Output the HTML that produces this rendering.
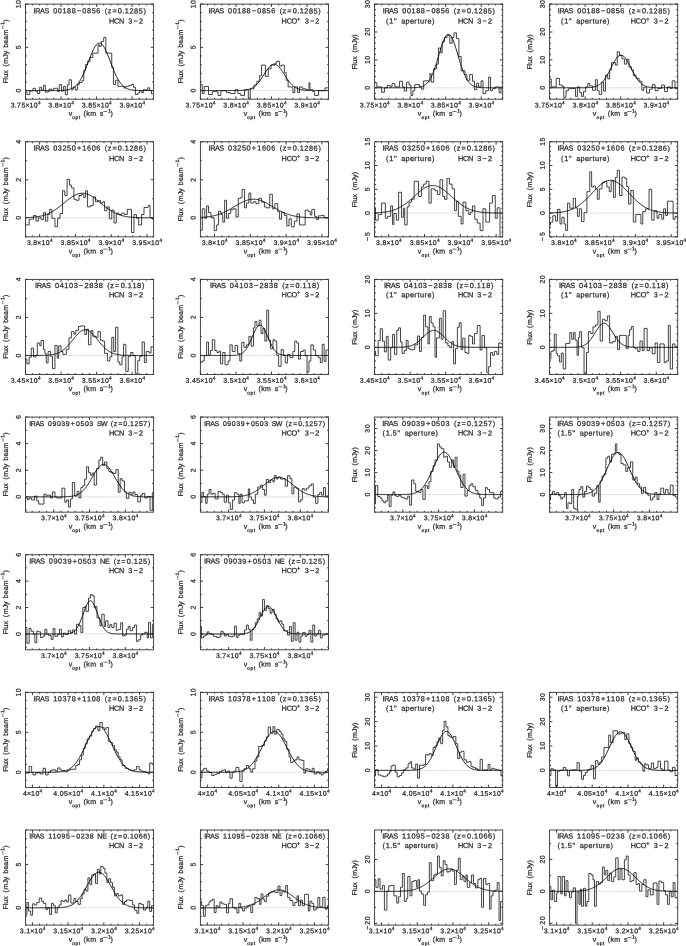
<!DOCTYPE html>
<html><head><meta charset="utf-8"><style>
html,body{margin:0;padding:0;background:#fff;width:686px;height:946px;overflow:hidden}
svg{display:block;will-change:transform}
text{font-family:"Liberation Sans",sans-serif;text-rendering:geometricPrecision;fill:#2a2a2a;stroke:#2a2a2a;stroke-width:0.25px;white-space:pre}
</style></head><body>
<svg width="686" height="946" viewBox="0 0 686 946">
<clipPath id="c00"><rect x="25.5" y="4.1" width="128.1" height="95.1"/></clipPath>
<line x1="25.5" y1="90.55" x2="153.6" y2="90.55" stroke="#999" stroke-width="0.6" stroke-dasharray="0.6 0.7"/>
<path d="M25.47,90.24 H26.90 V94.50 H29.74 V91.00 H33.05 V88.34 H35.42 V91.18 H37.32 V93.55 H39.69 V87.20 H41.58 V90.24 H43.48 V85.31 H45.37 V92.13 H47.74 V91.66 H49.16 V89.10 H51.53 V90.24 H53.43 V88.34 H57.69 V91.47 H59.30 V84.55 H61.48 V91.18 H63.37 V86.45 H65.27 V94.79 H67.35 V84.83 H69.06 V79.81 H71.43 V89.29 H73.32 V86.92 H75.22 V89.76 H77.59 V84.36 H79.48 V82.46 H81.85 V80.76 H83.75 V70.14 H85.64 V64.45 H87.54 V61.33 H90.00 V57.44 H92.79 V53.18 H98.00 V44.83 H99.42 V46.35 H101.32 V41.61 H103.69 V37.35 H105.87 V53.18 H111.74 V67.39 H113.45 V84.45 H115.53 V80.19 H117.90 V86.35 H124.06 V88.06 H125.48 V86.35 H128.80 V85.40 H131.64 V84.45 H133.53 V87.30 H135.43 V94.41 H137.80 V92.99 H139.69 V90.62 H141.59 V92.51 H143.48 V89.67 H145.85 V90.14 H147.75 V87.77 H149.64 V90.33 H151.54 V93.93 H154.38" fill="none" stroke="#222" stroke-width="0.85" clip-path="url(#c00)"/>
<path d="M25.50,90.55 L26.14,90.55 L26.78,90.55 L27.42,90.55 L28.06,90.55 L28.70,90.55 L29.34,90.55 L29.98,90.55 L30.62,90.55 L31.26,90.55 L31.91,90.55 L32.55,90.55 L33.19,90.55 L33.83,90.55 L34.47,90.55 L35.11,90.55 L35.75,90.55 L36.39,90.55 L37.03,90.55 L37.67,90.55 L38.31,90.55 L38.95,90.55 L39.59,90.55 L40.23,90.55 L40.87,90.55 L41.51,90.55 L42.15,90.55 L42.79,90.55 L43.43,90.55 L44.07,90.55 L44.72,90.55 L45.36,90.55 L46.00,90.55 L46.64,90.55 L47.28,90.55 L47.92,90.55 L48.56,90.55 L49.20,90.55 L49.84,90.55 L50.48,90.55 L51.12,90.55 L51.76,90.55 L52.40,90.55 L53.04,90.55 L53.68,90.55 L54.32,90.54 L54.96,90.54 L55.60,90.54 L56.24,90.53 L56.88,90.53 L57.52,90.52 L58.17,90.51 L58.81,90.50 L59.45,90.49 L60.09,90.48 L60.73,90.46 L61.37,90.44 L62.01,90.41 L62.65,90.38 L63.29,90.35 L63.93,90.30 L64.57,90.25 L65.21,90.19 L65.85,90.12 L66.49,90.03 L67.13,89.93 L67.77,89.82 L68.41,89.68 L69.05,89.53 L69.69,89.35 L70.34,89.14 L70.98,88.91 L71.62,88.64 L72.26,88.34 L72.90,88.00 L73.54,87.62 L74.18,87.19 L74.82,86.71 L75.46,86.18 L76.10,85.59 L76.74,84.95 L77.38,84.24 L78.02,83.46 L78.66,82.62 L79.30,81.70 L79.94,80.72 L80.58,79.66 L81.22,78.53 L81.86,77.33 L82.50,76.06 L83.15,74.72 L83.79,73.32 L84.43,71.86 L85.07,70.34 L85.71,68.77 L86.35,67.16 L86.99,65.51 L87.63,63.85 L88.27,62.16 L88.91,60.48 L89.55,58.80 L90.19,57.15 L90.83,55.53 L91.47,53.95 L92.11,52.44 L92.75,50.99 L93.39,49.64 L94.03,48.38 L94.67,47.23 L95.31,46.20 L95.95,45.30 L96.60,44.54 L97.24,43.92 L97.88,43.46 L98.52,43.16 L99.16,43.02 L99.80,43.04 L100.44,43.22 L101.08,43.56 L101.72,44.06 L102.36,44.71 L103.00,45.50 L103.64,46.43 L104.28,47.49 L104.92,48.67 L105.56,49.96 L106.20,51.34 L106.84,52.80 L107.48,54.33 L108.12,55.92 L108.77,57.55 L109.41,59.21 L110.05,60.89 L110.69,62.57 L111.33,64.25 L111.97,65.91 L112.61,67.55 L113.25,69.15 L113.89,70.71 L114.53,72.22 L115.17,73.67 L115.81,75.05 L116.45,76.38 L117.09,77.63 L117.73,78.82 L118.37,79.93 L119.01,80.97 L119.65,81.93 L120.29,82.83 L120.93,83.65 L121.58,84.41 L122.22,85.11 L122.86,85.74 L123.50,86.31 L124.14,86.83 L124.78,87.30 L125.42,87.71 L126.06,88.09 L126.70,88.42 L127.34,88.71 L127.98,88.97 L128.62,89.19 L129.26,89.39 L129.90,89.57 L130.54,89.72 L131.18,89.84 L131.82,89.96 L132.46,90.05 L133.10,90.13 L133.74,90.20 L134.38,90.26 L135.03,90.31 L135.67,90.36 L136.31,90.39 L136.95,90.42 L137.59,90.44 L138.23,90.47 L138.87,90.48 L139.51,90.50 L140.15,90.51 L140.79,90.52 L141.43,90.52 L142.07,90.53 L142.71,90.54 L143.35,90.54 L143.99,90.54 L144.63,90.55 L145.27,90.55 L145.91,90.55 L146.55,90.55 L147.19,90.55 L147.84,90.55 L148.48,90.55 L149.12,90.55 L149.76,90.55 L150.40,90.55 L151.04,90.55 L151.68,90.55 L152.32,90.55 L152.96,90.55 L153.60,90.55" fill="none" stroke="#000" stroke-width="0.9" clip-path="url(#c00)"/>
<rect x="25.5" y="4.1" width="128.1" height="95.1" fill="none" stroke="#333" stroke-width="0.9"/>
<path d="M25.50,99.19999999999999 v-2.8 M25.50,4.1 v2.8 M32.61,99.19999999999999 v-1.4 M32.61,4.1 v1.4 M39.72,99.19999999999999 v-1.4 M39.72,4.1 v1.4 M46.83,99.19999999999999 v-1.4 M46.83,4.1 v1.4 M53.94,99.19999999999999 v-1.4 M53.94,4.1 v1.4 M61.05,99.19999999999999 v-2.8 M61.05,4.1 v2.8 M68.16,99.19999999999999 v-1.4 M68.16,4.1 v1.4 M75.27,99.19999999999999 v-1.4 M75.27,4.1 v1.4 M82.38,99.19999999999999 v-1.4 M82.38,4.1 v1.4 M89.49,99.19999999999999 v-1.4 M89.49,4.1 v1.4 M96.60,99.19999999999999 v-2.8 M96.60,4.1 v2.8 M103.71,99.19999999999999 v-1.4 M103.71,4.1 v1.4 M110.82,99.19999999999999 v-1.4 M110.82,4.1 v1.4 M117.93,99.19999999999999 v-1.4 M117.93,4.1 v1.4 M125.04,99.19999999999999 v-1.4 M125.04,4.1 v1.4 M132.15,99.19999999999999 v-2.8 M132.15,4.1 v2.8 M139.26,99.19999999999999 v-1.4 M139.26,4.1 v1.4 M146.37,99.19999999999999 v-1.4 M146.37,4.1 v1.4 M153.48,99.19999999999999 v-1.4 M153.48,4.1 v1.4 M25.5,99.20 h1.4 M153.6,99.20 h-1.4 M25.5,90.55 h2.8 M153.6,90.55 h-2.8 M25.5,81.91 h1.4 M153.6,81.91 h-1.4 M25.5,73.26 h1.4 M153.6,73.26 h-1.4 M25.5,64.62 h1.4 M153.6,64.62 h-1.4 M25.5,55.97 h1.4 M153.6,55.97 h-1.4 M25.5,47.33 h2.8 M153.6,47.33 h-2.8 M25.5,38.68 h1.4 M153.6,38.68 h-1.4 M25.5,30.04 h1.4 M153.6,30.04 h-1.4 M25.5,21.39 h1.4 M153.6,21.39 h-1.4 M25.5,12.75 h1.4 M153.6,12.75 h-1.4 M25.5,4.10 h2.8 M153.6,4.10 h-2.8" stroke="#333" stroke-width="0.95" fill="none"/>
<text transform="matrix(1,0.0005,0,1,0,-0.0052)" x="10.64 14.82 17.09 21.39 25.38 29.56 33.86" y="107.40" font-size="6.90">3.75×10</text>
<text transform="matrix(1,0.0005,0,1,0,-0.0190)" x="37.96" y="104.20" font-size="4.69">4</text>
<text transform="matrix(1,0.0005,0,1,0,-0.0241)" x="48.34 52.52 54.79 58.78 62.96 67.26" y="107.40" font-size="6.90">3.8×10</text>
<text transform="matrix(1,0.0005,0,1,0,-0.0357)" x="71.36" y="104.20" font-size="4.69">4</text>
<text transform="matrix(1,0.0005,0,1,0,-0.0408)" x="81.74 85.92 88.19 92.49 96.48 100.66 104.96" y="107.40" font-size="6.90">3.85×10</text>
<text transform="matrix(1,0.0005,0,1,0,-0.0545)" x="109.06" y="104.20" font-size="4.69">4</text>
<text transform="matrix(1,0.0005,0,1,0,-0.0596)" x="119.44 123.62 125.89 129.88 134.06 138.36" y="107.40" font-size="6.90">3.9×10</text>
<text transform="matrix(1,0.0005,0,1,0,-0.0712)" x="142.46" y="104.20" font-size="4.69">4</text>
<text transform="translate(20.70,92.70) rotate(-90) matrix(1,0.0005,0,1,0,0)" x="0.23" y="0" font-size="6.90">0</text>
<text transform="translate(20.70,49.48) rotate(-90) matrix(1,0.0005,0,1,0,0)" x="0.23" y="0" font-size="6.90">5</text>
<text transform="translate(20.70,8.40) rotate(-90) matrix(1,0.0005,0,1,0,0)" x="0.23 4.53" y="0" font-size="6.90">10</text>
<text transform="matrix(1,0.0005,0,1,0,-0.0344)" x="68.77" y="115.80" font-size="7.00">v</text>
<text transform="matrix(1,0.0005,0,1,0,-0.0360)" x="72.33 75.53 78.81" y="119.10" font-size="4.90">opt</text>
<text transform="matrix(1,0.0005,0,1,0,-0.0416)" x="83.54 86.29 90.17 97.06 99.83" y="115.80" font-size="7.00">(km s</text>
<line x1="103.30" y1="111.50" x2="107.50" y2="111.50" stroke="#333" stroke-width="0.7"/>
<text transform="matrix(1,0.0005,0,1,0,-0.0540)" x="108.01" y="112.60" font-size="5.00">1</text>
<text transform="matrix(1,0.0005,0,1,0,-0.0551)" x="110.44" y="115.80" font-size="7.00">)</text>
<text transform="translate(8.00,83.30) rotate(-90) matrix(1,0.0005,0,1,0,0)" x="-0.25 3.85 5.52 9.50 13.74 16.70 19.58 25.58 28.94 33.08 35.78 39.67 43.56 47.74" y="0" font-size="7.00">Flux (mJy beam</text>
<line x1="2.90" y1="29.00" x2="2.90" y2="25.20" stroke="#333" stroke-width="0.7"/>
<text transform="translate(4.20,24.90) rotate(-90) matrix(1,0.0005,0,1,0,0)" x="0.11" y="0" font-size="5.00">1</text>
<text transform="translate(8.00,22.10) rotate(-90) matrix(1,0.0005,0,1,0,0)" x="0.31" y="0" font-size="7.00">)</text>
<text transform="matrix(1,0.0005,0,1,0,-0.0168)" x="33.56 35.30 40.02 44.43 50.01 53.17 57.81 62.44 67.08 71.71 76.94 82.37 87.00 91.64 96.27 101.46 104.73 107.72 112.39 117.82 122.31 124.78 129.41 134.05 138.68 143.43" y="13.33" font-size="7.26">IRAS 00188−0856 (z=0.1285)</text>
<text transform="matrix(1,0.0005,0,1,0,-0.0545)" x="109.00 114.01 119.02 125.07 128.25 133.50 138.97" y="23.58" font-size="7.30">HCN 3−2</text>
<clipPath id="c01"><rect x="200.4" y="4.1" width="128.1" height="95.1"/></clipPath>
<line x1="200.4" y1="90.55" x2="328.5" y2="90.55" stroke="#999" stroke-width="0.6" stroke-dasharray="0.6 0.7"/>
<path d="M200.57,84.63 H202.27 V93.55 H204.17 V86.53 H208.53 V94.50 H212.32 V91.65 H218.00 V95.45 H220.85 V90.70 H226.53 V92.60 H230.32 V93.55 H235.06 V89.76 H237.90 V93.55 H240.74 V95.45 H244.53 V89.76 H248.32 V98.29 H250.22 V88.81 H254.01 V85.01 H256.85 V81.22 H259.69 V75.53 H261.59 V65.09 H265.38 V76.48 H268.22 V68.89 H271.06 V65.09 H274.85 V63.20 H276.75 V61.30 H279.59 V66.04 H281.49 V65.09 H284.33 V72.68 H286.22 V80.27 H288.12 V86.91 H292.86 V92.60 H294.75 V86.91 H297.59 V92.60 H299.49 V86.91 H302.33 V88.81 H306.12 V89.76 H308.97 V82.74 H309.91 V89.76 H312.76 V91.65 H314.65 V95.45 H318.44 V90.70 H325.07 V87.86 H328.10" fill="none" stroke="#222" stroke-width="0.85" clip-path="url(#c01)"/>
<path d="M200.40,90.55 L201.04,90.55 L201.68,90.55 L202.32,90.55 L202.96,90.55 L203.60,90.55 L204.24,90.55 L204.88,90.55 L205.52,90.55 L206.16,90.55 L206.81,90.55 L207.45,90.55 L208.09,90.55 L208.73,90.55 L209.37,90.55 L210.01,90.55 L210.65,90.55 L211.29,90.55 L211.93,90.55 L212.57,90.55 L213.21,90.55 L213.85,90.55 L214.49,90.55 L215.13,90.55 L215.77,90.55 L216.41,90.55 L217.05,90.55 L217.69,90.55 L218.33,90.55 L218.97,90.55 L219.62,90.55 L220.26,90.55 L220.90,90.55 L221.54,90.55 L222.18,90.55 L222.82,90.55 L223.46,90.55 L224.10,90.55 L224.74,90.55 L225.38,90.55 L226.02,90.55 L226.66,90.55 L227.30,90.55 L227.94,90.55 L228.58,90.55 L229.22,90.55 L229.86,90.55 L230.50,90.55 L231.14,90.55 L231.78,90.55 L232.43,90.55 L233.07,90.55 L233.71,90.54 L234.35,90.54 L234.99,90.54 L235.63,90.53 L236.27,90.53 L236.91,90.52 L237.55,90.51 L238.19,90.50 L238.83,90.49 L239.47,90.47 L240.11,90.46 L240.75,90.43 L241.39,90.41 L242.03,90.37 L242.67,90.33 L243.31,90.29 L243.95,90.23 L244.59,90.16 L245.24,90.09 L245.88,90.00 L246.52,89.89 L247.16,89.77 L247.80,89.63 L248.44,89.47 L249.08,89.28 L249.72,89.07 L250.36,88.84 L251.00,88.57 L251.64,88.27 L252.28,87.93 L252.92,87.56 L253.56,87.15 L254.20,86.70 L254.84,86.20 L255.48,85.66 L256.12,85.07 L256.76,84.44 L257.40,83.76 L258.05,83.03 L258.69,82.26 L259.33,81.45 L259.97,80.59 L260.61,79.70 L261.25,78.78 L261.89,77.83 L262.53,76.85 L263.17,75.86 L263.81,74.86 L264.45,73.86 L265.09,72.86 L265.73,71.87 L266.37,70.91 L267.01,69.98 L267.65,69.10 L268.29,68.26 L268.93,67.48 L269.57,66.76 L270.21,66.12 L270.86,65.57 L271.50,65.10 L272.14,64.72 L272.78,64.44 L273.42,64.26 L274.06,64.19 L274.70,64.22 L275.34,64.35 L275.98,64.58 L276.62,64.92 L277.26,65.35 L277.90,65.87 L278.54,66.47 L279.18,67.15 L279.82,67.90 L280.46,68.72 L281.10,69.58 L281.74,70.50 L282.38,71.44 L283.02,72.42 L283.67,73.41 L284.31,74.41 L284.95,75.42 L285.59,76.41 L286.23,77.40 L286.87,78.36 L287.51,79.30 L288.15,80.20 L288.79,81.07 L289.43,81.90 L290.07,82.69 L290.71,83.44 L291.35,84.14 L291.99,84.79 L292.63,85.40 L293.27,85.96 L293.91,86.48 L294.55,86.95 L295.19,87.38 L295.83,87.77 L296.48,88.13 L297.12,88.44 L297.76,88.72 L298.40,88.97 L299.04,89.19 L299.68,89.39 L300.32,89.56 L300.96,89.71 L301.60,89.84 L302.24,89.95 L302.88,90.05 L303.52,90.13 L304.16,90.20 L304.80,90.26 L305.44,90.31 L306.08,90.36 L306.72,90.39 L307.36,90.42 L308.00,90.45 L308.64,90.47 L309.29,90.48 L309.93,90.50 L310.57,90.51 L311.21,90.52 L311.85,90.53 L312.49,90.53 L313.13,90.54 L313.77,90.54 L314.41,90.54 L315.05,90.55 L315.69,90.55 L316.33,90.55 L316.97,90.55 L317.61,90.55 L318.25,90.55 L318.89,90.55 L319.53,90.55 L320.17,90.55 L320.81,90.55 L321.45,90.55 L322.10,90.55 L322.74,90.55 L323.38,90.55 L324.02,90.55 L324.66,90.55 L325.30,90.55 L325.94,90.55 L326.58,90.55 L327.22,90.55 L327.86,90.55 L328.50,90.55" fill="none" stroke="#000" stroke-width="0.9" clip-path="url(#c01)"/>
<rect x="200.4" y="4.1" width="128.1" height="95.1" fill="none" stroke="#333" stroke-width="0.9"/>
<path d="M200.40,99.19999999999999 v-2.8 M200.40,4.1 v2.8 M207.51,99.19999999999999 v-1.4 M207.51,4.1 v1.4 M214.62,99.19999999999999 v-1.4 M214.62,4.1 v1.4 M221.73,99.19999999999999 v-1.4 M221.73,4.1 v1.4 M228.84,99.19999999999999 v-1.4 M228.84,4.1 v1.4 M235.95,99.19999999999999 v-2.8 M235.95,4.1 v2.8 M243.06,99.19999999999999 v-1.4 M243.06,4.1 v1.4 M250.17,99.19999999999999 v-1.4 M250.17,4.1 v1.4 M257.28,99.19999999999999 v-1.4 M257.28,4.1 v1.4 M264.39,99.19999999999999 v-1.4 M264.39,4.1 v1.4 M271.50,99.19999999999999 v-2.8 M271.50,4.1 v2.8 M278.61,99.19999999999999 v-1.4 M278.61,4.1 v1.4 M285.72,99.19999999999999 v-1.4 M285.72,4.1 v1.4 M292.83,99.19999999999999 v-1.4 M292.83,4.1 v1.4 M299.94,99.19999999999999 v-1.4 M299.94,4.1 v1.4 M307.05,99.19999999999999 v-2.8 M307.05,4.1 v2.8 M314.16,99.19999999999999 v-1.4 M314.16,4.1 v1.4 M321.27,99.19999999999999 v-1.4 M321.27,4.1 v1.4 M328.38,99.19999999999999 v-1.4 M328.38,4.1 v1.4 M200.4,99.20 h1.4 M328.5,99.20 h-1.4 M200.4,90.55 h2.8 M328.5,90.55 h-2.8 M200.4,81.91 h1.4 M328.5,81.91 h-1.4 M200.4,73.26 h1.4 M328.5,73.26 h-1.4 M200.4,64.62 h1.4 M328.5,64.62 h-1.4 M200.4,55.97 h1.4 M328.5,55.97 h-1.4 M200.4,47.33 h2.8 M328.5,47.33 h-2.8 M200.4,38.68 h1.4 M328.5,38.68 h-1.4 M200.4,30.04 h1.4 M328.5,30.04 h-1.4 M200.4,21.39 h1.4 M328.5,21.39 h-1.4 M200.4,12.75 h1.4 M328.5,12.75 h-1.4 M200.4,4.10 h2.8 M328.5,4.10 h-2.8" stroke="#333" stroke-width="0.95" fill="none"/>
<text transform="matrix(1,0.0005,0,1,0,-0.0927)" x="185.54 189.72 191.99 196.29 200.28 204.46 208.76" y="107.40" font-size="6.90">3.75×10</text>
<text transform="matrix(1,0.0005,0,1,0,-0.1064)" x="212.86" y="104.20" font-size="4.69">4</text>
<text transform="matrix(1,0.0005,0,1,0,-0.1115)" x="223.24 227.42 229.69 233.68 237.86 242.16" y="107.40" font-size="6.90">3.8×10</text>
<text transform="matrix(1,0.0005,0,1,0,-0.1231)" x="246.26" y="104.20" font-size="4.69">4</text>
<text transform="matrix(1,0.0005,0,1,0,-0.1282)" x="256.64 260.82 263.09 267.39 271.38 275.56 279.86" y="107.40" font-size="6.90">3.85×10</text>
<text transform="matrix(1,0.0005,0,1,0,-0.1420)" x="283.96" y="104.20" font-size="4.69">4</text>
<text transform="matrix(1,0.0005,0,1,0,-0.1471)" x="294.34 298.52 300.79 304.78 308.96 313.26" y="107.40" font-size="6.90">3.9×10</text>
<text transform="matrix(1,0.0005,0,1,0,-0.1587)" x="317.36" y="104.20" font-size="4.69">4</text>
<text transform="translate(195.60,92.70) rotate(-90) matrix(1,0.0005,0,1,0,0)" x="0.23" y="0" font-size="6.90">0</text>
<text transform="translate(195.60,49.48) rotate(-90) matrix(1,0.0005,0,1,0,0)" x="0.23" y="0" font-size="6.90">5</text>
<text transform="translate(195.60,8.40) rotate(-90) matrix(1,0.0005,0,1,0,0)" x="0.23 4.53" y="0" font-size="6.90">10</text>
<text transform="matrix(1,0.0005,0,1,0,-0.1218)" x="243.67" y="115.80" font-size="7.00">v</text>
<text transform="matrix(1,0.0005,0,1,0,-0.1235)" x="247.23 250.43 253.71" y="119.10" font-size="4.90">opt</text>
<text transform="matrix(1,0.0005,0,1,0,-0.1291)" x="258.44 261.19 265.07 271.96 274.73" y="115.80" font-size="7.00">(km s</text>
<line x1="278.20" y1="111.50" x2="282.40" y2="111.50" stroke="#333" stroke-width="0.7"/>
<text transform="matrix(1,0.0005,0,1,0,-0.1414)" x="282.91" y="112.60" font-size="5.00">1</text>
<text transform="matrix(1,0.0005,0,1,0,-0.1425)" x="285.34" y="115.80" font-size="7.00">)</text>
<text transform="translate(182.90,83.30) rotate(-90) matrix(1,0.0005,0,1,0,0)" x="-0.25 3.85 5.52 9.50 13.74 16.70 19.58 25.58 28.94 33.08 35.78 39.67 43.56 47.74" y="0" font-size="7.00">Flux (mJy beam</text>
<line x1="177.80" y1="29.00" x2="177.80" y2="25.20" stroke="#333" stroke-width="0.7"/>
<text transform="translate(179.10,24.90) rotate(-90) matrix(1,0.0005,0,1,0,0)" x="0.11" y="0" font-size="5.00">1</text>
<text transform="translate(182.90,22.10) rotate(-90) matrix(1,0.0005,0,1,0,0)" x="0.31" y="0" font-size="7.00">)</text>
<text transform="matrix(1,0.0005,0,1,0,-0.1043)" x="208.46 210.20 214.92 219.33 224.91 228.07 232.71 237.34 241.98 246.61 251.84 257.27 261.90 266.54 271.17 276.36 279.63 282.62 287.29 292.72 297.21 299.68 304.31 308.95 313.58 318.33" y="13.33" font-size="7.26">IRAS 00188−0856 (z=0.1285)</text>
<text transform="matrix(1,0.0005,0,1,0,-0.1408)" x="281.62 286.63 291.44" y="23.58" font-size="7.30">HCO</text>
<text transform="matrix(1,0.0005,0,1,0,-0.1484)" x="297.08" y="20.88" font-size="5.60">+</text>
<text transform="matrix(1,0.0005,0,1,0,-0.1503)" x="301.45 304.63 309.88 315.34" y="23.58" font-size="7.30"> 3−2</text>
<clipPath id="c02"><rect x="374.6" y="4.1" width="128.1" height="95.1"/></clipPath>
<line x1="374.6" y1="87.77" x2="502.70000000000005" y2="87.77" stroke="#999" stroke-width="0.6" stroke-dasharray="0.6 0.7"/>
<path d="M374.00,82.74 H376.84 V86.91 H381.58 V92.22 H384.42 V87.86 H387.27 V85.39 H390.11 V86.91 H392.00 V83.69 H394.85 V86.91 H399.58 V81.22 H402.43 V86.91 H404.32 V91.08 H406.59 V82.17 H409.06 V85.01 H410.95 V95.45 H412.85 V90.70 H414.74 V84.63 H419.48 V86.91 H421.38 V89.19 H423.65 V80.84 H428.01 V81.22 H429.90 V73.63 H431.23 V82.17 H433.69 V68.89 H436.54 V64.15 H438.43 V48.02 H440.71 V52.76 H442.22 V41.76 H444.50 V37.59 H446.96 V35.31 H449.80 V43.28 H452.08 V37.59 H453.97 V32.85 H456.43 V38.54 H458.90 V56.56 H461.17 V70.79 H464.96 V74.58 H466.86 V80.27 H469.70 V74.58 H472.54 V81.22 H474.44 V89.76 H476.71 V83.12 H478.61 V86.91 H481.07 V80.84 H482.97 V93.55 H485.81 V90.70 H488.65 V77.05 H490.55 V90.70 H492.44 V88.81 H495.28 V86.91 H499.07 V92.60 H500.97 V86.91 H504.76" fill="none" stroke="#222" stroke-width="0.85" clip-path="url(#c02)"/>
<path d="M374.60,87.77 L375.24,87.77 L375.88,87.77 L376.52,87.77 L377.16,87.77 L377.80,87.77 L378.44,87.77 L379.08,87.77 L379.72,87.77 L380.36,87.77 L381.00,87.77 L381.65,87.77 L382.29,87.77 L382.93,87.77 L383.57,87.77 L384.21,87.77 L384.85,87.77 L385.49,87.77 L386.13,87.77 L386.77,87.77 L387.41,87.77 L388.05,87.77 L388.69,87.77 L389.33,87.77 L389.97,87.77 L390.61,87.77 L391.25,87.77 L391.89,87.77 L392.53,87.77 L393.17,87.77 L393.81,87.77 L394.46,87.77 L395.10,87.77 L395.74,87.77 L396.38,87.77 L397.02,87.77 L397.66,87.77 L398.30,87.77 L398.94,87.77 L399.58,87.77 L400.22,87.77 L400.86,87.77 L401.50,87.77 L402.14,87.77 L402.78,87.77 L403.42,87.76 L404.06,87.76 L404.70,87.76 L405.34,87.76 L405.98,87.76 L406.62,87.76 L407.27,87.76 L407.91,87.76 L408.55,87.76 L409.19,87.75 L409.83,87.75 L410.47,87.74 L411.11,87.74 L411.75,87.73 L412.39,87.72 L413.03,87.71 L413.67,87.69 L414.31,87.67 L414.95,87.64 L415.59,87.61 L416.23,87.57 L416.87,87.52 L417.51,87.46 L418.15,87.39 L418.79,87.30 L419.44,87.20 L420.08,87.08 L420.72,86.93 L421.36,86.75 L422.00,86.55 L422.64,86.30 L423.28,86.02 L423.92,85.69 L424.56,85.31 L425.20,84.88 L425.84,84.38 L426.48,83.82 L427.12,83.18 L427.76,82.46 L428.40,81.65 L429.04,80.75 L429.68,79.76 L430.32,78.67 L430.96,77.48 L431.60,76.18 L432.25,74.77 L432.89,73.26 L433.53,71.64 L434.17,69.93 L434.81,68.12 L435.45,66.22 L436.09,64.24 L436.73,62.19 L437.37,60.10 L438.01,57.96 L438.65,55.80 L439.29,53.63 L439.93,51.48 L440.57,49.37 L441.21,47.31 L441.85,45.33 L442.49,43.45 L443.13,41.70 L443.77,40.09 L444.41,38.64 L445.06,37.37 L445.70,36.30 L446.34,35.44 L446.98,34.81 L447.62,34.40 L448.26,34.23 L448.90,34.29 L449.54,34.59 L450.18,35.13 L450.82,35.89 L451.46,36.87 L452.10,38.05 L452.74,39.42 L453.38,40.96 L454.02,42.66 L454.66,44.48 L455.30,46.42 L455.94,48.44 L456.58,50.53 L457.22,52.67 L457.87,54.83 L458.51,57.00 L459.15,59.15 L459.79,61.27 L460.43,63.34 L461.07,65.35 L461.71,67.28 L462.35,69.13 L462.99,70.89 L463.63,72.55 L464.27,74.11 L464.91,75.56 L465.55,76.91 L466.19,78.15 L466.83,79.29 L467.47,80.32 L468.11,81.26 L468.75,82.11 L469.39,82.87 L470.03,83.54 L470.68,84.14 L471.32,84.67 L471.96,85.13 L472.60,85.53 L473.24,85.88 L473.88,86.18 L474.52,86.44 L475.16,86.67 L475.80,86.85 L476.44,87.01 L477.08,87.15 L477.72,87.26 L478.36,87.35 L479.00,87.43 L479.64,87.50 L480.28,87.55 L480.92,87.59 L481.56,87.63 L482.20,87.66 L482.84,87.68 L483.49,87.70 L484.13,87.71 L484.77,87.72 L485.41,87.73 L486.05,87.74 L486.69,87.75 L487.33,87.75 L487.97,87.75 L488.61,87.76 L489.25,87.76 L489.89,87.76 L490.53,87.76 L491.17,87.76 L491.81,87.76 L492.45,87.76 L493.09,87.76 L493.73,87.76 L494.37,87.77 L495.01,87.77 L495.65,87.77 L496.30,87.77 L496.94,87.77 L497.58,87.77 L498.22,87.77 L498.86,87.77 L499.50,87.77 L500.14,87.77 L500.78,87.77 L501.42,87.77 L502.06,87.77 L502.70,87.77" fill="none" stroke="#000" stroke-width="0.9" clip-path="url(#c02)"/>
<rect x="374.6" y="4.1" width="128.1" height="95.1" fill="none" stroke="#333" stroke-width="0.9"/>
<path d="M374.60,99.19999999999999 v-2.8 M374.60,4.1 v2.8 M381.71,99.19999999999999 v-1.4 M381.71,4.1 v1.4 M388.82,99.19999999999999 v-1.4 M388.82,4.1 v1.4 M395.93,99.19999999999999 v-1.4 M395.93,4.1 v1.4 M403.04,99.19999999999999 v-1.4 M403.04,4.1 v1.4 M410.15,99.19999999999999 v-2.8 M410.15,4.1 v2.8 M417.26,99.19999999999999 v-1.4 M417.26,4.1 v1.4 M424.37,99.19999999999999 v-1.4 M424.37,4.1 v1.4 M431.48,99.19999999999999 v-1.4 M431.48,4.1 v1.4 M438.59,99.19999999999999 v-1.4 M438.59,4.1 v1.4 M445.70,99.19999999999999 v-2.8 M445.70,4.1 v2.8 M452.81,99.19999999999999 v-1.4 M452.81,4.1 v1.4 M459.92,99.19999999999999 v-1.4 M459.92,4.1 v1.4 M467.03,99.19999999999999 v-1.4 M467.03,4.1 v1.4 M474.14,99.19999999999999 v-1.4 M474.14,4.1 v1.4 M481.25,99.19999999999999 v-2.8 M481.25,4.1 v2.8 M488.36,99.19999999999999 v-1.4 M488.36,4.1 v1.4 M495.47,99.19999999999999 v-1.4 M495.47,4.1 v1.4 M502.58,99.19999999999999 v-1.4 M502.58,4.1 v1.4 M374.6,98.92 h1.4 M502.70000000000005,98.92 h-1.4 M374.6,93.34 h1.4 M502.70000000000005,93.34 h-1.4 M374.6,87.77 h2.8 M502.70000000000005,87.77 h-2.8 M374.6,82.19 h1.4 M502.70000000000005,82.19 h-1.4 M374.6,76.61 h1.4 M502.70000000000005,76.61 h-1.4 M374.6,71.03 h1.4 M502.70000000000005,71.03 h-1.4 M374.6,65.45 h1.4 M502.70000000000005,65.45 h-1.4 M374.6,59.88 h2.8 M502.70000000000005,59.88 h-2.8 M374.6,54.30 h1.4 M502.70000000000005,54.30 h-1.4 M374.6,48.72 h1.4 M502.70000000000005,48.72 h-1.4 M374.6,43.14 h1.4 M502.70000000000005,43.14 h-1.4 M374.6,37.57 h1.4 M502.70000000000005,37.57 h-1.4 M374.6,31.99 h2.8 M502.70000000000005,31.99 h-2.8 M374.6,26.41 h1.4 M502.70000000000005,26.41 h-1.4 M374.6,20.83 h1.4 M502.70000000000005,20.83 h-1.4 M374.6,15.26 h1.4 M502.70000000000005,15.26 h-1.4 M374.6,9.68 h1.4 M502.70000000000005,9.68 h-1.4 M374.6,4.10 h2.8 M502.70000000000005,4.10 h-2.8" stroke="#333" stroke-width="0.95" fill="none"/>
<text transform="matrix(1,0.0005,0,1,0,-0.1798)" x="359.74 363.92 366.19 370.49 374.48 378.66 382.96" y="107.40" font-size="6.90">3.75×10</text>
<text transform="matrix(1,0.0005,0,1,0,-0.1935)" x="387.06" y="104.20" font-size="4.69">4</text>
<text transform="matrix(1,0.0005,0,1,0,-0.1986)" x="397.44 401.62 403.89 407.88 412.06 416.36" y="107.40" font-size="6.90">3.8×10</text>
<text transform="matrix(1,0.0005,0,1,0,-0.2102)" x="420.46" y="104.20" font-size="4.69">4</text>
<text transform="matrix(1,0.0005,0,1,0,-0.2153)" x="430.84 435.02 437.29 441.59 445.58 449.76 454.06" y="107.40" font-size="6.90">3.85×10</text>
<text transform="matrix(1,0.0005,0,1,0,-0.2291)" x="458.16" y="104.20" font-size="4.69">4</text>
<text transform="matrix(1,0.0005,0,1,0,-0.2342)" x="468.54 472.72 474.99 478.98 483.16 487.46" y="107.40" font-size="6.90">3.9×10</text>
<text transform="matrix(1,0.0005,0,1,0,-0.2458)" x="491.56" y="104.20" font-size="4.69">4</text>
<text transform="translate(369.80,89.92) rotate(-90) matrix(1,0.0005,0,1,0,0)" x="0.23" y="0" font-size="6.90">0</text>
<text transform="translate(369.80,64.18) rotate(-90) matrix(1,0.0005,0,1,0,0)" x="0.23 4.53" y="0" font-size="6.90">10</text>
<text transform="translate(369.80,36.29) rotate(-90) matrix(1,0.0005,0,1,0,0)" x="0.23 4.53" y="0" font-size="6.90">20</text>
<text transform="translate(369.80,8.40) rotate(-90) matrix(1,0.0005,0,1,0,0)" x="0.23 4.53" y="0" font-size="6.90">30</text>
<text transform="matrix(1,0.0005,0,1,0,-0.2090)" x="417.87" y="115.80" font-size="7.00">v</text>
<text transform="matrix(1,0.0005,0,1,0,-0.2106)" x="421.43 424.63 427.91" y="119.10" font-size="4.90">opt</text>
<text transform="matrix(1,0.0005,0,1,0,-0.2162)" x="432.64 435.39 439.27 446.16 448.93" y="115.80" font-size="7.00">(km s</text>
<line x1="452.40" y1="111.50" x2="456.60" y2="111.50" stroke="#333" stroke-width="0.7"/>
<text transform="matrix(1,0.0005,0,1,0,-0.2285)" x="457.11" y="112.60" font-size="5.00">1</text>
<text transform="matrix(1,0.0005,0,1,0,-0.2296)" x="459.54" y="115.80" font-size="7.00">)</text>
<text transform="translate(357.10,69.31) rotate(-90) matrix(1,0.0005,0,1,0,0)" x="-0.25 3.85 5.52 9.50 13.74 16.70 19.58 25.58 28.94 32.68" y="0" font-size="7.00">Flux (mJy)</text>
<text transform="matrix(1,0.0005,0,1,0,-0.1914)" x="382.66 384.40 389.12 393.53 399.11 402.27 406.91 411.54 416.18 420.81 426.04 431.47 436.10 440.74 445.37 450.56 453.83 456.82 461.49 466.92 471.41 473.88 478.51 483.15 487.78 492.53" y="13.33" font-size="7.26">IRAS 00188−0856 (z=0.1285)</text>
<text transform="matrix(1,0.0005,0,1,0,-0.1928)" x="386.03 389.18 394.11 398.12 401.18 405.61 409.92 414.34 417.46 420.05 424.60 427.39 431.93" y="23.58" font-size="7.30">(1" aperture)</text>
<text transform="matrix(1,0.0005,0,1,0,-0.2291)" x="458.10 463.11 468.12 474.17 477.35 482.60 488.07" y="23.58" font-size="7.30">HCN 3−2</text>
<clipPath id="c03"><rect x="549.6" y="4.1" width="128.1" height="95.1"/></clipPath>
<line x1="549.6" y1="87.77" x2="677.7" y2="87.77" stroke="#999" stroke-width="0.6" stroke-dasharray="0.6 0.7"/>
<path d="M549.00,78.94 H551.27 V86.91 H556.20 V78.37 H559.42 V85.01 H562.27 V86.53 H563.78 V97.34 H566.06 V90.70 H568.33 V88.81 H570.79 V88.43 H575.53 V96.40 H577.43 V86.91 H579.70 V92.60 H581.59 V96.40 H583.49 V91.65 H585.57 V86.91 H587.85 V83.50 H589.74 V85.96 H592.59 V90.33 H595.43 V79.70 H597.32 V90.70 H599.22 V94.50 H601.68 V82.17 H603.58 V91.08 H605.47 V75.15 H607.75 V78.94 H609.64 V69.84 H611.54 V62.63 H615.33 V65.09 H617.22 V51.82 H619.50 V55.61 H621.96 V58.83 H624.42 V64.15 H626.70 V59.40 H628.97 V66.99 H631.43 V69.84 H633.33 V75.53 H636.17 V78.37 H639.01 V81.22 H641.86 V90.33 H643.75 V87.29 H646.59 V92.98 H649.44 V89.19 H652.28 V84.63 H655.12 V90.70 H657.97 V88.43 H661.76 V85.01 H664.60 V91.65 H667.44 V86.91 H670.28 V88.43 H672.18 V80.84 H675.02 V88.43 H679.76" fill="none" stroke="#222" stroke-width="0.85" clip-path="url(#c03)"/>
<path d="M549.60,87.77 L550.24,87.77 L550.88,87.77 L551.52,87.77 L552.16,87.77 L552.80,87.77 L553.44,87.77 L554.08,87.77 L554.72,87.77 L555.36,87.77 L556.00,87.77 L556.65,87.77 L557.29,87.77 L557.93,87.77 L558.57,87.77 L559.21,87.77 L559.85,87.77 L560.49,87.77 L561.13,87.77 L561.77,87.77 L562.41,87.77 L563.05,87.77 L563.69,87.77 L564.33,87.77 L564.97,87.77 L565.61,87.77 L566.25,87.77 L566.89,87.77 L567.53,87.77 L568.17,87.77 L568.82,87.77 L569.46,87.77 L570.10,87.77 L570.74,87.77 L571.38,87.77 L572.02,87.77 L572.66,87.77 L573.30,87.77 L573.94,87.77 L574.58,87.77 L575.22,87.76 L575.86,87.76 L576.50,87.76 L577.14,87.76 L577.78,87.76 L578.42,87.76 L579.06,87.76 L579.70,87.76 L580.34,87.76 L580.98,87.75 L581.62,87.75 L582.27,87.75 L582.91,87.74 L583.55,87.74 L584.19,87.73 L584.83,87.72 L585.47,87.71 L586.11,87.69 L586.75,87.67 L587.39,87.65 L588.03,87.62 L588.67,87.59 L589.31,87.55 L589.95,87.50 L590.59,87.45 L591.23,87.38 L591.87,87.30 L592.51,87.20 L593.15,87.09 L593.79,86.96 L594.44,86.81 L595.08,86.63 L595.72,86.43 L596.36,86.20 L597.00,85.94 L597.64,85.64 L598.28,85.30 L598.92,84.92 L599.56,84.49 L600.20,84.02 L600.84,83.49 L601.48,82.91 L602.12,82.27 L602.76,81.58 L603.40,80.83 L604.04,80.02 L604.68,79.15 L605.32,78.22 L605.96,77.23 L606.60,76.19 L607.25,75.10 L607.89,73.96 L608.53,72.78 L609.17,71.56 L609.81,70.33 L610.45,69.07 L611.09,67.80 L611.73,66.54 L612.37,65.28 L613.01,64.05 L613.65,62.86 L614.29,61.71 L614.93,60.62 L615.57,59.61 L616.21,58.67 L616.85,57.83 L617.49,57.08 L618.13,56.45 L618.77,55.93 L619.41,55.54 L620.06,55.28 L620.70,55.15 L621.34,55.15 L621.98,55.29 L622.62,55.56 L623.26,55.96 L623.90,56.48 L624.54,57.12 L625.18,57.86 L625.82,58.71 L626.46,59.65 L627.10,60.68 L627.74,61.77 L628.38,62.92 L629.02,64.11 L629.66,65.34 L630.30,66.60 L630.94,67.86 L631.58,69.13 L632.22,70.39 L632.87,71.63 L633.51,72.84 L634.15,74.01 L634.79,75.15 L635.43,76.24 L636.07,77.28 L636.71,78.26 L637.35,79.19 L637.99,80.06 L638.63,80.87 L639.27,81.62 L639.91,82.31 L640.55,82.94 L641.19,83.52 L641.83,84.04 L642.47,84.51 L643.11,84.94 L643.75,85.31 L644.39,85.65 L645.03,85.95 L645.68,86.21 L646.32,86.44 L646.96,86.64 L647.60,86.82 L648.24,86.97 L648.88,87.10 L649.52,87.21 L650.16,87.30 L650.80,87.38 L651.44,87.45 L652.08,87.51 L652.72,87.55 L653.36,87.59 L654.00,87.62 L654.64,87.65 L655.28,87.67 L655.92,87.69 L656.56,87.71 L657.20,87.72 L657.84,87.73 L658.49,87.74 L659.13,87.74 L659.77,87.75 L660.41,87.75 L661.05,87.75 L661.69,87.76 L662.33,87.76 L662.97,87.76 L663.61,87.76 L664.25,87.76 L664.89,87.76 L665.53,87.76 L666.17,87.76 L666.81,87.76 L667.45,87.77 L668.09,87.77 L668.73,87.77 L669.37,87.77 L670.01,87.77 L670.65,87.77 L671.30,87.77 L671.94,87.77 L672.58,87.77 L673.22,87.77 L673.86,87.77 L674.50,87.77 L675.14,87.77 L675.78,87.77 L676.42,87.77 L677.06,87.77 L677.70,87.77" fill="none" stroke="#000" stroke-width="0.9" clip-path="url(#c03)"/>
<rect x="549.6" y="4.1" width="128.1" height="95.1" fill="none" stroke="#333" stroke-width="0.9"/>
<path d="M549.60,99.19999999999999 v-2.8 M549.60,4.1 v2.8 M556.71,99.19999999999999 v-1.4 M556.71,4.1 v1.4 M563.82,99.19999999999999 v-1.4 M563.82,4.1 v1.4 M570.93,99.19999999999999 v-1.4 M570.93,4.1 v1.4 M578.04,99.19999999999999 v-1.4 M578.04,4.1 v1.4 M585.15,99.19999999999999 v-2.8 M585.15,4.1 v2.8 M592.26,99.19999999999999 v-1.4 M592.26,4.1 v1.4 M599.37,99.19999999999999 v-1.4 M599.37,4.1 v1.4 M606.48,99.19999999999999 v-1.4 M606.48,4.1 v1.4 M613.59,99.19999999999999 v-1.4 M613.59,4.1 v1.4 M620.70,99.19999999999999 v-2.8 M620.70,4.1 v2.8 M627.81,99.19999999999999 v-1.4 M627.81,4.1 v1.4 M634.92,99.19999999999999 v-1.4 M634.92,4.1 v1.4 M642.03,99.19999999999999 v-1.4 M642.03,4.1 v1.4 M649.14,99.19999999999999 v-1.4 M649.14,4.1 v1.4 M656.25,99.19999999999999 v-2.8 M656.25,4.1 v2.8 M663.36,99.19999999999999 v-1.4 M663.36,4.1 v1.4 M670.47,99.19999999999999 v-1.4 M670.47,4.1 v1.4 M677.58,99.19999999999999 v-1.4 M677.58,4.1 v1.4 M549.6,98.92 h1.4 M677.7,98.92 h-1.4 M549.6,93.34 h1.4 M677.7,93.34 h-1.4 M549.6,87.77 h2.8 M677.7,87.77 h-2.8 M549.6,82.19 h1.4 M677.7,82.19 h-1.4 M549.6,76.61 h1.4 M677.7,76.61 h-1.4 M549.6,71.03 h1.4 M677.7,71.03 h-1.4 M549.6,65.45 h1.4 M677.7,65.45 h-1.4 M549.6,59.88 h2.8 M677.7,59.88 h-2.8 M549.6,54.30 h1.4 M677.7,54.30 h-1.4 M549.6,48.72 h1.4 M677.7,48.72 h-1.4 M549.6,43.14 h1.4 M677.7,43.14 h-1.4 M549.6,37.57 h1.4 M677.7,37.57 h-1.4 M549.6,31.99 h2.8 M677.7,31.99 h-2.8 M549.6,26.41 h1.4 M677.7,26.41 h-1.4 M549.6,20.83 h1.4 M677.7,20.83 h-1.4 M549.6,15.26 h1.4 M677.7,15.26 h-1.4 M549.6,9.68 h1.4 M677.7,9.68 h-1.4 M549.6,4.10 h2.8 M677.7,4.10 h-2.8" stroke="#333" stroke-width="0.95" fill="none"/>
<text transform="matrix(1,0.0005,0,1,0,-0.2673)" x="534.74 538.92 541.19 545.49 549.48 553.66 557.96" y="107.40" font-size="6.90">3.75×10</text>
<text transform="matrix(1,0.0005,0,1,0,-0.2810)" x="562.06" y="104.20" font-size="4.69">4</text>
<text transform="matrix(1,0.0005,0,1,0,-0.2861)" x="572.44 576.62 578.89 582.88 587.06 591.36" y="107.40" font-size="6.90">3.8×10</text>
<text transform="matrix(1,0.0005,0,1,0,-0.2977)" x="595.46" y="104.20" font-size="4.69">4</text>
<text transform="matrix(1,0.0005,0,1,0,-0.3028)" x="605.84 610.02 612.29 616.59 620.58 624.76 629.06" y="107.40" font-size="6.90">3.85×10</text>
<text transform="matrix(1,0.0005,0,1,0,-0.3166)" x="633.16" y="104.20" font-size="4.69">4</text>
<text transform="matrix(1,0.0005,0,1,0,-0.3217)" x="643.54 647.72 649.99 653.98 658.16 662.46" y="107.40" font-size="6.90">3.9×10</text>
<text transform="matrix(1,0.0005,0,1,0,-0.3333)" x="666.56" y="104.20" font-size="4.69">4</text>
<text transform="translate(544.80,89.92) rotate(-90) matrix(1,0.0005,0,1,0,0)" x="0.23" y="0" font-size="6.90">0</text>
<text transform="translate(544.80,64.18) rotate(-90) matrix(1,0.0005,0,1,0,0)" x="0.23 4.53" y="0" font-size="6.90">10</text>
<text transform="translate(544.80,36.29) rotate(-90) matrix(1,0.0005,0,1,0,0)" x="0.23 4.53" y="0" font-size="6.90">20</text>
<text transform="translate(544.80,8.40) rotate(-90) matrix(1,0.0005,0,1,0,0)" x="0.23 4.53" y="0" font-size="6.90">30</text>
<text transform="matrix(1,0.0005,0,1,0,-0.2964)" x="592.87" y="115.80" font-size="7.00">v</text>
<text transform="matrix(1,0.0005,0,1,0,-0.2981)" x="596.43 599.63 602.91" y="119.10" font-size="4.90">opt</text>
<text transform="matrix(1,0.0005,0,1,0,-0.3037)" x="607.64 610.39 614.27 621.16 623.93" y="115.80" font-size="7.00">(km s</text>
<line x1="627.40" y1="111.50" x2="631.60" y2="111.50" stroke="#333" stroke-width="0.7"/>
<text transform="matrix(1,0.0005,0,1,0,-0.3160)" x="632.11" y="112.60" font-size="5.00">1</text>
<text transform="matrix(1,0.0005,0,1,0,-0.3171)" x="634.54" y="115.80" font-size="7.00">)</text>
<text transform="translate(532.10,69.31) rotate(-90) matrix(1,0.0005,0,1,0,0)" x="-0.25 3.85 5.52 9.50 13.74 16.70 19.58 25.58 28.94 32.68" y="0" font-size="7.00">Flux (mJy)</text>
<text transform="matrix(1,0.0005,0,1,0,-0.2789)" x="557.66 559.40 564.12 568.53 574.11 577.27 581.91 586.54 591.18 595.81 601.04 606.47 611.10 615.74 620.37 625.56 628.83 631.82 636.49 641.92 646.41 648.88 653.51 658.15 662.78 667.53" y="13.33" font-size="7.26">IRAS 00188−0856 (z=0.1285)</text>
<text transform="matrix(1,0.0005,0,1,0,-0.2803)" x="561.03 564.18 569.11 573.12 576.18 580.61 584.92 589.34 592.46 595.05 599.60 602.39 606.93" y="23.58" font-size="7.30">(1" aperture)</text>
<text transform="matrix(1,0.0005,0,1,0,-0.3154)" x="630.82 635.83 640.64" y="23.58" font-size="7.30">HCO</text>
<text transform="matrix(1,0.0005,0,1,0,-0.3230)" x="646.28" y="20.88" font-size="5.60">+</text>
<text transform="matrix(1,0.0005,0,1,0,-0.3249)" x="650.65 653.83 659.08 664.54" y="23.58" font-size="7.30"> 3−2</text>
<clipPath id="c10"><rect x="25.5" y="141.75" width="128.1" height="95.1"/></clipPath>
<line x1="25.5" y1="217.83" x2="153.6" y2="217.83" stroke="#999" stroke-width="0.6" stroke-dasharray="0.6 0.7"/>
<path d="M25.00,224.91 H29.17 V219.22 H33.53 V215.43 H35.99 V221.12 H38.27 V217.70 H41.11 V219.60 H43.57 V212.58 H45.47 V221.12 H47.74 V214.48 H49.64 V209.36 H51.91 V218.27 H54.94 V226.81 H57.59 V218.27 H60.06 V213.53 H62.52 V190.76 H64.80 V195.51 H67.07 V179.38 H69.53 V185.07 H71.43 V187.92 H73.89 V199.30 H76.17 V200.25 H79.01 V195.51 H81.47 V194.56 H83.75 V197.40 H85.64 V190.76 H87.54 V206.89 H90.38 V205.56 H93.22 V196.83 H95.50 V201.77 H97.96 V200.63 H100.42 V203.09 H102.70 V201.77 H104.59 V210.68 H106.87 V206.89 H109.33 V218.84 H111.79 V210.11 H114.07 V223.01 H116.34 V213.15 H118.80 V214.48 H121.65 V213.15 H124.49 V214.48 H127.33 V209.36 H131.50 V232.50 H133.97 V214.48 H136.43 V218.27 H138.70 V224.91 H141.55 V214.48 H144.01 V207.46 H148.18 V205.56 H150.07 V217.70 H152.35 V219.22 H155.76" fill="none" stroke="#222" stroke-width="0.85" clip-path="url(#c10)"/>
<path d="M25.50,217.65 L26.14,217.63 L26.78,217.61 L27.42,217.58 L28.06,217.55 L28.70,217.52 L29.34,217.49 L29.98,217.45 L30.62,217.41 L31.26,217.37 L31.91,217.32 L32.55,217.27 L33.19,217.21 L33.83,217.15 L34.47,217.08 L35.11,217.01 L35.75,216.93 L36.39,216.84 L37.03,216.75 L37.67,216.65 L38.31,216.55 L38.95,216.43 L39.59,216.31 L40.23,216.18 L40.87,216.04 L41.51,215.89 L42.15,215.73 L42.79,215.56 L43.43,215.37 L44.07,215.18 L44.72,214.98 L45.36,214.76 L46.00,214.53 L46.64,214.29 L47.28,214.04 L47.92,213.78 L48.56,213.50 L49.20,213.20 L49.84,212.90 L50.48,212.58 L51.12,212.24 L51.76,211.90 L52.40,211.54 L53.04,211.16 L53.68,210.77 L54.32,210.37 L54.96,209.96 L55.60,209.53 L56.24,209.09 L56.88,208.64 L57.52,208.18 L58.17,207.70 L58.81,207.22 L59.45,206.73 L60.09,206.23 L60.73,205.72 L61.37,205.21 L62.01,204.69 L62.65,204.17 L63.29,203.64 L63.93,203.11 L64.57,202.58 L65.21,202.06 L65.85,201.53 L66.49,201.01 L67.13,200.49 L67.77,199.98 L68.41,199.48 L69.05,198.99 L69.69,198.50 L70.34,198.03 L70.98,197.58 L71.62,197.14 L72.26,196.71 L72.90,196.31 L73.54,195.92 L74.18,195.56 L74.82,195.22 L75.46,194.90 L76.10,194.60 L76.74,194.33 L77.38,194.09 L78.02,193.88 L78.66,193.69 L79.30,193.53 L79.94,193.41 L80.58,193.31 L81.22,193.24 L81.86,193.21 L82.50,193.20 L83.15,193.23 L83.79,193.28 L84.43,193.37 L85.07,193.49 L85.71,193.63 L86.35,193.81 L86.99,194.01 L87.63,194.24 L88.27,194.50 L88.91,194.79 L89.55,195.10 L90.19,195.43 L90.83,195.79 L91.47,196.17 L92.11,196.56 L92.75,196.98 L93.39,197.42 L94.03,197.87 L94.67,198.33 L95.31,198.81 L95.95,199.30 L96.60,199.80 L97.24,200.31 L97.88,200.82 L98.52,201.34 L99.16,201.87 L99.80,202.39 L100.44,202.92 L101.08,203.45 L101.72,203.98 L102.36,204.50 L103.00,205.02 L103.64,205.54 L104.28,206.05 L104.92,206.55 L105.56,207.05 L106.20,207.53 L106.84,208.01 L107.48,208.47 L108.12,208.93 L108.77,209.37 L109.41,209.80 L110.05,210.22 L110.69,210.63 L111.33,211.02 L111.97,211.40 L112.61,211.77 L113.25,212.12 L113.89,212.46 L114.53,212.78 L115.17,213.09 L115.81,213.39 L116.45,213.68 L117.09,213.95 L117.73,214.20 L118.37,214.45 L119.01,214.68 L119.65,214.90 L120.29,215.11 L120.93,215.31 L121.58,215.49 L122.22,215.67 L122.86,215.83 L123.50,215.98 L124.14,216.13 L124.78,216.26 L125.42,216.39 L126.06,216.50 L126.70,216.61 L127.34,216.72 L127.98,216.81 L128.62,216.90 L129.26,216.98 L129.90,217.05 L130.54,217.12 L131.18,217.19 L131.82,217.25 L132.46,217.30 L133.10,217.35 L133.74,217.40 L134.38,217.44 L135.03,217.48 L135.67,217.51 L136.31,217.54 L136.95,217.57 L137.59,217.60 L138.23,217.62 L138.87,217.64 L139.51,217.66 L140.15,217.68 L140.79,217.70 L141.43,217.71 L142.07,217.72 L142.71,217.74 L143.35,217.75 L143.99,217.76 L144.63,217.76 L145.27,217.77 L145.91,217.78 L146.55,217.78 L147.19,217.79 L147.84,217.79 L148.48,217.80 L149.12,217.80 L149.76,217.81 L150.40,217.81 L151.04,217.81 L151.68,217.81 L152.32,217.82 L152.96,217.82 L153.60,217.82" fill="none" stroke="#000" stroke-width="0.9" clip-path="url(#c10)"/>
<rect x="25.5" y="141.75" width="128.1" height="95.1" fill="none" stroke="#333" stroke-width="0.9"/>
<path d="M32.45,236.85 v-1.4 M32.45,141.75 v1.4 M39.61,236.85 v-2.8 M39.61,141.75 v2.8 M46.77,236.85 v-1.4 M46.77,141.75 v1.4 M53.93,236.85 v-1.4 M53.93,141.75 v1.4 M61.09,236.85 v-1.4 M61.09,141.75 v1.4 M68.25,236.85 v-1.4 M68.25,141.75 v1.4 M75.41,236.85 v-2.8 M75.41,141.75 v2.8 M82.57,236.85 v-1.4 M82.57,141.75 v1.4 M89.73,236.85 v-1.4 M89.73,141.75 v1.4 M96.89,236.85 v-1.4 M96.89,141.75 v1.4 M104.05,236.85 v-1.4 M104.05,141.75 v1.4 M111.21,236.85 v-2.8 M111.21,141.75 v2.8 M118.37,236.85 v-1.4 M118.37,141.75 v1.4 M125.53,236.85 v-1.4 M125.53,141.75 v1.4 M132.69,236.85 v-1.4 M132.69,141.75 v1.4 M139.85,236.85 v-1.4 M139.85,141.75 v1.4 M147.01,236.85 v-2.8 M147.01,141.75 v2.8 M25.5,236.85 h1.4 M153.6,236.85 h-1.4 M25.5,217.83 h2.8 M153.6,217.83 h-2.8 M25.5,198.81 h1.4 M153.6,198.81 h-1.4 M25.5,179.79 h2.8 M153.6,179.79 h-2.8 M25.5,160.77 h1.4 M153.6,160.77 h-1.4 M25.5,141.75 h2.8 M153.6,141.75 h-2.8" stroke="#333" stroke-width="0.95" fill="none"/>
<text transform="matrix(1,0.0005,0,1,0,-0.0133)" x="26.89 31.08 33.34 37.33 41.51 45.81" y="245.05" font-size="6.90">3.8×10</text>
<text transform="matrix(1,0.0005,0,1,0,-0.0249)" x="49.91" y="241.85" font-size="4.69">4</text>
<text transform="matrix(1,0.0005,0,1,0,-0.0302)" x="60.54 64.73 66.99 71.29 75.28 79.46 83.76" y="245.05" font-size="6.90">3.85×10</text>
<text transform="matrix(1,0.0005,0,1,0,-0.0439)" x="87.86" y="241.85" font-size="4.69">4</text>
<text transform="matrix(1,0.0005,0,1,0,-0.0491)" x="98.49 102.68 104.94 108.93 113.11 117.41" y="245.05" font-size="6.90">3.9×10</text>
<text transform="matrix(1,0.0005,0,1,0,-0.0607)" x="121.51" y="241.85" font-size="4.69">4</text>
<text transform="matrix(1,0.0005,0,1,0,-0.0660)" x="132.14 136.33 138.59 142.89 146.88 151.06 155.36" y="245.05" font-size="6.90">3.95×10</text>
<text transform="matrix(1,0.0005,0,1,0,-0.0797)" x="159.46" y="241.85" font-size="4.69">4</text>
<text transform="translate(20.70,219.98) rotate(-90) matrix(1,0.0005,0,1,0,0)" x="0.23" y="0" font-size="6.90">0</text>
<text transform="translate(20.70,181.94) rotate(-90) matrix(1,0.0005,0,1,0,0)" x="0.23" y="0" font-size="6.90">2</text>
<text transform="translate(20.70,143.90) rotate(-90) matrix(1,0.0005,0,1,0,0)" x="0.23" y="0" font-size="6.90">4</text>
<text transform="matrix(1,0.0005,0,1,0,-0.0344)" x="68.77" y="253.45" font-size="7.00">v</text>
<text transform="matrix(1,0.0005,0,1,0,-0.0360)" x="72.33 75.53 78.81" y="256.75" font-size="4.90">opt</text>
<text transform="matrix(1,0.0005,0,1,0,-0.0416)" x="83.54 86.29 90.17 97.06 99.83" y="253.45" font-size="7.00">(km s</text>
<line x1="103.30" y1="249.15" x2="107.50" y2="249.15" stroke="#333" stroke-width="0.7"/>
<text transform="matrix(1,0.0005,0,1,0,-0.0540)" x="108.01" y="250.25" font-size="5.00">1</text>
<text transform="matrix(1,0.0005,0,1,0,-0.0551)" x="110.44" y="253.45" font-size="7.00">)</text>
<text transform="translate(8.00,220.95) rotate(-90) matrix(1,0.0005,0,1,0,0)" x="-0.25 3.85 5.52 9.50 13.74 16.70 19.58 25.58 28.94 33.08 35.78 39.67 43.56 47.74" y="0" font-size="7.00">Flux (mJy beam</text>
<line x1="2.90" y1="166.65" x2="2.90" y2="162.85" stroke="#333" stroke-width="0.7"/>
<text transform="translate(4.20,162.55) rotate(-90) matrix(1,0.0005,0,1,0,0)" x="0.11" y="0" font-size="5.00">1</text>
<text transform="translate(8.00,159.75) rotate(-90) matrix(1,0.0005,0,1,0,0)" x="0.31" y="0" font-size="7.00">)</text>
<text transform="matrix(1,0.0005,0,1,0,-0.0168)" x="33.51 35.26 39.98 44.39 49.97 53.14 57.78 62.42 67.05 71.69 76.93 82.36 87.00 91.64 96.28 101.47 104.74 107.73 112.41 117.85 122.34 124.81 129.45 134.09 138.72 143.48" y="150.58" font-size="7.27">IRAS 03250+1606 (z=0.1286)</text>
<text transform="matrix(1,0.0005,0,1,0,-0.0545)" x="109.00 114.01 119.02 125.07 128.25 133.50 138.97" y="160.98" font-size="7.30">HCN 3−2</text>
<clipPath id="c11"><rect x="200.4" y="141.75" width="128.1" height="95.1"/></clipPath>
<line x1="200.4" y1="217.83" x2="328.5" y2="217.83" stroke="#999" stroke-width="0.6" stroke-dasharray="0.6 0.7"/>
<path d="M200.00,230.22 H202.27 V208.79 H204.74 V218.27 H206.63 V205.94 H208.53 V212.58 H210.99 V217.70 H214.21 V230.60 H216.68 V224.91 H218.57 V211.25 H220.85 V214.48 H222.74 V222.07 H224.64 V200.25 H226.53 V218.27 H228.43 V213.53 H230.70 V209.73 H233.16 V208.79 H236.01 V216.94 H238.28 V198.35 H240.74 V197.40 H242.07 V189.44 H244.53 V207.84 H246.43 V203.09 H248.89 V193.04 H250.79 V203.09 H253.44 V201.77 H255.90 V203.66 H258.75 V198.35 H261.59 V202.15 H264.43 V206.89 H266.33 V207.84 H269.74 V194.18 H272.39 V208.79 H274.85 V203.66 H277.70 V211.63 H279.59 V219.22 H281.49 V212.58 H284.33 V215.43 H286.79 V225.86 H289.07 V218.84 H291.34 V226.81 H294.37 V221.12 H297.03 V213.91 H299.49 V224.91 H302.33 V224.91 H305.17 V210.11 H308.02 V211.25 H310.29 V215.05 H311.81 V209.36 H314.65 V216.37 H316.55 V219.60 H318.44 V215.80 H321.28 V215.43 H324.13 V217.70 H330.76" fill="none" stroke="#222" stroke-width="0.85" clip-path="url(#c11)"/>
<path d="M200.40,217.47 L201.04,217.43 L201.68,217.40 L202.32,217.35 L202.96,217.31 L203.60,217.26 L204.24,217.21 L204.88,217.15 L205.52,217.09 L206.16,217.02 L206.81,216.95 L207.45,216.87 L208.09,216.79 L208.73,216.70 L209.37,216.61 L210.01,216.51 L210.65,216.40 L211.29,216.29 L211.93,216.17 L212.57,216.04 L213.21,215.91 L213.85,215.77 L214.49,215.61 L215.13,215.46 L215.77,215.29 L216.41,215.11 L217.05,214.93 L217.69,214.73 L218.33,214.53 L218.97,214.32 L219.62,214.09 L220.26,213.86 L220.90,213.62 L221.54,213.37 L222.18,213.11 L222.82,212.84 L223.46,212.56 L224.10,212.27 L224.74,211.97 L225.38,211.67 L226.02,211.35 L226.66,211.03 L227.30,210.70 L227.94,210.36 L228.58,210.01 L229.22,209.66 L229.86,209.30 L230.50,208.94 L231.14,208.57 L231.78,208.20 L232.43,207.82 L233.07,207.44 L233.71,207.06 L234.35,206.68 L234.99,206.29 L235.63,205.91 L236.27,205.53 L236.91,205.15 L237.55,204.78 L238.19,204.40 L238.83,204.04 L239.47,203.68 L240.11,203.33 L240.75,202.98 L241.39,202.65 L242.03,202.32 L242.67,202.01 L243.31,201.71 L243.95,201.42 L244.59,201.15 L245.24,200.89 L245.88,200.65 L246.52,200.42 L247.16,200.21 L247.80,200.02 L248.44,199.85 L249.08,199.69 L249.72,199.56 L250.36,199.45 L251.00,199.35 L251.64,199.28 L252.28,199.23 L252.92,199.20 L253.56,199.19 L254.20,199.20 L254.84,199.24 L255.48,199.29 L256.12,199.37 L256.76,199.47 L257.40,199.58 L258.05,199.72 L258.69,199.88 L259.33,200.06 L259.97,200.25 L260.61,200.46 L261.25,200.69 L261.89,200.94 L262.53,201.20 L263.17,201.48 L263.81,201.77 L264.45,202.07 L265.09,202.39 L265.73,202.71 L266.37,203.05 L267.01,203.39 L267.65,203.75 L268.29,204.11 L268.93,204.48 L269.57,204.85 L270.21,205.22 L270.86,205.60 L271.50,205.98 L272.14,206.37 L272.78,206.75 L273.42,207.13 L274.06,207.51 L274.70,207.89 L275.34,208.27 L275.98,208.64 L276.62,209.01 L277.26,209.37 L277.90,209.73 L278.54,210.08 L279.18,210.43 L279.82,210.76 L280.46,211.09 L281.10,211.41 L281.74,211.73 L282.38,212.03 L283.02,212.33 L283.67,212.61 L284.31,212.89 L284.95,213.16 L285.59,213.42 L286.23,213.67 L286.87,213.91 L287.51,214.14 L288.15,214.36 L288.79,214.57 L289.43,214.77 L290.07,214.96 L290.71,215.15 L291.35,215.32 L291.99,215.49 L292.63,215.64 L293.27,215.79 L293.91,215.93 L294.55,216.07 L295.19,216.19 L295.83,216.31 L296.48,216.42 L297.12,216.53 L297.76,216.63 L298.40,216.72 L299.04,216.81 L299.68,216.89 L300.32,216.96 L300.96,217.03 L301.60,217.10 L302.24,217.16 L302.88,217.22 L303.52,217.27 L304.16,217.32 L304.80,217.36 L305.44,217.40 L306.08,217.44 L306.72,217.48 L307.36,217.51 L308.00,217.54 L308.64,217.57 L309.29,217.59 L309.93,217.61 L310.57,217.63 L311.21,217.65 L311.85,217.67 L312.49,217.69 L313.13,217.70 L313.77,217.71 L314.41,217.73 L315.05,217.74 L315.69,217.75 L316.33,217.76 L316.97,217.76 L317.61,217.77 L318.25,217.78 L318.89,217.78 L319.53,217.79 L320.17,217.79 L320.81,217.80 L321.45,217.80 L322.10,217.80 L322.74,217.81 L323.38,217.81 L324.02,217.81 L324.66,217.81 L325.30,217.82 L325.94,217.82 L326.58,217.82 L327.22,217.82 L327.86,217.82 L328.50,217.82" fill="none" stroke="#000" stroke-width="0.9" clip-path="url(#c11)"/>
<rect x="200.4" y="141.75" width="128.1" height="95.1" fill="none" stroke="#333" stroke-width="0.9"/>
<path d="M207.35,236.85 v-1.4 M207.35,141.75 v1.4 M214.51,236.85 v-2.8 M214.51,141.75 v2.8 M221.67,236.85 v-1.4 M221.67,141.75 v1.4 M228.83,236.85 v-1.4 M228.83,141.75 v1.4 M235.99,236.85 v-1.4 M235.99,141.75 v1.4 M243.15,236.85 v-1.4 M243.15,141.75 v1.4 M250.31,236.85 v-2.8 M250.31,141.75 v2.8 M257.47,236.85 v-1.4 M257.47,141.75 v1.4 M264.63,236.85 v-1.4 M264.63,141.75 v1.4 M271.79,236.85 v-1.4 M271.79,141.75 v1.4 M278.95,236.85 v-1.4 M278.95,141.75 v1.4 M286.11,236.85 v-2.8 M286.11,141.75 v2.8 M293.27,236.85 v-1.4 M293.27,141.75 v1.4 M300.43,236.85 v-1.4 M300.43,141.75 v1.4 M307.59,236.85 v-1.4 M307.59,141.75 v1.4 M314.75,236.85 v-1.4 M314.75,141.75 v1.4 M321.91,236.85 v-2.8 M321.91,141.75 v2.8 M200.4,236.85 h1.4 M328.5,236.85 h-1.4 M200.4,217.83 h2.8 M328.5,217.83 h-2.8 M200.4,198.81 h1.4 M328.5,198.81 h-1.4 M200.4,179.79 h2.8 M328.5,179.79 h-2.8 M200.4,160.77 h1.4 M328.5,160.77 h-1.4 M200.4,141.75 h2.8 M328.5,141.75 h-2.8" stroke="#333" stroke-width="0.95" fill="none"/>
<text transform="matrix(1,0.0005,0,1,0,-0.1008)" x="201.79 205.98 208.24 212.23 216.41 220.71" y="245.05" font-size="6.90">3.8×10</text>
<text transform="matrix(1,0.0005,0,1,0,-0.1124)" x="224.81" y="241.85" font-size="4.69">4</text>
<text transform="matrix(1,0.0005,0,1,0,-0.1176)" x="235.44 239.63 241.89 246.19 250.18 254.36 258.66" y="245.05" font-size="6.90">3.85×10</text>
<text transform="matrix(1,0.0005,0,1,0,-0.1314)" x="262.76" y="241.85" font-size="4.69">4</text>
<text transform="matrix(1,0.0005,0,1,0,-0.1366)" x="273.39 277.58 279.84 283.83 288.01 292.31" y="245.05" font-size="6.90">3.9×10</text>
<text transform="matrix(1,0.0005,0,1,0,-0.1482)" x="296.41" y="241.85" font-size="4.69">4</text>
<text transform="matrix(1,0.0005,0,1,0,-0.1534)" x="307.04 311.23 313.49 317.79 321.78 325.96 330.26" y="245.05" font-size="6.90">3.95×10</text>
<text transform="matrix(1,0.0005,0,1,0,-0.1672)" x="334.36" y="241.85" font-size="4.69">4</text>
<text transform="translate(195.60,219.98) rotate(-90) matrix(1,0.0005,0,1,0,0)" x="0.23" y="0" font-size="6.90">0</text>
<text transform="translate(195.60,181.94) rotate(-90) matrix(1,0.0005,0,1,0,0)" x="0.23" y="0" font-size="6.90">2</text>
<text transform="translate(195.60,143.90) rotate(-90) matrix(1,0.0005,0,1,0,0)" x="0.23" y="0" font-size="6.90">4</text>
<text transform="matrix(1,0.0005,0,1,0,-0.1218)" x="243.67" y="253.45" font-size="7.00">v</text>
<text transform="matrix(1,0.0005,0,1,0,-0.1235)" x="247.23 250.43 253.71" y="256.75" font-size="4.90">opt</text>
<text transform="matrix(1,0.0005,0,1,0,-0.1291)" x="258.44 261.19 265.07 271.96 274.73" y="253.45" font-size="7.00">(km s</text>
<line x1="278.20" y1="249.15" x2="282.40" y2="249.15" stroke="#333" stroke-width="0.7"/>
<text transform="matrix(1,0.0005,0,1,0,-0.1414)" x="282.91" y="250.25" font-size="5.00">1</text>
<text transform="matrix(1,0.0005,0,1,0,-0.1425)" x="285.34" y="253.45" font-size="7.00">)</text>
<text transform="translate(182.90,220.95) rotate(-90) matrix(1,0.0005,0,1,0,0)" x="-0.25 3.85 5.52 9.50 13.74 16.70 19.58 25.58 28.94 33.08 35.78 39.67 43.56 47.74" y="0" font-size="7.00">Flux (mJy beam</text>
<line x1="177.80" y1="166.65" x2="177.80" y2="162.85" stroke="#333" stroke-width="0.7"/>
<text transform="translate(179.10,162.55) rotate(-90) matrix(1,0.0005,0,1,0,0)" x="0.11" y="0" font-size="5.00">1</text>
<text transform="translate(182.90,159.75) rotate(-90) matrix(1,0.0005,0,1,0,0)" x="0.31" y="0" font-size="7.00">)</text>
<text transform="matrix(1,0.0005,0,1,0,-0.1042)" x="208.41 210.16 214.88 219.29 224.87 228.04 232.68 237.32 241.95 246.59 251.83 257.26 261.90 266.54 271.18 276.37 279.64 282.63 287.31 292.75 297.24 299.71 304.35 308.99 313.62 318.38" y="150.58" font-size="7.27">IRAS 03250+1606 (z=0.1286)</text>
<text transform="matrix(1,0.0005,0,1,0,-0.1408)" x="281.62 286.63 291.44" y="160.98" font-size="7.30">HCO</text>
<text transform="matrix(1,0.0005,0,1,0,-0.1484)" x="297.08" y="158.28" font-size="5.60">+</text>
<text transform="matrix(1,0.0005,0,1,0,-0.1503)" x="301.45 304.63 309.88 315.34" y="160.98" font-size="7.30"> 3−2</text>
<clipPath id="c12"><rect x="374.6" y="141.75" width="128.1" height="95.1"/></clipPath>
<line x1="374.6" y1="213.07" x2="502.70000000000005" y2="213.07" stroke="#999" stroke-width="0.6" stroke-dasharray="0.6 0.7"/>
<path d="M374.00,207.84 H375.52 V220.17 H378.17 V214.48 H381.58 V203.09 H385.37 V218.27 H387.64 V216.37 H390.68 V205.94 H392.57 V224.53 H393.90 V213.53 H396.36 V220.17 H398.64 V192.28 H401.48 V217.32 H403.37 V208.22 H404.70 V224.91 H407.16 V206.89 H409.06 V202.15 H411.52 V199.30 H414.17 V181.28 H418.53 V196.46 H421.38 V186.97 H423.65 V184.12 H426.11 V181.28 H428.96 V203.09 H431.23 V188.87 H435.02 V190.76 H437.48 V194.56 H439.95 V179.76 H442.60 V196.46 H444.50 V199.30 H446.96 V178.43 H449.42 V184.12 H452.08 V188.87 H454.54 V210.68 H456.43 V201.20 H458.33 V216.37 H461.17 V223.96 H463.07 V202.15 H465.91 V210.68 H468.75 V214.48 H470.65 V212.01 H472.54 V205.94 H474.82 V219.22 H477.28 V223.01 H480.12 V230.60 H482.97 V208.79 H485.81 V222.07 H489.60 V203.09 H492.44 V195.51 H495.28 V218.27 H497.18 V207.84 H500.02 V247.67 H504.76" fill="none" stroke="#222" stroke-width="0.85" clip-path="url(#c12)"/>
<path d="M374.60,212.88 L375.24,212.86 L375.88,212.83 L376.52,212.81 L377.16,212.78 L377.80,212.74 L378.44,212.71 L379.08,212.67 L379.72,212.62 L380.36,212.58 L381.00,212.53 L381.65,212.47 L382.29,212.41 L382.93,212.35 L383.57,212.28 L384.21,212.20 L384.85,212.12 L385.49,212.03 L386.13,211.93 L386.77,211.83 L387.41,211.72 L388.05,211.60 L388.69,211.47 L389.33,211.33 L389.97,211.18 L390.61,211.03 L391.25,210.86 L391.89,210.68 L392.53,210.49 L393.17,210.29 L393.81,210.08 L394.46,209.86 L395.10,209.62 L395.74,209.37 L396.38,209.10 L397.02,208.83 L397.66,208.54 L398.30,208.23 L398.94,207.91 L399.58,207.57 L400.22,207.23 L400.86,206.86 L401.50,206.48 L402.14,206.09 L402.78,205.68 L403.42,205.26 L404.06,204.82 L404.70,204.37 L405.34,203.91 L405.98,203.43 L406.62,202.94 L407.27,202.44 L407.91,201.92 L408.55,201.40 L409.19,200.86 L409.83,200.32 L410.47,199.77 L411.11,199.21 L411.75,198.64 L412.39,198.07 L413.03,197.49 L413.67,196.92 L414.31,196.34 L414.95,195.76 L415.59,195.18 L416.23,194.61 L416.87,194.04 L417.51,193.47 L418.15,192.92 L418.79,192.37 L419.44,191.83 L420.08,191.31 L420.72,190.79 L421.36,190.30 L422.00,189.82 L422.64,189.36 L423.28,188.92 L423.92,188.50 L424.56,188.10 L425.20,187.73 L425.84,187.38 L426.48,187.06 L427.12,186.77 L427.76,186.50 L428.40,186.26 L429.04,186.06 L429.68,185.88 L430.32,185.74 L430.96,185.63 L431.60,185.55 L432.25,185.51 L432.89,185.50 L433.53,185.52 L434.17,185.57 L434.81,185.66 L435.45,185.78 L436.09,185.93 L436.73,186.11 L437.37,186.32 L438.01,186.57 L438.65,186.84 L439.29,187.14 L439.93,187.47 L440.57,187.83 L441.21,188.20 L441.85,188.61 L442.49,189.03 L443.13,189.48 L443.77,189.95 L444.41,190.43 L445.06,190.93 L445.70,191.44 L446.34,191.97 L446.98,192.51 L447.62,193.06 L448.26,193.62 L448.90,194.19 L449.54,194.76 L450.18,195.34 L450.82,195.91 L451.46,196.49 L452.10,197.07 L452.74,197.65 L453.38,198.22 L454.02,198.79 L454.66,199.36 L455.30,199.91 L455.94,200.46 L456.58,201.01 L457.22,201.54 L457.87,202.06 L458.51,202.57 L459.15,203.07 L459.79,203.56 L460.43,204.03 L461.07,204.49 L461.71,204.94 L462.35,205.37 L462.99,205.79 L463.63,206.20 L464.27,206.59 L464.91,206.96 L465.55,207.32 L466.19,207.67 L466.83,208.00 L467.47,208.31 L468.11,208.61 L468.75,208.90 L469.39,209.18 L470.03,209.44 L470.68,209.68 L471.32,209.92 L471.96,210.14 L472.60,210.35 L473.24,210.54 L473.88,210.73 L474.52,210.91 L475.16,211.07 L475.80,211.22 L476.44,211.37 L477.08,211.50 L477.72,211.63 L478.36,211.75 L479.00,211.86 L479.64,211.96 L480.28,212.05 L480.92,212.14 L481.56,212.22 L482.20,212.30 L482.84,212.36 L483.49,212.43 L484.13,212.49 L484.77,212.54 L485.41,212.59 L486.05,212.64 L486.69,212.68 L487.33,212.72 L487.97,212.75 L488.61,212.78 L489.25,212.81 L489.89,212.84 L490.53,212.86 L491.17,212.88 L491.81,212.90 L492.45,212.92 L493.09,212.94 L493.73,212.95 L494.37,212.97 L495.01,212.98 L495.65,212.99 L496.30,213.00 L496.94,213.01 L497.58,213.01 L498.22,213.02 L498.86,213.03 L499.50,213.03 L500.14,213.04 L500.78,213.04 L501.42,213.05 L502.06,213.05 L502.70,213.05" fill="none" stroke="#000" stroke-width="0.9" clip-path="url(#c12)"/>
<rect x="374.6" y="141.75" width="128.1" height="95.1" fill="none" stroke="#333" stroke-width="0.9"/>
<path d="M381.55,236.85 v-1.4 M381.55,141.75 v1.4 M388.71,236.85 v-2.8 M388.71,141.75 v2.8 M395.87,236.85 v-1.4 M395.87,141.75 v1.4 M403.03,236.85 v-1.4 M403.03,141.75 v1.4 M410.19,236.85 v-1.4 M410.19,141.75 v1.4 M417.35,236.85 v-1.4 M417.35,141.75 v1.4 M424.51,236.85 v-2.8 M424.51,141.75 v2.8 M431.67,236.85 v-1.4 M431.67,141.75 v1.4 M438.83,236.85 v-1.4 M438.83,141.75 v1.4 M445.99,236.85 v-1.4 M445.99,141.75 v1.4 M453.15,236.85 v-1.4 M453.15,141.75 v1.4 M460.31,236.85 v-2.8 M460.31,141.75 v2.8 M467.47,236.85 v-1.4 M467.47,141.75 v1.4 M474.63,236.85 v-1.4 M474.63,141.75 v1.4 M481.79,236.85 v-1.4 M481.79,141.75 v1.4 M488.95,236.85 v-1.4 M488.95,141.75 v1.4 M496.11,236.85 v-2.8 M496.11,141.75 v2.8 M374.6,236.85 h2.8 M502.70000000000005,236.85 h-2.8 M374.6,232.09 h1.4 M502.70000000000005,232.09 h-1.4 M374.6,227.34 h1.4 M502.70000000000005,227.34 h-1.4 M374.6,222.59 h1.4 M502.70000000000005,222.59 h-1.4 M374.6,217.83 h1.4 M502.70000000000005,217.83 h-1.4 M374.6,213.07 h2.8 M502.70000000000005,213.07 h-2.8 M374.6,208.32 h1.4 M502.70000000000005,208.32 h-1.4 M374.6,203.56 h1.4 M502.70000000000005,203.56 h-1.4 M374.6,198.81 h1.4 M502.70000000000005,198.81 h-1.4 M374.6,194.06 h1.4 M502.70000000000005,194.06 h-1.4 M374.6,189.30 h2.8 M502.70000000000005,189.30 h-2.8 M374.6,184.54 h1.4 M502.70000000000005,184.54 h-1.4 M374.6,179.79 h1.4 M502.70000000000005,179.79 h-1.4 M374.6,175.03 h1.4 M502.70000000000005,175.03 h-1.4 M374.6,170.28 h1.4 M502.70000000000005,170.28 h-1.4 M374.6,165.53 h2.8 M502.70000000000005,165.53 h-2.8 M374.6,160.77 h1.4 M502.70000000000005,160.77 h-1.4 M374.6,156.01 h1.4 M502.70000000000005,156.01 h-1.4 M374.6,151.26 h1.4 M502.70000000000005,151.26 h-1.4 M374.6,146.50 h1.4 M502.70000000000005,146.50 h-1.4 M374.6,141.75 h2.8 M502.70000000000005,141.75 h-2.8" stroke="#333" stroke-width="0.95" fill="none"/>
<text transform="matrix(1,0.0005,0,1,0,-0.1879)" x="375.99 380.18 382.44 386.43 390.61 394.91" y="245.05" font-size="6.90">3.8×10</text>
<text transform="matrix(1,0.0005,0,1,0,-0.1995)" x="399.01" y="241.85" font-size="4.69">4</text>
<text transform="matrix(1,0.0005,0,1,0,-0.2047)" x="409.64 413.83 416.09 420.39 424.38 428.56 432.86" y="245.05" font-size="6.90">3.85×10</text>
<text transform="matrix(1,0.0005,0,1,0,-0.2185)" x="436.96" y="241.85" font-size="4.69">4</text>
<text transform="matrix(1,0.0005,0,1,0,-0.2237)" x="447.59 451.78 454.04 458.03 462.21 466.51" y="245.05" font-size="6.90">3.9×10</text>
<text transform="matrix(1,0.0005,0,1,0,-0.2353)" x="470.61" y="241.85" font-size="4.69">4</text>
<text transform="matrix(1,0.0005,0,1,0,-0.2405)" x="481.24 485.43 487.69 491.99 495.98 500.16 504.46" y="245.05" font-size="6.90">3.95×10</text>
<text transform="matrix(1,0.0005,0,1,0,-0.2543)" x="508.56" y="241.85" font-size="4.69">4</text>
<text transform="translate(369.80,241.79) rotate(-90) matrix(1,0.0005,0,1,0,0)" x="0.78 5.82" y="0" font-size="6.90">−5</text>
<text transform="translate(369.80,215.22) rotate(-90) matrix(1,0.0005,0,1,0,0)" x="0.23" y="0" font-size="6.90">0</text>
<text transform="translate(369.80,191.45) rotate(-90) matrix(1,0.0005,0,1,0,0)" x="0.23" y="0" font-size="6.90">5</text>
<text transform="translate(369.80,169.83) rotate(-90) matrix(1,0.0005,0,1,0,0)" x="0.23 4.53" y="0" font-size="6.90">10</text>
<text transform="translate(369.80,146.05) rotate(-90) matrix(1,0.0005,0,1,0,0)" x="0.23 4.53" y="0" font-size="6.90">15</text>
<text transform="matrix(1,0.0005,0,1,0,-0.2090)" x="417.87" y="253.45" font-size="7.00">v</text>
<text transform="matrix(1,0.0005,0,1,0,-0.2106)" x="421.43 424.63 427.91" y="256.75" font-size="4.90">opt</text>
<text transform="matrix(1,0.0005,0,1,0,-0.2162)" x="432.64 435.39 439.27 446.16 448.93" y="253.45" font-size="7.00">(km s</text>
<line x1="452.40" y1="249.15" x2="456.60" y2="249.15" stroke="#333" stroke-width="0.7"/>
<text transform="matrix(1,0.0005,0,1,0,-0.2285)" x="457.11" y="250.25" font-size="5.00">1</text>
<text transform="matrix(1,0.0005,0,1,0,-0.2296)" x="459.54" y="253.45" font-size="7.00">)</text>
<text transform="translate(357.10,206.96) rotate(-90) matrix(1,0.0005,0,1,0,0)" x="-0.25 3.85 5.52 9.50 13.74 16.70 19.58 25.58 28.94 32.68" y="0" font-size="7.00">Flux (mJy)</text>
<text transform="matrix(1,0.0005,0,1,0,-0.1913)" x="382.61 384.36 389.08 393.49 399.07 402.24 406.88 411.52 416.15 420.79 426.03 431.46 436.10 440.74 445.38 450.57 453.84 456.83 461.51 466.95 471.44 473.91 478.55 483.19 487.82 492.58" y="150.58" font-size="7.27">IRAS 03250+1606 (z=0.1286)</text>
<text transform="matrix(1,0.0005,0,1,0,-0.1928)" x="386.03 389.18 394.11 398.12 401.18 405.61 409.92 414.34 417.46 420.05 424.60 427.39 431.93" y="160.98" font-size="7.30">(1" aperture)</text>
<text transform="matrix(1,0.0005,0,1,0,-0.2291)" x="458.10 463.11 468.12 474.17 477.35 482.60 488.07" y="160.98" font-size="7.30">HCN 3−2</text>
<clipPath id="c13"><rect x="549.6" y="141.75" width="128.1" height="95.1"/></clipPath>
<line x1="549.6" y1="213.07" x2="677.7" y2="213.07" stroke="#999" stroke-width="0.6" stroke-dasharray="0.6 0.7"/>
<path d="M549.00,224.91 H550.52 V222.07 H552.79 V215.80 H555.63 V221.12 H557.53 V209.36 H559.99 V223.96 H561.89 V217.32 H564.16 V223.96 H565.68 V230.60 H567.57 V203.09 H569.85 V208.22 H573.26 V198.35 H575.53 V207.84 H577.43 V216.37 H579.32 V208.79 H581.59 V221.50 H584.06 V212.58 H586.90 V191.71 H589.74 V171.79 H591.64 V186.97 H593.53 V186.02 H595.43 V188.87 H597.32 V199.30 H599.22 V188.87 H602.06 V182.80 H603.96 V181.66 H606.80 V186.97 H609.26 V191.71 H611.16 V180.90 H613.43 V197.40 H615.33 V177.49 H617.22 V170.28 H619.50 V195.51 H621.96 V177.11 H624.80 V178.43 H626.70 V186.59 H628.59 V204.04 H630.87 V190.38 H633.33 V222.07 H635.79 V214.48 H640.91 V223.96 H642.80 V211.63 H645.65 V208.79 H649.06 V189.25 H651.71 V220.17 H654.17 V210.68 H657.02 V218.27 H658.91 V214.48 H661.76 V219.22 H663.65 V208.79 H665.55 V215.43 H667.44 V201.20 H673.13 V219.22 H675.02 V216.37 H679.76" fill="none" stroke="#222" stroke-width="0.85" clip-path="url(#c13)"/>
<path d="M549.60,212.93 L550.24,212.91 L550.88,212.90 L551.52,212.87 L552.16,212.85 L552.80,212.83 L553.44,212.80 L554.08,212.77 L554.72,212.73 L555.36,212.69 L556.00,212.65 L556.65,212.61 L557.29,212.56 L557.93,212.51 L558.57,212.45 L559.21,212.38 L559.85,212.31 L560.49,212.24 L561.13,212.16 L561.77,212.07 L562.41,211.97 L563.05,211.87 L563.69,211.76 L564.33,211.64 L564.97,211.51 L565.61,211.37 L566.25,211.22 L566.89,211.06 L567.53,210.89 L568.17,210.71 L568.82,210.52 L569.46,210.31 L570.10,210.09 L570.74,209.86 L571.38,209.61 L572.02,209.35 L572.66,209.07 L573.30,208.78 L573.94,208.47 L574.58,208.15 L575.22,207.81 L575.86,207.45 L576.50,207.07 L577.14,206.68 L577.78,206.27 L578.42,205.85 L579.06,205.40 L579.70,204.94 L580.34,204.46 L580.98,203.96 L581.62,203.45 L582.27,202.92 L582.91,202.37 L583.55,201.81 L584.19,201.23 L584.83,200.64 L585.47,200.04 L586.11,199.42 L586.75,198.78 L587.39,198.14 L588.03,197.49 L588.67,196.82 L589.31,196.15 L589.95,195.48 L590.59,194.79 L591.23,194.11 L591.87,193.42 L592.51,192.73 L593.15,192.04 L593.79,191.36 L594.44,190.68 L595.08,190.00 L595.72,189.34 L596.36,188.68 L597.00,188.04 L597.64,187.41 L598.28,186.79 L598.92,186.20 L599.56,185.62 L600.20,185.06 L600.84,184.53 L601.48,184.02 L602.12,183.54 L602.76,183.08 L603.40,182.66 L604.04,182.26 L604.68,181.90 L605.32,181.57 L605.96,181.28 L606.60,181.02 L607.25,180.80 L607.89,180.62 L608.53,180.47 L609.17,180.36 L609.81,180.30 L610.45,180.27 L611.09,180.28 L611.73,180.33 L612.37,180.42 L613.01,180.54 L613.65,180.71 L614.29,180.91 L614.93,181.15 L615.57,181.43 L616.21,181.74 L616.85,182.09 L617.49,182.47 L618.13,182.88 L618.77,183.32 L619.41,183.79 L620.06,184.28 L620.70,184.80 L621.34,185.35 L621.98,185.92 L622.62,186.51 L623.26,187.11 L623.90,187.74 L624.54,188.37 L625.18,189.02 L625.82,189.68 L626.46,190.36 L627.10,191.03 L627.74,191.72 L628.38,192.40 L629.02,193.09 L629.66,193.78 L630.30,194.47 L630.94,195.15 L631.58,195.83 L632.22,196.51 L632.87,197.17 L633.51,197.83 L634.15,198.48 L634.79,199.12 L635.43,199.74 L636.07,200.36 L636.71,200.95 L637.35,201.54 L637.99,202.11 L638.63,202.66 L639.27,203.20 L639.91,203.72 L640.55,204.23 L641.19,204.71 L641.83,205.18 L642.47,205.64 L643.11,206.07 L643.75,206.49 L644.39,206.89 L645.03,207.27 L645.68,207.64 L646.32,207.99 L646.96,208.32 L647.60,208.63 L648.24,208.93 L648.88,209.22 L649.52,209.49 L650.16,209.74 L650.80,209.98 L651.44,210.21 L652.08,210.42 L652.72,210.62 L653.36,210.81 L654.00,210.98 L654.64,211.15 L655.28,211.30 L655.92,211.44 L656.56,211.58 L657.20,211.70 L657.84,211.82 L658.49,211.92 L659.13,212.02 L659.77,212.11 L660.41,212.20 L661.05,212.28 L661.69,212.35 L662.33,212.42 L662.97,212.48 L663.61,212.53 L664.25,212.59 L664.89,212.63 L665.53,212.68 L666.17,212.71 L666.81,212.75 L667.45,212.78 L668.09,212.81 L668.73,212.84 L669.37,212.86 L670.01,212.89 L670.65,212.91 L671.30,212.92 L671.94,212.94 L672.58,212.96 L673.22,212.97 L673.86,212.98 L674.50,212.99 L675.14,213.00 L675.78,213.01 L676.42,213.02 L677.06,213.02 L677.70,213.03" fill="none" stroke="#000" stroke-width="0.9" clip-path="url(#c13)"/>
<rect x="549.6" y="141.75" width="128.1" height="95.1" fill="none" stroke="#333" stroke-width="0.9"/>
<path d="M556.55,236.85 v-1.4 M556.55,141.75 v1.4 M563.71,236.85 v-2.8 M563.71,141.75 v2.8 M570.87,236.85 v-1.4 M570.87,141.75 v1.4 M578.03,236.85 v-1.4 M578.03,141.75 v1.4 M585.19,236.85 v-1.4 M585.19,141.75 v1.4 M592.35,236.85 v-1.4 M592.35,141.75 v1.4 M599.51,236.85 v-2.8 M599.51,141.75 v2.8 M606.67,236.85 v-1.4 M606.67,141.75 v1.4 M613.83,236.85 v-1.4 M613.83,141.75 v1.4 M620.99,236.85 v-1.4 M620.99,141.75 v1.4 M628.15,236.85 v-1.4 M628.15,141.75 v1.4 M635.31,236.85 v-2.8 M635.31,141.75 v2.8 M642.47,236.85 v-1.4 M642.47,141.75 v1.4 M649.63,236.85 v-1.4 M649.63,141.75 v1.4 M656.79,236.85 v-1.4 M656.79,141.75 v1.4 M663.95,236.85 v-1.4 M663.95,141.75 v1.4 M671.11,236.85 v-2.8 M671.11,141.75 v2.8 M549.6,236.85 h2.8 M677.7,236.85 h-2.8 M549.6,232.09 h1.4 M677.7,232.09 h-1.4 M549.6,227.34 h1.4 M677.7,227.34 h-1.4 M549.6,222.59 h1.4 M677.7,222.59 h-1.4 M549.6,217.83 h1.4 M677.7,217.83 h-1.4 M549.6,213.07 h2.8 M677.7,213.07 h-2.8 M549.6,208.32 h1.4 M677.7,208.32 h-1.4 M549.6,203.56 h1.4 M677.7,203.56 h-1.4 M549.6,198.81 h1.4 M677.7,198.81 h-1.4 M549.6,194.06 h1.4 M677.7,194.06 h-1.4 M549.6,189.30 h2.8 M677.7,189.30 h-2.8 M549.6,184.54 h1.4 M677.7,184.54 h-1.4 M549.6,179.79 h1.4 M677.7,179.79 h-1.4 M549.6,175.03 h1.4 M677.7,175.03 h-1.4 M549.6,170.28 h1.4 M677.7,170.28 h-1.4 M549.6,165.53 h2.8 M677.7,165.53 h-2.8 M549.6,160.77 h1.4 M677.7,160.77 h-1.4 M549.6,156.01 h1.4 M677.7,156.01 h-1.4 M549.6,151.26 h1.4 M677.7,151.26 h-1.4 M549.6,146.50 h1.4 M677.7,146.50 h-1.4 M549.6,141.75 h2.8 M677.7,141.75 h-2.8" stroke="#333" stroke-width="0.95" fill="none"/>
<text transform="matrix(1,0.0005,0,1,0,-0.2754)" x="550.99 555.18 557.44 561.43 565.61 569.91" y="245.05" font-size="6.90">3.8×10</text>
<text transform="matrix(1,0.0005,0,1,0,-0.2870)" x="574.01" y="241.85" font-size="4.69">4</text>
<text transform="matrix(1,0.0005,0,1,0,-0.2922)" x="584.64 588.83 591.09 595.39 599.38 603.56 607.86" y="245.05" font-size="6.90">3.85×10</text>
<text transform="matrix(1,0.0005,0,1,0,-0.3060)" x="611.96" y="241.85" font-size="4.69">4</text>
<text transform="matrix(1,0.0005,0,1,0,-0.3112)" x="622.59 626.78 629.04 633.03 637.21 641.51" y="245.05" font-size="6.90">3.9×10</text>
<text transform="matrix(1,0.0005,0,1,0,-0.3228)" x="645.61" y="241.85" font-size="4.69">4</text>
<text transform="matrix(1,0.0005,0,1,0,-0.3280)" x="656.24 660.43 662.69 666.99 670.98 675.16 679.46" y="245.05" font-size="6.90">3.95×10</text>
<text transform="matrix(1,0.0005,0,1,0,-0.3418)" x="683.56" y="241.85" font-size="4.69">4</text>
<text transform="translate(544.80,241.79) rotate(-90) matrix(1,0.0005,0,1,0,0)" x="0.78 5.82" y="0" font-size="6.90">−5</text>
<text transform="translate(544.80,215.22) rotate(-90) matrix(1,0.0005,0,1,0,0)" x="0.23" y="0" font-size="6.90">0</text>
<text transform="translate(544.80,191.45) rotate(-90) matrix(1,0.0005,0,1,0,0)" x="0.23" y="0" font-size="6.90">5</text>
<text transform="translate(544.80,169.83) rotate(-90) matrix(1,0.0005,0,1,0,0)" x="0.23 4.53" y="0" font-size="6.90">10</text>
<text transform="translate(544.80,146.05) rotate(-90) matrix(1,0.0005,0,1,0,0)" x="0.23 4.53" y="0" font-size="6.90">15</text>
<text transform="matrix(1,0.0005,0,1,0,-0.2964)" x="592.87" y="253.45" font-size="7.00">v</text>
<text transform="matrix(1,0.0005,0,1,0,-0.2981)" x="596.43 599.63 602.91" y="256.75" font-size="4.90">opt</text>
<text transform="matrix(1,0.0005,0,1,0,-0.3037)" x="607.64 610.39 614.27 621.16 623.93" y="253.45" font-size="7.00">(km s</text>
<line x1="627.40" y1="249.15" x2="631.60" y2="249.15" stroke="#333" stroke-width="0.7"/>
<text transform="matrix(1,0.0005,0,1,0,-0.3160)" x="632.11" y="250.25" font-size="5.00">1</text>
<text transform="matrix(1,0.0005,0,1,0,-0.3171)" x="634.54" y="253.45" font-size="7.00">)</text>
<text transform="translate(532.10,206.96) rotate(-90) matrix(1,0.0005,0,1,0,0)" x="-0.25 3.85 5.52 9.50 13.74 16.70 19.58 25.58 28.94 32.68" y="0" font-size="7.00">Flux (mJy)</text>
<text transform="matrix(1,0.0005,0,1,0,-0.2788)" x="557.61 559.36 564.08 568.49 574.07 577.24 581.88 586.52 591.15 595.79 601.03 606.46 611.10 615.74 620.38 625.57 628.84 631.83 636.51 641.95 646.44 648.91 653.55 658.19 662.82 667.58" y="150.58" font-size="7.27">IRAS 03250+1606 (z=0.1286)</text>
<text transform="matrix(1,0.0005,0,1,0,-0.2803)" x="561.03 564.18 569.11 573.12 576.18 580.61 584.92 589.34 592.46 595.05 599.60 602.39 606.93" y="160.98" font-size="7.30">(1" aperture)</text>
<text transform="matrix(1,0.0005,0,1,0,-0.3154)" x="630.82 635.83 640.64" y="160.98" font-size="7.30">HCO</text>
<text transform="matrix(1,0.0005,0,1,0,-0.3230)" x="646.28" y="158.28" font-size="5.60">+</text>
<text transform="matrix(1,0.0005,0,1,0,-0.3249)" x="650.65 653.83 659.08 664.54" y="160.98" font-size="7.30"> 3−2</text>
<clipPath id="c20"><rect x="25.5" y="279.40000000000003" width="128.1" height="95.1"/></clipPath>
<line x1="25.5" y1="355.48" x2="153.6" y2="355.48" stroke="#999" stroke-width="0.6" stroke-dasharray="0.6 0.7"/>
<path d="M25.00,359.12 H26.90 V363.86 H29.17 V357.22 H31.25 V348.11 H33.53 V356.84 H35.99 V354.94 H37.32 V342.99 H39.78 V345.84 H41.11 V340.53 H43.57 V349.63 H44.90 V353.43 H46.22 V362.91 H48.12 V351.53 H50.58 V356.27 H52.48 V368.60 H54.94 V345.46 H57.22 V358.17 H58.73 V345.84 H61.01 V351.53 H62.90 V354.37 H66.31 V349.25 H68.97 V337.87 H71.43 V331.61 H73.89 V334.08 H75.79 V330.28 H78.44 V326.49 H80.90 V325.92 H84.69 V334.46 H86.59 V329.14 H88.48 V344.89 H90.95 V330.66 H92.84 V336.35 H96.06 V337.30 H97.96 V331.61 H100.42 V340.15 H102.32 V341.09 H104.59 V353.43 H107.43 V361.01 H109.90 V356.84 H111.79 V337.30 H113.69 V351.53 H115.58 V327.25 H117.86 V361.96 H119.75 V364.81 H122.03 V356.84 H123.54 V344.32 H125.82 V371.45 H128.28 V356.27 H130.74 V352.48 H133.02 V355.70 H135.29 V373.34 H137.76 V360.63 H139.65 V356.27 H142.11 V342.04 H144.39 V362.53 H146.28 V351.53 H149.13 V353.05 H151.02 V346.79 H155.76" fill="none" stroke="#222" stroke-width="0.85" clip-path="url(#c20)"/>
<path d="M25.50,355.48 L26.14,355.48 L26.78,355.48 L27.42,355.48 L28.06,355.48 L28.70,355.48 L29.34,355.48 L29.98,355.48 L30.62,355.48 L31.26,355.48 L31.91,355.48 L32.55,355.48 L33.19,355.48 L33.83,355.47 L34.47,355.47 L35.11,355.47 L35.75,355.47 L36.39,355.47 L37.03,355.46 L37.67,355.46 L38.31,355.46 L38.95,355.45 L39.59,355.45 L40.23,355.44 L40.87,355.43 L41.51,355.42 L42.15,355.41 L42.79,355.40 L43.43,355.38 L44.07,355.37 L44.72,355.34 L45.36,355.32 L46.00,355.29 L46.64,355.26 L47.28,355.22 L47.92,355.18 L48.56,355.13 L49.20,355.07 L49.84,355.01 L50.48,354.94 L51.12,354.86 L51.76,354.76 L52.40,354.66 L53.04,354.54 L53.68,354.41 L54.32,354.27 L54.96,354.10 L55.60,353.92 L56.24,353.72 L56.88,353.51 L57.52,353.27 L58.17,353.00 L58.81,352.72 L59.45,352.41 L60.09,352.07 L60.73,351.70 L61.37,351.31 L62.01,350.89 L62.65,350.44 L63.29,349.95 L63.93,349.44 L64.57,348.90 L65.21,348.33 L65.85,347.73 L66.49,347.10 L67.13,346.45 L67.77,345.76 L68.41,345.06 L69.05,344.33 L69.69,343.58 L70.34,342.82 L70.98,342.04 L71.62,341.25 L72.26,340.46 L72.90,339.66 L73.54,338.86 L74.18,338.07 L74.82,337.29 L75.46,336.53 L76.10,335.78 L76.74,335.06 L77.38,334.37 L78.02,333.71 L78.66,333.09 L79.30,332.51 L79.94,331.98 L80.58,331.50 L81.22,331.07 L81.86,330.70 L82.50,330.39 L83.15,330.15 L83.79,329.97 L84.43,329.85 L85.07,329.80 L85.71,329.82 L86.35,329.91 L86.99,330.06 L87.63,330.28 L88.27,330.57 L88.91,330.91 L89.55,331.31 L90.19,331.77 L90.83,332.28 L91.47,332.84 L92.11,333.44 L92.75,334.09 L93.39,334.77 L94.03,335.48 L94.67,336.21 L95.31,336.97 L95.95,337.75 L96.60,338.53 L97.24,339.33 L97.88,340.13 L98.52,340.92 L99.16,341.71 L99.80,342.50 L100.44,343.27 L101.08,344.02 L101.72,344.76 L102.36,345.47 L103.00,346.16 L103.64,346.83 L104.28,347.47 L104.92,348.08 L105.56,348.67 L106.20,349.22 L106.84,349.75 L107.48,350.24 L108.12,350.70 L108.77,351.14 L109.41,351.54 L110.05,351.92 L110.69,352.27 L111.33,352.59 L111.97,352.89 L112.61,353.16 L113.25,353.41 L113.89,353.64 L114.53,353.84 L115.17,354.03 L115.81,354.20 L116.45,354.35 L117.09,354.49 L117.73,354.61 L118.37,354.72 L119.01,354.82 L119.65,354.90 L120.29,354.98 L120.93,355.05 L121.58,355.11 L122.22,355.16 L122.86,355.21 L123.50,355.24 L124.14,355.28 L124.78,355.31 L125.42,355.33 L126.06,355.36 L126.70,355.38 L127.34,355.39 L127.98,355.41 L128.62,355.42 L129.26,355.43 L129.90,355.44 L130.54,355.44 L131.18,355.45 L131.82,355.46 L132.46,355.46 L133.10,355.46 L133.74,355.47 L134.38,355.47 L135.03,355.47 L135.67,355.47 L136.31,355.47 L136.95,355.48 L137.59,355.48 L138.23,355.48 L138.87,355.48 L139.51,355.48 L140.15,355.48 L140.79,355.48 L141.43,355.48 L142.07,355.48 L142.71,355.48 L143.35,355.48 L143.99,355.48 L144.63,355.48 L145.27,355.48 L145.91,355.48 L146.55,355.48 L147.19,355.48 L147.84,355.48 L148.48,355.48 L149.12,355.48 L149.76,355.48 L150.40,355.48 L151.04,355.48 L151.68,355.48 L152.32,355.48 L152.96,355.48 L153.60,355.48" fill="none" stroke="#000" stroke-width="0.9" clip-path="url(#c20)"/>
<rect x="25.5" y="279.40000000000003" width="128.1" height="95.1" fill="none" stroke="#333" stroke-width="0.9"/>
<path d="M25.50,374.5 v-2.8 M25.50,279.40000000000003 v2.8 M32.61,374.5 v-1.4 M32.61,279.40000000000003 v1.4 M39.72,374.5 v-1.4 M39.72,279.40000000000003 v1.4 M46.83,374.5 v-1.4 M46.83,279.40000000000003 v1.4 M53.94,374.5 v-1.4 M53.94,279.40000000000003 v1.4 M61.05,374.5 v-2.8 M61.05,279.40000000000003 v2.8 M68.16,374.5 v-1.4 M68.16,279.40000000000003 v1.4 M75.27,374.5 v-1.4 M75.27,279.40000000000003 v1.4 M82.38,374.5 v-1.4 M82.38,279.40000000000003 v1.4 M89.49,374.5 v-1.4 M89.49,279.40000000000003 v1.4 M96.60,374.5 v-2.8 M96.60,279.40000000000003 v2.8 M103.71,374.5 v-1.4 M103.71,279.40000000000003 v1.4 M110.82,374.5 v-1.4 M110.82,279.40000000000003 v1.4 M117.93,374.5 v-1.4 M117.93,279.40000000000003 v1.4 M125.04,374.5 v-1.4 M125.04,279.40000000000003 v1.4 M132.15,374.5 v-2.8 M132.15,279.40000000000003 v2.8 M139.26,374.5 v-1.4 M139.26,279.40000000000003 v1.4 M146.37,374.5 v-1.4 M146.37,279.40000000000003 v1.4 M153.48,374.5 v-1.4 M153.48,279.40000000000003 v1.4 M25.5,374.50 h1.4 M153.6,374.50 h-1.4 M25.5,355.48 h2.8 M153.6,355.48 h-2.8 M25.5,336.46 h1.4 M153.6,336.46 h-1.4 M25.5,317.44 h2.8 M153.6,317.44 h-2.8 M25.5,298.42 h1.4 M153.6,298.42 h-1.4 M25.5,279.40 h2.8 M153.6,279.40 h-2.8" stroke="#333" stroke-width="0.95" fill="none"/>
<text transform="matrix(1,0.0005,0,1,0,-0.0052)" x="10.64 14.82 17.09 21.39 25.38 29.56 33.86" y="382.70" font-size="6.90">3.45×10</text>
<text transform="matrix(1,0.0005,0,1,0,-0.0190)" x="37.96" y="379.50" font-size="4.69">4</text>
<text transform="matrix(1,0.0005,0,1,0,-0.0241)" x="48.34 52.52 54.79 58.78 62.96 67.26" y="382.70" font-size="6.90">3.5×10</text>
<text transform="matrix(1,0.0005,0,1,0,-0.0357)" x="71.36" y="379.50" font-size="4.69">4</text>
<text transform="matrix(1,0.0005,0,1,0,-0.0408)" x="81.74 85.92 88.19 92.49 96.48 100.66 104.96" y="382.70" font-size="6.90">3.55×10</text>
<text transform="matrix(1,0.0005,0,1,0,-0.0545)" x="109.06" y="379.50" font-size="4.69">4</text>
<text transform="matrix(1,0.0005,0,1,0,-0.0596)" x="119.44 123.62 125.89 129.88 134.06 138.36" y="382.70" font-size="6.90">3.6×10</text>
<text transform="matrix(1,0.0005,0,1,0,-0.0712)" x="142.46" y="379.50" font-size="4.69">4</text>
<text transform="translate(20.70,357.63) rotate(-90) matrix(1,0.0005,0,1,0,0)" x="0.23" y="0" font-size="6.90">0</text>
<text transform="translate(20.70,319.59) rotate(-90) matrix(1,0.0005,0,1,0,0)" x="0.23" y="0" font-size="6.90">2</text>
<text transform="translate(20.70,281.55) rotate(-90) matrix(1,0.0005,0,1,0,0)" x="0.23" y="0" font-size="6.90">4</text>
<text transform="matrix(1,0.0005,0,1,0,-0.0344)" x="68.77" y="391.10" font-size="7.00">v</text>
<text transform="matrix(1,0.0005,0,1,0,-0.0360)" x="72.33 75.53 78.81" y="394.40" font-size="4.90">opt</text>
<text transform="matrix(1,0.0005,0,1,0,-0.0416)" x="83.54 86.29 90.17 97.06 99.83" y="391.10" font-size="7.00">(km s</text>
<line x1="103.30" y1="386.80" x2="107.50" y2="386.80" stroke="#333" stroke-width="0.7"/>
<text transform="matrix(1,0.0005,0,1,0,-0.0540)" x="108.01" y="387.90" font-size="5.00">1</text>
<text transform="matrix(1,0.0005,0,1,0,-0.0551)" x="110.44" y="391.10" font-size="7.00">)</text>
<text transform="translate(8.00,358.60) rotate(-90) matrix(1,0.0005,0,1,0,0)" x="-0.25 3.85 5.52 9.50 13.74 16.70 19.58 25.58 28.94 33.08 35.78 39.67 43.56 47.74" y="0" font-size="7.00">Flux (mJy beam</text>
<line x1="2.90" y1="304.30" x2="2.90" y2="300.50" stroke="#333" stroke-width="0.7"/>
<text transform="translate(4.20,300.20) rotate(-90) matrix(1,0.0005,0,1,0,0)" x="0.11" y="0" font-size="5.00">1</text>
<text transform="translate(8.00,297.40) rotate(-90) matrix(1,0.0005,0,1,0,0)" x="0.31" y="0" font-size="7.00">)</text>
<text transform="matrix(1,0.0005,0,1,0,-0.0175)" x="34.99 36.77 41.56 46.04 51.71 54.93 59.64 64.35 69.06 73.77 79.08 84.60 89.31 94.02 98.73 104.00 107.33 110.36 115.11 120.63 125.19 127.70 132.41 137.12 141.95" y="287.89" font-size="7.38">IRAS 04103−2838 (z=0.118)</text>
<text transform="matrix(1,0.0005,0,1,0,-0.0545)" x="109.00 114.01 119.02 125.07 128.25 133.50 138.97" y="297.15" font-size="7.30">HCN 3−2</text>
<clipPath id="c21"><rect x="200.4" y="279.40000000000003" width="128.1" height="95.1"/></clipPath>
<line x1="200.4" y1="355.48" x2="328.5" y2="355.48" stroke="#999" stroke-width="0.6" stroke-dasharray="0.6 0.7"/>
<path d="M200.00,362.53 H201.90 V361.01 H204.17 V355.70 H206.63 V342.04 H208.53 V354.37 H210.42 V350.58 H212.32 V339.77 H214.78 V350.58 H217.06 V352.48 H218.95 V351.15 H220.47 V363.86 H222.74 V352.48 H225.01 V364.81 H228.05 V361.01 H229.94 V344.89 H232.22 V351.53 H235.06 V345.46 H237.52 V353.43 H239.80 V361.01 H241.69 V342.42 H243.97 V347.36 H246.43 V344.89 H248.89 V336.35 H251.17 V346.22 H253.44 V327.82 H254.96 V321.56 H256.85 V325.92 H259.13 V320.23 H261.02 V333.51 H262.92 V328.38 H264.81 V341.09 H266.71 V310.17 H268.60 V340.15 H270.50 V348.68 H272.96 V339.77 H274.85 V341.09 H276.75 V355.32 H278.64 V366.33 H281.11 V349.63 H283.38 V355.32 H285.28 V362.91 H287.55 V354.37 H290.01 V357.60 H292.86 V351.53 H294.75 V341.09 H296.65 V342.99 H298.54 V359.12 H300.44 V351.53 H303.28 V350.01 H305.17 V355.70 H307.07 V372.02 H308.97 V361.01 H310.86 V344.89 H313.32 V350.01 H315.60 V355.70 H318.44 V357.60 H320.34 V362.53 H322.23 V344.32 H324.13 V361.39 H326.02 V350.01 H330.76" fill="none" stroke="#222" stroke-width="0.85" clip-path="url(#c21)"/>
<path d="M200.40,355.48 L201.04,355.48 L201.68,355.48 L202.32,355.48 L202.96,355.48 L203.60,355.48 L204.24,355.48 L204.88,355.48 L205.52,355.48 L206.16,355.48 L206.81,355.48 L207.45,355.48 L208.09,355.48 L208.73,355.48 L209.37,355.48 L210.01,355.48 L210.65,355.48 L211.29,355.48 L211.93,355.48 L212.57,355.48 L213.21,355.48 L213.85,355.48 L214.49,355.48 L215.13,355.48 L215.77,355.48 L216.41,355.48 L217.05,355.48 L217.69,355.48 L218.33,355.48 L218.97,355.48 L219.62,355.48 L220.26,355.48 L220.90,355.48 L221.54,355.48 L222.18,355.48 L222.82,355.48 L223.46,355.48 L224.10,355.48 L224.74,355.48 L225.38,355.48 L226.02,355.48 L226.66,355.48 L227.30,355.48 L227.94,355.47 L228.58,355.47 L229.22,355.47 L229.86,355.46 L230.50,355.46 L231.14,355.45 L231.78,355.44 L232.43,355.42 L233.07,355.40 L233.71,355.38 L234.35,355.34 L234.99,355.30 L235.63,355.25 L236.27,355.18 L236.91,355.10 L237.55,355.00 L238.19,354.87 L238.83,354.71 L239.47,354.53 L240.11,354.30 L240.75,354.03 L241.39,353.71 L242.03,353.34 L242.67,352.90 L243.31,352.39 L243.95,351.81 L244.59,351.15 L245.24,350.41 L245.88,349.57 L246.52,348.65 L247.16,347.64 L247.80,346.53 L248.44,345.34 L249.08,344.06 L249.72,342.71 L250.36,341.30 L251.00,339.84 L251.64,338.35 L252.28,336.83 L252.92,335.32 L253.56,333.83 L254.20,332.39 L254.84,331.02 L255.48,329.75 L256.12,328.58 L256.76,327.56 L257.40,326.69 L258.05,325.99 L258.69,325.48 L259.33,325.16 L259.97,325.05 L260.61,325.14 L261.25,325.43 L261.89,325.93 L262.53,326.61 L263.17,327.46 L263.81,328.47 L264.45,329.62 L265.09,330.89 L265.73,332.25 L266.37,333.68 L267.01,335.16 L267.65,336.67 L268.29,338.19 L268.93,339.69 L269.57,341.15 L270.21,342.57 L270.86,343.92 L271.50,345.21 L272.14,346.41 L272.78,347.52 L273.42,348.55 L274.06,349.48 L274.70,350.32 L275.34,351.08 L275.98,351.75 L276.62,352.34 L277.26,352.85 L277.90,353.29 L278.54,353.68 L279.18,354.00 L279.82,354.28 L280.46,354.51 L281.10,354.70 L281.74,354.85 L282.38,354.98 L283.02,355.09 L283.67,355.17 L284.31,355.24 L284.95,355.30 L285.59,355.34 L286.23,355.37 L286.87,355.40 L287.51,355.42 L288.15,355.43 L288.79,355.45 L289.43,355.46 L290.07,355.46 L290.71,355.47 L291.35,355.47 L291.99,355.47 L292.63,355.48 L293.27,355.48 L293.91,355.48 L294.55,355.48 L295.19,355.48 L295.83,355.48 L296.48,355.48 L297.12,355.48 L297.76,355.48 L298.40,355.48 L299.04,355.48 L299.68,355.48 L300.32,355.48 L300.96,355.48 L301.60,355.48 L302.24,355.48 L302.88,355.48 L303.52,355.48 L304.16,355.48 L304.80,355.48 L305.44,355.48 L306.08,355.48 L306.72,355.48 L307.36,355.48 L308.00,355.48 L308.64,355.48 L309.29,355.48 L309.93,355.48 L310.57,355.48 L311.21,355.48 L311.85,355.48 L312.49,355.48 L313.13,355.48 L313.77,355.48 L314.41,355.48 L315.05,355.48 L315.69,355.48 L316.33,355.48 L316.97,355.48 L317.61,355.48 L318.25,355.48 L318.89,355.48 L319.53,355.48 L320.17,355.48 L320.81,355.48 L321.45,355.48 L322.10,355.48 L322.74,355.48 L323.38,355.48 L324.02,355.48 L324.66,355.48 L325.30,355.48 L325.94,355.48 L326.58,355.48 L327.22,355.48 L327.86,355.48 L328.50,355.48" fill="none" stroke="#000" stroke-width="0.9" clip-path="url(#c21)"/>
<rect x="200.4" y="279.40000000000003" width="128.1" height="95.1" fill="none" stroke="#333" stroke-width="0.9"/>
<path d="M200.40,374.5 v-2.8 M200.40,279.40000000000003 v2.8 M207.51,374.5 v-1.4 M207.51,279.40000000000003 v1.4 M214.62,374.5 v-1.4 M214.62,279.40000000000003 v1.4 M221.73,374.5 v-1.4 M221.73,279.40000000000003 v1.4 M228.84,374.5 v-1.4 M228.84,279.40000000000003 v1.4 M235.95,374.5 v-2.8 M235.95,279.40000000000003 v2.8 M243.06,374.5 v-1.4 M243.06,279.40000000000003 v1.4 M250.17,374.5 v-1.4 M250.17,279.40000000000003 v1.4 M257.28,374.5 v-1.4 M257.28,279.40000000000003 v1.4 M264.39,374.5 v-1.4 M264.39,279.40000000000003 v1.4 M271.50,374.5 v-2.8 M271.50,279.40000000000003 v2.8 M278.61,374.5 v-1.4 M278.61,279.40000000000003 v1.4 M285.72,374.5 v-1.4 M285.72,279.40000000000003 v1.4 M292.83,374.5 v-1.4 M292.83,279.40000000000003 v1.4 M299.94,374.5 v-1.4 M299.94,279.40000000000003 v1.4 M307.05,374.5 v-2.8 M307.05,279.40000000000003 v2.8 M314.16,374.5 v-1.4 M314.16,279.40000000000003 v1.4 M321.27,374.5 v-1.4 M321.27,279.40000000000003 v1.4 M328.38,374.5 v-1.4 M328.38,279.40000000000003 v1.4 M200.4,374.50 h1.4 M328.5,374.50 h-1.4 M200.4,355.48 h2.8 M328.5,355.48 h-2.8 M200.4,336.46 h1.4 M328.5,336.46 h-1.4 M200.4,317.44 h2.8 M328.5,317.44 h-2.8 M200.4,298.42 h1.4 M328.5,298.42 h-1.4 M200.4,279.40 h2.8 M328.5,279.40 h-2.8" stroke="#333" stroke-width="0.95" fill="none"/>
<text transform="matrix(1,0.0005,0,1,0,-0.0927)" x="185.54 189.72 191.99 196.29 200.28 204.46 208.76" y="382.70" font-size="6.90">3.45×10</text>
<text transform="matrix(1,0.0005,0,1,0,-0.1064)" x="212.86" y="379.50" font-size="4.69">4</text>
<text transform="matrix(1,0.0005,0,1,0,-0.1115)" x="223.24 227.42 229.69 233.68 237.86 242.16" y="382.70" font-size="6.90">3.5×10</text>
<text transform="matrix(1,0.0005,0,1,0,-0.1231)" x="246.26" y="379.50" font-size="4.69">4</text>
<text transform="matrix(1,0.0005,0,1,0,-0.1282)" x="256.64 260.82 263.09 267.39 271.38 275.56 279.86" y="382.70" font-size="6.90">3.55×10</text>
<text transform="matrix(1,0.0005,0,1,0,-0.1420)" x="283.96" y="379.50" font-size="4.69">4</text>
<text transform="matrix(1,0.0005,0,1,0,-0.1471)" x="294.34 298.52 300.79 304.78 308.96 313.26" y="382.70" font-size="6.90">3.6×10</text>
<text transform="matrix(1,0.0005,0,1,0,-0.1587)" x="317.36" y="379.50" font-size="4.69">4</text>
<text transform="translate(195.60,357.63) rotate(-90) matrix(1,0.0005,0,1,0,0)" x="0.23" y="0" font-size="6.90">0</text>
<text transform="translate(195.60,319.59) rotate(-90) matrix(1,0.0005,0,1,0,0)" x="0.23" y="0" font-size="6.90">2</text>
<text transform="translate(195.60,281.55) rotate(-90) matrix(1,0.0005,0,1,0,0)" x="0.23" y="0" font-size="6.90">4</text>
<text transform="matrix(1,0.0005,0,1,0,-0.1218)" x="243.67" y="391.10" font-size="7.00">v</text>
<text transform="matrix(1,0.0005,0,1,0,-0.1235)" x="247.23 250.43 253.71" y="394.40" font-size="4.90">opt</text>
<text transform="matrix(1,0.0005,0,1,0,-0.1291)" x="258.44 261.19 265.07 271.96 274.73" y="391.10" font-size="7.00">(km s</text>
<line x1="278.20" y1="386.80" x2="282.40" y2="386.80" stroke="#333" stroke-width="0.7"/>
<text transform="matrix(1,0.0005,0,1,0,-0.1414)" x="282.91" y="387.90" font-size="5.00">1</text>
<text transform="matrix(1,0.0005,0,1,0,-0.1425)" x="285.34" y="391.10" font-size="7.00">)</text>
<text transform="translate(182.90,358.60) rotate(-90) matrix(1,0.0005,0,1,0,0)" x="-0.25 3.85 5.52 9.50 13.74 16.70 19.58 25.58 28.94 33.08 35.78 39.67 43.56 47.74" y="0" font-size="7.00">Flux (mJy beam</text>
<line x1="177.80" y1="304.30" x2="177.80" y2="300.50" stroke="#333" stroke-width="0.7"/>
<text transform="translate(179.10,300.20) rotate(-90) matrix(1,0.0005,0,1,0,0)" x="0.11" y="0" font-size="5.00">1</text>
<text transform="translate(182.90,297.40) rotate(-90) matrix(1,0.0005,0,1,0,0)" x="0.31" y="0" font-size="7.00">)</text>
<text transform="matrix(1,0.0005,0,1,0,-0.1050)" x="209.89 211.67 216.46 220.94 226.61 229.83 234.54 239.25 243.96 248.67 253.98 259.50 264.21 268.92 273.63 278.90 282.23 285.26 290.01 295.53 300.09 302.60 307.31 312.02 316.85" y="287.89" font-size="7.38">IRAS 04103−2838 (z=0.118)</text>
<text transform="matrix(1,0.0005,0,1,0,-0.1408)" x="281.62 286.63 291.44" y="297.15" font-size="7.30">HCO</text>
<text transform="matrix(1,0.0005,0,1,0,-0.1484)" x="297.08" y="294.45" font-size="5.60">+</text>
<text transform="matrix(1,0.0005,0,1,0,-0.1503)" x="301.45 304.63 309.88 315.34" y="297.15" font-size="7.30"> 3−2</text>
<clipPath id="c22"><rect x="374.6" y="279.40000000000003" width="128.1" height="95.1"/></clipPath>
<line x1="374.6" y1="347.33" x2="502.70000000000005" y2="347.33" stroke="#999" stroke-width="0.6" stroke-dasharray="0.6 0.7"/>
<path d="M374.00,351.15 H375.52 V355.70 H378.17 V340.53 H380.25 V328.76 H382.53 V341.09 H384.42 V351.91 H386.32 V336.35 H388.21 V360.07 H390.68 V347.73 H392.57 V334.46 H394.47 V354.37 H396.74 V330.28 H398.64 V327.82 H400.53 V342.04 H402.05 V353.43 H404.32 V350.58 H406.22 V340.53 H408.11 V348.68 H410.01 V349.63 H414.74 V344.89 H417.59 V335.97 H419.48 V351.53 H421.38 V337.30 H423.65 V315.11 H425.55 V326.87 H428.01 V343.94 H429.34 V316.43 H431.23 V323.07 H433.13 V326.87 H435.02 V357.22 H436.54 V337.87 H439.38 V318.33 H441.27 V339.20 H443.17 V310.74 H445.63 V342.99 H447.91 V345.84 H449.80 V347.73 H451.70 V341.66 H453.59 V363.86 H455.49 V348.68 H457.38 V327.25 H459.28 V322.69 H461.17 V349.63 H462.69 V338.25 H464.96 V352.48 H466.86 V353.43 H468.75 V335.40 H470.65 V336.35 H472.54 V343.94 H474.44 V333.51 H477.28 V325.54 H480.12 V350.01 H482.02 V335.40 H484.48 V347.73 H486.76 V372.40 H488.65 V366.70 H490.55 V352.48 H492.44 V355.32 H494.34 V351.53 H496.80 V354.37 H498.69 V342.99 H500.97 V343.94 H504.76" fill="none" stroke="#222" stroke-width="0.85" clip-path="url(#c22)"/>
<path d="M374.60,347.33 L375.24,347.33 L375.88,347.33 L376.52,347.33 L377.16,347.33 L377.80,347.33 L378.44,347.33 L379.08,347.33 L379.72,347.33 L380.36,347.33 L381.00,347.33 L381.65,347.33 L382.29,347.33 L382.93,347.33 L383.57,347.33 L384.21,347.33 L384.85,347.33 L385.49,347.33 L386.13,347.33 L386.77,347.33 L387.41,347.33 L388.05,347.33 L388.69,347.33 L389.33,347.33 L389.97,347.33 L390.61,347.32 L391.25,347.32 L391.89,347.32 L392.53,347.32 L393.17,347.32 L393.81,347.32 L394.46,347.31 L395.10,347.31 L395.74,347.30 L396.38,347.30 L397.02,347.29 L397.66,347.28 L398.30,347.27 L398.94,347.26 L399.58,347.24 L400.22,347.22 L400.86,347.20 L401.50,347.17 L402.14,347.14 L402.78,347.11 L403.42,347.06 L404.06,347.01 L404.70,346.95 L405.34,346.89 L405.98,346.81 L406.62,346.72 L407.27,346.61 L407.91,346.50 L408.55,346.37 L409.19,346.22 L409.83,346.05 L410.47,345.86 L411.11,345.65 L411.75,345.42 L412.39,345.16 L413.03,344.88 L413.67,344.58 L414.31,344.24 L414.95,343.88 L415.59,343.49 L416.23,343.07 L416.87,342.63 L417.51,342.15 L418.15,341.65 L418.79,341.13 L419.44,340.58 L420.08,340.01 L420.72,339.42 L421.36,338.82 L422.00,338.20 L422.64,337.58 L423.28,336.95 L423.92,336.32 L424.56,335.70 L425.20,335.09 L425.84,334.50 L426.48,333.92 L427.12,333.37 L427.76,332.86 L428.40,332.38 L429.04,331.94 L429.68,331.54 L430.32,331.20 L430.96,330.91 L431.60,330.68 L432.25,330.51 L432.89,330.40 L433.53,330.35 L434.17,330.36 L434.81,330.44 L435.45,330.58 L436.09,330.78 L436.73,331.04 L437.37,331.35 L438.01,331.72 L438.65,332.13 L439.29,332.59 L439.93,333.09 L440.57,333.62 L441.21,334.18 L441.85,334.77 L442.49,335.37 L443.13,335.99 L443.77,336.61 L444.41,337.24 L445.06,337.87 L445.70,338.49 L446.34,339.10 L446.98,339.69 L447.62,340.27 L448.26,340.83 L448.90,341.37 L449.54,341.88 L450.18,342.37 L450.82,342.83 L451.46,343.27 L452.10,343.67 L452.74,344.05 L453.38,344.40 L454.02,344.72 L454.66,345.01 L455.30,345.28 L455.94,345.53 L456.58,345.75 L457.22,345.95 L457.87,346.13 L458.51,346.29 L459.15,346.43 L459.79,346.55 L460.43,346.66 L461.07,346.76 L461.71,346.84 L462.35,346.92 L462.99,346.98 L463.63,347.04 L464.27,347.08 L464.91,347.12 L465.55,347.16 L466.19,347.19 L466.83,347.21 L467.47,347.23 L468.11,347.25 L468.75,347.26 L469.39,347.28 L470.03,347.29 L470.68,347.29 L471.32,347.30 L471.96,347.31 L472.60,347.31 L473.24,347.31 L473.88,347.32 L474.52,347.32 L475.16,347.32 L475.80,347.32 L476.44,347.32 L477.08,347.33 L477.72,347.33 L478.36,347.33 L479.00,347.33 L479.64,347.33 L480.28,347.33 L480.92,347.33 L481.56,347.33 L482.20,347.33 L482.84,347.33 L483.49,347.33 L484.13,347.33 L484.77,347.33 L485.41,347.33 L486.05,347.33 L486.69,347.33 L487.33,347.33 L487.97,347.33 L488.61,347.33 L489.25,347.33 L489.89,347.33 L490.53,347.33 L491.17,347.33 L491.81,347.33 L492.45,347.33 L493.09,347.33 L493.73,347.33 L494.37,347.33 L495.01,347.33 L495.65,347.33 L496.30,347.33 L496.94,347.33 L497.58,347.33 L498.22,347.33 L498.86,347.33 L499.50,347.33 L500.14,347.33 L500.78,347.33 L501.42,347.33 L502.06,347.33 L502.70,347.33" fill="none" stroke="#000" stroke-width="0.9" clip-path="url(#c22)"/>
<rect x="374.6" y="279.40000000000003" width="128.1" height="95.1" fill="none" stroke="#333" stroke-width="0.9"/>
<path d="M374.60,374.5 v-2.8 M374.60,279.40000000000003 v2.8 M381.71,374.5 v-1.4 M381.71,279.40000000000003 v1.4 M388.82,374.5 v-1.4 M388.82,279.40000000000003 v1.4 M395.93,374.5 v-1.4 M395.93,279.40000000000003 v1.4 M403.04,374.5 v-1.4 M403.04,279.40000000000003 v1.4 M410.15,374.5 v-2.8 M410.15,279.40000000000003 v2.8 M417.26,374.5 v-1.4 M417.26,279.40000000000003 v1.4 M424.37,374.5 v-1.4 M424.37,279.40000000000003 v1.4 M431.48,374.5 v-1.4 M431.48,279.40000000000003 v1.4 M438.59,374.5 v-1.4 M438.59,279.40000000000003 v1.4 M445.70,374.5 v-2.8 M445.70,279.40000000000003 v2.8 M452.81,374.5 v-1.4 M452.81,279.40000000000003 v1.4 M459.92,374.5 v-1.4 M459.92,279.40000000000003 v1.4 M467.03,374.5 v-1.4 M467.03,279.40000000000003 v1.4 M474.14,374.5 v-1.4 M474.14,279.40000000000003 v1.4 M481.25,374.5 v-2.8 M481.25,279.40000000000003 v2.8 M488.36,374.5 v-1.4 M488.36,279.40000000000003 v1.4 M495.47,374.5 v-1.4 M495.47,279.40000000000003 v1.4 M502.58,374.5 v-1.4 M502.58,279.40000000000003 v1.4 M374.6,374.50 h1.4 M502.70000000000005,374.50 h-1.4 M374.6,367.71 h1.4 M502.70000000000005,367.71 h-1.4 M374.6,360.91 h1.4 M502.70000000000005,360.91 h-1.4 M374.6,354.12 h1.4 M502.70000000000005,354.12 h-1.4 M374.6,347.33 h2.8 M502.70000000000005,347.33 h-2.8 M374.6,340.54 h1.4 M502.70000000000005,340.54 h-1.4 M374.6,333.74 h1.4 M502.70000000000005,333.74 h-1.4 M374.6,326.95 h1.4 M502.70000000000005,326.95 h-1.4 M374.6,320.16 h1.4 M502.70000000000005,320.16 h-1.4 M374.6,313.36 h2.8 M502.70000000000005,313.36 h-2.8 M374.6,306.57 h1.4 M502.70000000000005,306.57 h-1.4 M374.6,299.78 h1.4 M502.70000000000005,299.78 h-1.4 M374.6,292.99 h1.4 M502.70000000000005,292.99 h-1.4 M374.6,286.19 h1.4 M502.70000000000005,286.19 h-1.4 M374.6,279.40 h2.8 M502.70000000000005,279.40 h-2.8" stroke="#333" stroke-width="0.95" fill="none"/>
<text transform="matrix(1,0.0005,0,1,0,-0.1798)" x="359.74 363.92 366.19 370.49 374.48 378.66 382.96" y="382.70" font-size="6.90">3.45×10</text>
<text transform="matrix(1,0.0005,0,1,0,-0.1935)" x="387.06" y="379.50" font-size="4.69">4</text>
<text transform="matrix(1,0.0005,0,1,0,-0.1986)" x="397.44 401.62 403.89 407.88 412.06 416.36" y="382.70" font-size="6.90">3.5×10</text>
<text transform="matrix(1,0.0005,0,1,0,-0.2102)" x="420.46" y="379.50" font-size="4.69">4</text>
<text transform="matrix(1,0.0005,0,1,0,-0.2153)" x="430.84 435.02 437.29 441.59 445.58 449.76 454.06" y="382.70" font-size="6.90">3.55×10</text>
<text transform="matrix(1,0.0005,0,1,0,-0.2291)" x="458.16" y="379.50" font-size="4.69">4</text>
<text transform="matrix(1,0.0005,0,1,0,-0.2342)" x="468.54 472.72 474.99 478.98 483.16 487.46" y="382.70" font-size="6.90">3.6×10</text>
<text transform="matrix(1,0.0005,0,1,0,-0.2458)" x="491.56" y="379.50" font-size="4.69">4</text>
<text transform="translate(369.80,349.48) rotate(-90) matrix(1,0.0005,0,1,0,0)" x="0.23" y="0" font-size="6.90">0</text>
<text transform="translate(369.80,317.66) rotate(-90) matrix(1,0.0005,0,1,0,0)" x="0.23 4.53" y="0" font-size="6.90">10</text>
<text transform="translate(369.80,283.70) rotate(-90) matrix(1,0.0005,0,1,0,0)" x="0.23 4.53" y="0" font-size="6.90">20</text>
<text transform="matrix(1,0.0005,0,1,0,-0.2090)" x="417.87" y="391.10" font-size="7.00">v</text>
<text transform="matrix(1,0.0005,0,1,0,-0.2106)" x="421.43 424.63 427.91" y="394.40" font-size="4.90">opt</text>
<text transform="matrix(1,0.0005,0,1,0,-0.2162)" x="432.64 435.39 439.27 446.16 448.93" y="391.10" font-size="7.00">(km s</text>
<line x1="452.40" y1="386.80" x2="456.60" y2="386.80" stroke="#333" stroke-width="0.7"/>
<text transform="matrix(1,0.0005,0,1,0,-0.2285)" x="457.11" y="387.90" font-size="5.00">1</text>
<text transform="matrix(1,0.0005,0,1,0,-0.2296)" x="459.54" y="391.10" font-size="7.00">)</text>
<text transform="translate(357.10,344.61) rotate(-90) matrix(1,0.0005,0,1,0,0)" x="-0.25 3.85 5.52 9.50 13.74 16.70 19.58 25.58 28.94 32.68" y="0" font-size="7.00">Flux (mJy)</text>
<text transform="matrix(1,0.0005,0,1,0,-0.1921)" x="384.09 385.87 390.66 395.14 400.81 404.03 408.74 413.45 418.16 422.87 428.18 433.70 438.41 443.12 447.83 453.10 456.43 459.46 464.21 469.73 474.29 476.80 481.51 486.22 491.05" y="287.89" font-size="7.38">IRAS 04103−2838 (z=0.118)</text>
<text transform="matrix(1,0.0005,0,1,0,-0.1928)" x="386.03 389.18 394.11 398.12 401.18 405.61 409.92 414.34 417.46 420.05 424.60 427.39 431.93" y="297.15" font-size="7.30">(1" aperture)</text>
<text transform="matrix(1,0.0005,0,1,0,-0.2291)" x="458.10 463.11 468.12 474.17 477.35 482.60 488.07" y="297.15" font-size="7.30">HCN 3−2</text>
<clipPath id="c23"><rect x="549.6" y="279.40000000000003" width="128.1" height="95.1"/></clipPath>
<line x1="549.6" y1="347.33" x2="677.7" y2="347.33" stroke="#999" stroke-width="0.6" stroke-dasharray="0.6 0.7"/>
<path d="M549.00,359.12 H550.90 V351.53 H552.79 V350.58 H554.31 V334.08 H556.20 V353.43 H557.53 V355.70 H559.42 V361.96 H561.32 V353.05 H563.21 V368.98 H565.68 V343.56 H569.85 V332.56 H571.74 V339.20 H573.64 V332.56 H575.15 V340.15 H577.05 V355.32 H578.37 V337.30 H579.70 V331.61 H581.59 V347.73 H584.06 V374.29 H586.52 V352.48 H588.42 V331.61 H590.69 V333.51 H592.97 V326.87 H595.43 V324.97 H597.89 V311.31 H600.17 V341.09 H602.44 V319.28 H604.90 V320.80 H607.37 V315.86 H609.64 V342.99 H612.48 V341.66 H615.33 V336.35 H617.60 V349.63 H619.50 V335.40 H623.85 V335.40 H626.32 V348.68 H628.21 V335.40 H629.54 V329.71 H631.43 V326.49 H633.33 V347.36 H635.22 V348.68 H637.69 V351.53 H639.96 V341.09 H642.24 V350.58 H644.13 V328.38 H647.16 V350.58 H649.44 V347.73 H652.28 V353.80 H655.12 V342.99 H657.40 V362.53 H659.86 V343.94 H664.22 V362.53 H666.11 V361.01 H668.39 V325.35 H670.28 V368.98 H672.56 V343.94 H675.02 V346.79 H679.76" fill="none" stroke="#222" stroke-width="0.85" clip-path="url(#c23)"/>
<path d="M549.60,347.33 L550.24,347.33 L550.88,347.33 L551.52,347.33 L552.16,347.33 L552.80,347.33 L553.44,347.33 L554.08,347.33 L554.72,347.33 L555.36,347.33 L556.00,347.33 L556.65,347.33 L557.29,347.33 L557.93,347.33 L558.57,347.33 L559.21,347.33 L559.85,347.33 L560.49,347.33 L561.13,347.33 L561.77,347.33 L562.41,347.33 L563.05,347.33 L563.69,347.33 L564.33,347.33 L564.97,347.33 L565.61,347.33 L566.25,347.33 L566.89,347.32 L567.53,347.32 L568.17,347.32 L568.82,347.32 L569.46,347.32 L570.10,347.31 L570.74,347.31 L571.38,347.30 L572.02,347.29 L572.66,347.28 L573.30,347.27 L573.94,347.25 L574.58,347.23 L575.22,347.20 L575.86,347.17 L576.50,347.12 L577.14,347.07 L577.78,347.01 L578.42,346.94 L579.06,346.85 L579.70,346.75 L580.34,346.62 L580.98,346.48 L581.62,346.31 L582.27,346.11 L582.91,345.87 L583.55,345.61 L584.19,345.30 L584.83,344.96 L585.47,344.57 L586.11,344.13 L586.75,343.64 L587.39,343.10 L588.03,342.51 L588.67,341.86 L589.31,341.15 L589.95,340.39 L590.59,339.58 L591.23,338.71 L591.87,337.80 L592.51,336.84 L593.15,335.85 L593.79,334.83 L594.44,333.79 L595.08,332.74 L595.72,331.69 L596.36,330.65 L597.00,329.63 L597.64,328.65 L598.28,327.72 L598.92,326.84 L599.56,326.04 L600.20,325.32 L600.84,324.69 L601.48,324.16 L602.12,323.75 L602.76,323.45 L603.40,323.27 L604.04,323.21 L604.68,323.28 L605.32,323.48 L605.96,323.79 L606.60,324.22 L607.25,324.76 L607.89,325.41 L608.53,326.14 L609.17,326.95 L609.81,327.84 L610.45,328.78 L611.09,329.77 L611.73,330.79 L612.37,331.83 L613.01,332.88 L613.65,333.93 L614.29,334.97 L614.93,335.99 L615.57,336.97 L616.21,337.92 L616.85,338.83 L617.49,339.69 L618.13,340.49 L618.77,341.25 L619.41,341.95 L620.06,342.59 L620.70,343.18 L621.34,343.71 L621.98,344.19 L622.62,344.62 L623.26,345.01 L623.90,345.35 L624.54,345.65 L625.18,345.91 L625.82,346.13 L626.46,346.33 L627.10,346.50 L627.74,346.64 L628.38,346.76 L629.02,346.87 L629.66,346.95 L630.30,347.02 L630.94,347.08 L631.58,347.13 L632.22,347.17 L632.87,347.20 L633.51,347.23 L634.15,347.25 L634.79,347.27 L635.43,347.28 L636.07,347.29 L636.71,347.30 L637.35,347.31 L637.99,347.31 L638.63,347.32 L639.27,347.32 L639.91,347.32 L640.55,347.32 L641.19,347.32 L641.83,347.33 L642.47,347.33 L643.11,347.33 L643.75,347.33 L644.39,347.33 L645.03,347.33 L645.68,347.33 L646.32,347.33 L646.96,347.33 L647.60,347.33 L648.24,347.33 L648.88,347.33 L649.52,347.33 L650.16,347.33 L650.80,347.33 L651.44,347.33 L652.08,347.33 L652.72,347.33 L653.36,347.33 L654.00,347.33 L654.64,347.33 L655.28,347.33 L655.92,347.33 L656.56,347.33 L657.20,347.33 L657.84,347.33 L658.49,347.33 L659.13,347.33 L659.77,347.33 L660.41,347.33 L661.05,347.33 L661.69,347.33 L662.33,347.33 L662.97,347.33 L663.61,347.33 L664.25,347.33 L664.89,347.33 L665.53,347.33 L666.17,347.33 L666.81,347.33 L667.45,347.33 L668.09,347.33 L668.73,347.33 L669.37,347.33 L670.01,347.33 L670.65,347.33 L671.30,347.33 L671.94,347.33 L672.58,347.33 L673.22,347.33 L673.86,347.33 L674.50,347.33 L675.14,347.33 L675.78,347.33 L676.42,347.33 L677.06,347.33 L677.70,347.33" fill="none" stroke="#000" stroke-width="0.9" clip-path="url(#c23)"/>
<rect x="549.6" y="279.40000000000003" width="128.1" height="95.1" fill="none" stroke="#333" stroke-width="0.9"/>
<path d="M549.60,374.5 v-2.8 M549.60,279.40000000000003 v2.8 M556.71,374.5 v-1.4 M556.71,279.40000000000003 v1.4 M563.82,374.5 v-1.4 M563.82,279.40000000000003 v1.4 M570.93,374.5 v-1.4 M570.93,279.40000000000003 v1.4 M578.04,374.5 v-1.4 M578.04,279.40000000000003 v1.4 M585.15,374.5 v-2.8 M585.15,279.40000000000003 v2.8 M592.26,374.5 v-1.4 M592.26,279.40000000000003 v1.4 M599.37,374.5 v-1.4 M599.37,279.40000000000003 v1.4 M606.48,374.5 v-1.4 M606.48,279.40000000000003 v1.4 M613.59,374.5 v-1.4 M613.59,279.40000000000003 v1.4 M620.70,374.5 v-2.8 M620.70,279.40000000000003 v2.8 M627.81,374.5 v-1.4 M627.81,279.40000000000003 v1.4 M634.92,374.5 v-1.4 M634.92,279.40000000000003 v1.4 M642.03,374.5 v-1.4 M642.03,279.40000000000003 v1.4 M649.14,374.5 v-1.4 M649.14,279.40000000000003 v1.4 M656.25,374.5 v-2.8 M656.25,279.40000000000003 v2.8 M663.36,374.5 v-1.4 M663.36,279.40000000000003 v1.4 M670.47,374.5 v-1.4 M670.47,279.40000000000003 v1.4 M677.58,374.5 v-1.4 M677.58,279.40000000000003 v1.4 M549.6,374.50 h1.4 M677.7,374.50 h-1.4 M549.6,367.71 h1.4 M677.7,367.71 h-1.4 M549.6,360.91 h1.4 M677.7,360.91 h-1.4 M549.6,354.12 h1.4 M677.7,354.12 h-1.4 M549.6,347.33 h2.8 M677.7,347.33 h-2.8 M549.6,340.54 h1.4 M677.7,340.54 h-1.4 M549.6,333.74 h1.4 M677.7,333.74 h-1.4 M549.6,326.95 h1.4 M677.7,326.95 h-1.4 M549.6,320.16 h1.4 M677.7,320.16 h-1.4 M549.6,313.36 h2.8 M677.7,313.36 h-2.8 M549.6,306.57 h1.4 M677.7,306.57 h-1.4 M549.6,299.78 h1.4 M677.7,299.78 h-1.4 M549.6,292.99 h1.4 M677.7,292.99 h-1.4 M549.6,286.19 h1.4 M677.7,286.19 h-1.4 M549.6,279.40 h2.8 M677.7,279.40 h-2.8" stroke="#333" stroke-width="0.95" fill="none"/>
<text transform="matrix(1,0.0005,0,1,0,-0.2673)" x="534.74 538.92 541.19 545.49 549.48 553.66 557.96" y="382.70" font-size="6.90">3.45×10</text>
<text transform="matrix(1,0.0005,0,1,0,-0.2810)" x="562.06" y="379.50" font-size="4.69">4</text>
<text transform="matrix(1,0.0005,0,1,0,-0.2861)" x="572.44 576.62 578.89 582.88 587.06 591.36" y="382.70" font-size="6.90">3.5×10</text>
<text transform="matrix(1,0.0005,0,1,0,-0.2977)" x="595.46" y="379.50" font-size="4.69">4</text>
<text transform="matrix(1,0.0005,0,1,0,-0.3028)" x="605.84 610.02 612.29 616.59 620.58 624.76 629.06" y="382.70" font-size="6.90">3.55×10</text>
<text transform="matrix(1,0.0005,0,1,0,-0.3166)" x="633.16" y="379.50" font-size="4.69">4</text>
<text transform="matrix(1,0.0005,0,1,0,-0.3217)" x="643.54 647.72 649.99 653.98 658.16 662.46" y="382.70" font-size="6.90">3.6×10</text>
<text transform="matrix(1,0.0005,0,1,0,-0.3333)" x="666.56" y="379.50" font-size="4.69">4</text>
<text transform="translate(544.80,349.48) rotate(-90) matrix(1,0.0005,0,1,0,0)" x="0.23" y="0" font-size="6.90">0</text>
<text transform="translate(544.80,317.66) rotate(-90) matrix(1,0.0005,0,1,0,0)" x="0.23 4.53" y="0" font-size="6.90">10</text>
<text transform="translate(544.80,283.70) rotate(-90) matrix(1,0.0005,0,1,0,0)" x="0.23 4.53" y="0" font-size="6.90">20</text>
<text transform="matrix(1,0.0005,0,1,0,-0.2964)" x="592.87" y="391.10" font-size="7.00">v</text>
<text transform="matrix(1,0.0005,0,1,0,-0.2981)" x="596.43 599.63 602.91" y="394.40" font-size="4.90">opt</text>
<text transform="matrix(1,0.0005,0,1,0,-0.3037)" x="607.64 610.39 614.27 621.16 623.93" y="391.10" font-size="7.00">(km s</text>
<line x1="627.40" y1="386.80" x2="631.60" y2="386.80" stroke="#333" stroke-width="0.7"/>
<text transform="matrix(1,0.0005,0,1,0,-0.3160)" x="632.11" y="387.90" font-size="5.00">1</text>
<text transform="matrix(1,0.0005,0,1,0,-0.3171)" x="634.54" y="391.10" font-size="7.00">)</text>
<text transform="translate(532.10,344.61) rotate(-90) matrix(1,0.0005,0,1,0,0)" x="-0.25 3.85 5.52 9.50 13.74 16.70 19.58 25.58 28.94 32.68" y="0" font-size="7.00">Flux (mJy)</text>
<text transform="matrix(1,0.0005,0,1,0,-0.2796)" x="559.09 560.87 565.66 570.14 575.81 579.03 583.74 588.45 593.16 597.87 603.18 608.70 613.41 618.12 622.83 628.10 631.43 634.46 639.21 644.73 649.29 651.80 656.51 661.22 666.05" y="287.89" font-size="7.38">IRAS 04103−2838 (z=0.118)</text>
<text transform="matrix(1,0.0005,0,1,0,-0.2803)" x="561.03 564.18 569.11 573.12 576.18 580.61 584.92 589.34 592.46 595.05 599.60 602.39 606.93" y="297.15" font-size="7.30">(1" aperture)</text>
<text transform="matrix(1,0.0005,0,1,0,-0.3154)" x="630.82 635.83 640.64" y="297.15" font-size="7.30">HCO</text>
<text transform="matrix(1,0.0005,0,1,0,-0.3230)" x="646.28" y="294.45" font-size="5.60">+</text>
<text transform="matrix(1,0.0005,0,1,0,-0.3249)" x="650.65 653.83 659.08 664.54" y="297.15" font-size="7.30"> 3−2</text>
<clipPath id="c30"><rect x="25.5" y="417.05000000000007" width="128.1" height="95.1"/></clipPath>
<line x1="25.5" y1="496.85" x2="153.6" y2="496.85" stroke="#999" stroke-width="0.6" stroke-dasharray="0.6 0.7"/>
<path d="M25.00,498.01 H27.27 V499.53 H29.17 V498.01 H31.63 V499.91 H34.48 V496.12 H36.75 V500.86 H38.64 V504.08 H43.95 V494.22 H46.22 V495.74 H47.74 V495.17 H50.58 V498.01 H52.48 V491.94 H54.94 V497.07 H56.84 V498.01 H61.95 V488.15 H64.80 V502.19 H66.69 V499.91 H68.59 V507.12 H70.48 V498.96 H72.38 V482.46 H74.65 V496.12 H77.11 V491.37 H79.01 V498.01 H80.90 V487.58 H82.80 V485.68 H84.69 V479.04 H86.59 V466.71 H88.48 V472.40 H90.38 V475.25 H92.27 V472.97 H94.17 V485.11 H96.63 V468.61 H98.91 V460.07 H100.80 V457.23 H102.70 V465.38 H104.59 V461.97 H106.87 V468.61 H108.76 V471.46 H110.66 V472.40 H113.12 V473.35 H115.96 V469.56 H118.24 V492.32 H120.13 V478.66 H122.03 V480.94 H124.49 V491.94 H126.38 V498.39 H128.85 V492.32 H131.12 V494.22 H133.02 V491.94 H134.91 V494.60 H137.76 V501.81 H140.60 V495.17 H142.49 V493.27 H144.77 V498.01 H147.23 V496.50 H150.07 V510.34 H152.35 V492.70 H155.76" fill="none" stroke="#222" stroke-width="0.85" clip-path="url(#c30)"/>
<path d="M25.50,496.85 L26.14,496.85 L26.78,496.85 L27.42,496.85 L28.06,496.85 L28.70,496.85 L29.34,496.85 L29.98,496.85 L30.62,496.85 L31.26,496.85 L31.91,496.85 L32.55,496.85 L33.19,496.85 L33.83,496.85 L34.47,496.85 L35.11,496.85 L35.75,496.85 L36.39,496.85 L37.03,496.85 L37.67,496.85 L38.31,496.85 L38.95,496.85 L39.59,496.85 L40.23,496.85 L40.87,496.85 L41.51,496.85 L42.15,496.85 L42.79,496.85 L43.43,496.85 L44.07,496.85 L44.72,496.85 L45.36,496.85 L46.00,496.85 L46.64,496.85 L47.28,496.85 L47.92,496.85 L48.56,496.85 L49.20,496.85 L49.84,496.85 L50.48,496.85 L51.12,496.85 L51.76,496.85 L52.40,496.85 L53.04,496.85 L53.68,496.85 L54.32,496.85 L54.96,496.85 L55.60,496.85 L56.24,496.85 L56.88,496.85 L57.52,496.85 L58.17,496.84 L58.81,496.84 L59.45,496.84 L60.09,496.83 L60.73,496.83 L61.37,496.82 L62.01,496.82 L62.65,496.81 L63.29,496.80 L63.93,496.79 L64.57,496.77 L65.21,496.75 L65.85,496.73 L66.49,496.71 L67.13,496.68 L67.77,496.64 L68.41,496.60 L69.05,496.55 L69.69,496.49 L70.34,496.43 L70.98,496.35 L71.62,496.26 L72.26,496.16 L72.90,496.04 L73.54,495.91 L74.18,495.76 L74.82,495.59 L75.46,495.39 L76.10,495.17 L76.74,494.93 L77.38,494.66 L78.02,494.35 L78.66,494.01 L79.30,493.64 L79.94,493.23 L80.58,492.78 L81.22,492.29 L81.86,491.75 L82.50,491.17 L83.15,490.55 L83.79,489.88 L84.43,489.16 L85.07,488.40 L85.71,487.59 L86.35,486.74 L86.99,485.84 L87.63,484.90 L88.27,483.93 L88.91,482.91 L89.55,481.87 L90.19,480.80 L90.83,479.72 L91.47,478.61 L92.11,477.50 L92.75,476.38 L93.39,475.27 L94.03,474.17 L94.67,473.10 L95.31,472.05 L95.95,471.04 L96.60,470.07 L97.24,469.16 L97.88,468.31 L98.52,467.52 L99.16,466.81 L99.80,466.19 L100.44,465.65 L101.08,465.20 L101.72,464.85 L102.36,464.60 L103.00,464.45 L103.64,464.40 L104.28,464.46 L104.92,464.62 L105.56,464.89 L106.20,465.25 L106.84,465.71 L107.48,466.26 L108.12,466.90 L108.77,467.62 L109.41,468.41 L110.05,469.27 L110.69,470.19 L111.33,471.17 L111.97,472.18 L112.61,473.23 L113.25,474.31 L113.89,475.41 L114.53,476.52 L115.17,477.64 L115.81,478.75 L116.45,479.86 L117.09,480.94 L117.73,482.01 L118.37,483.05 L119.01,484.05 L119.65,485.02 L120.29,485.96 L120.93,486.85 L121.58,487.70 L122.22,488.50 L122.86,489.26 L123.50,489.97 L124.14,490.63 L124.78,491.25 L125.42,491.82 L126.06,492.35 L126.70,492.84 L127.34,493.28 L127.98,493.69 L128.62,494.06 L129.26,494.39 L129.90,494.69 L130.54,494.96 L131.18,495.20 L131.82,495.42 L132.46,495.61 L133.10,495.78 L133.74,495.93 L134.38,496.06 L135.03,496.18 L135.67,496.28 L136.31,496.36 L136.95,496.44 L137.59,496.50 L138.23,496.56 L138.87,496.61 L139.51,496.65 L140.15,496.68 L140.79,496.71 L141.43,496.73 L142.07,496.76 L142.71,496.77 L143.35,496.79 L143.99,496.80 L144.63,496.81 L145.27,496.82 L145.91,496.82 L146.55,496.83 L147.19,496.84 L147.84,496.84 L148.48,496.84 L149.12,496.84 L149.76,496.85 L150.40,496.85 L151.04,496.85 L151.68,496.85 L152.32,496.85 L152.96,496.85 L153.60,496.85" fill="none" stroke="#000" stroke-width="0.9" clip-path="url(#c30)"/>
<rect x="25.5" y="417.05000000000007" width="128.1" height="95.1" fill="none" stroke="#333" stroke-width="0.9"/>
<path d="M32.23,512.1500000000001 v-1.4 M32.23,417.05000000000007 v1.4 M39.39,512.1500000000001 v-1.4 M39.39,417.05000000000007 v1.4 M46.55,512.1500000000001 v-1.4 M46.55,417.05000000000007 v1.4 M53.71,512.1500000000001 v-2.8 M53.71,417.05000000000007 v2.8 M60.87,512.1500000000001 v-1.4 M60.87,417.05000000000007 v1.4 M68.03,512.1500000000001 v-1.4 M68.03,417.05000000000007 v1.4 M75.19,512.1500000000001 v-1.4 M75.19,417.05000000000007 v1.4 M82.35,512.1500000000001 v-1.4 M82.35,417.05000000000007 v1.4 M89.51,512.1500000000001 v-2.8 M89.51,417.05000000000007 v2.8 M96.67,512.1500000000001 v-1.4 M96.67,417.05000000000007 v1.4 M103.83,512.1500000000001 v-1.4 M103.83,417.05000000000007 v1.4 M110.99,512.1500000000001 v-1.4 M110.99,417.05000000000007 v1.4 M118.15,512.1500000000001 v-1.4 M118.15,417.05000000000007 v1.4 M125.31,512.1500000000001 v-2.8 M125.31,417.05000000000007 v2.8 M132.47,512.1500000000001 v-1.4 M132.47,417.05000000000007 v1.4 M139.63,512.1500000000001 v-1.4 M139.63,417.05000000000007 v1.4 M146.79,512.1500000000001 v-1.4 M146.79,417.05000000000007 v1.4 M25.5,510.15 h1.4 M153.6,510.15 h-1.4 M25.5,496.85 h2.8 M153.6,496.85 h-2.8 M25.5,483.55 h1.4 M153.6,483.55 h-1.4 M25.5,470.25 h2.8 M153.6,470.25 h-2.8 M25.5,456.95 h1.4 M153.6,456.95 h-1.4 M25.5,443.65 h2.8 M153.6,443.65 h-2.8 M25.5,430.35 h1.4 M153.6,430.35 h-1.4 M25.5,417.05 h2.8 M153.6,417.05 h-2.8" stroke="#333" stroke-width="0.95" fill="none"/>
<text transform="matrix(1,0.0005,0,1,0,-0.0204)" x="41.00 45.18 47.45 51.44 55.62 59.92" y="520.35" font-size="6.90">3.7×10</text>
<text transform="matrix(1,0.0005,0,1,0,-0.0320)" x="64.02" y="517.15" font-size="4.69">4</text>
<text transform="matrix(1,0.0005,0,1,0,-0.0372)" x="74.65 78.83 81.10 85.40 89.39 93.57 97.87" y="520.35" font-size="6.90">3.75×10</text>
<text transform="matrix(1,0.0005,0,1,0,-0.0510)" x="101.97" y="517.15" font-size="4.69">4</text>
<text transform="matrix(1,0.0005,0,1,0,-0.0562)" x="112.60 116.78 119.05 123.04 127.22 131.52" y="520.35" font-size="6.90">3.8×10</text>
<text transform="matrix(1,0.0005,0,1,0,-0.0678)" x="135.62" y="517.15" font-size="4.69">4</text>
<text transform="translate(20.70,499.00) rotate(-90) matrix(1,0.0005,0,1,0,0)" x="0.23" y="0" font-size="6.90">0</text>
<text transform="translate(20.70,472.40) rotate(-90) matrix(1,0.0005,0,1,0,0)" x="0.23" y="0" font-size="6.90">2</text>
<text transform="translate(20.70,445.80) rotate(-90) matrix(1,0.0005,0,1,0,0)" x="0.23" y="0" font-size="6.90">4</text>
<text transform="translate(20.70,419.20) rotate(-90) matrix(1,0.0005,0,1,0,0)" x="0.23" y="0" font-size="6.90">6</text>
<text transform="matrix(1,0.0005,0,1,0,-0.0344)" x="68.77" y="528.75" font-size="7.00">v</text>
<text transform="matrix(1,0.0005,0,1,0,-0.0360)" x="72.33 75.53 78.81" y="532.05" font-size="4.90">opt</text>
<text transform="matrix(1,0.0005,0,1,0,-0.0416)" x="83.54 86.29 90.17 97.06 99.83" y="528.75" font-size="7.00">(km s</text>
<line x1="103.30" y1="524.45" x2="107.50" y2="524.45" stroke="#333" stroke-width="0.7"/>
<text transform="matrix(1,0.0005,0,1,0,-0.0540)" x="108.01" y="525.55" font-size="5.00">1</text>
<text transform="matrix(1,0.0005,0,1,0,-0.0551)" x="110.44" y="528.75" font-size="7.00">)</text>
<text transform="translate(8.00,496.25) rotate(-90) matrix(1,0.0005,0,1,0,0)" x="-0.25 3.85 5.52 9.50 13.74 16.70 19.58 25.58 28.94 33.08 35.78 39.67 43.56 47.74" y="0" font-size="7.00">Flux (mJy beam</text>
<line x1="2.90" y1="441.95" x2="2.90" y2="438.15" stroke="#333" stroke-width="0.7"/>
<text transform="translate(4.20,437.85) rotate(-90) matrix(1,0.0005,0,1,0,0)" x="0.11" y="0" font-size="5.00">1</text>
<text transform="translate(8.00,435.05) rotate(-90) matrix(1,0.0005,0,1,0,0)" x="0.31" y="0" font-size="7.00">)</text>
<text transform="matrix(1,0.0005,0,1,0,-0.0146)" x="29.19 30.87 35.40 39.62 44.97 48.01 52.45 56.90 61.34 65.79 70.80 76.01 80.46 84.90 89.35 94.32 96.96 100.89 107.65 110.79 113.66 118.14 123.35 127.66 130.02 134.47 138.91 143.36 147.91" y="425.93" font-size="6.96">IRAS 09039+0503 SW (z=0.1257)</text>
<text transform="matrix(1,0.0005,0,1,0,-0.0545)" x="109.00 114.01 119.02 125.07 128.25 133.50 138.97" y="435.38" font-size="7.30">HCN 3−2</text>
<clipPath id="c31"><rect x="200.4" y="417.05000000000007" width="128.1" height="95.1"/></clipPath>
<line x1="200.4" y1="496.85" x2="328.5" y2="496.85" stroke="#999" stroke-width="0.6" stroke-dasharray="0.6 0.7"/>
<path d="M200.00,502.76 H201.90 V492.32 H203.41 V496.50 H205.69 V503.33 H207.20 V494.22 H209.10 V489.48 H210.99 V494.22 H212.89 V493.27 H215.16 V498.96 H218.00 V491.37 H220.47 V492.32 H222.36 V494.22 H224.26 V502.19 H226.53 V495.17 H228.43 V502.76 H230.32 V509.40 H232.59 V499.91 H234.49 V492.70 H236.95 V494.22 H238.85 V503.33 H240.17 V494.22 H242.07 V502.76 H244.53 V500.86 H248.32 V488.91 H249.65 V497.07 H251.55 V499.91 H253.44 V503.70 H255.34 V494.22 H257.80 V487.01 H260.64 V485.11 H262.54 V489.48 H264.43 V495.17 H266.33 V479.42 H268.60 V482.84 H270.50 V479.99 H272.96 V481.89 H274.29 V475.63 H276.18 V479.04 H278.08 V477.15 H280.54 V479.04 H283.38 V478.66 H285.28 V486.25 H287.55 V475.63 H290.01 V478.66 H291.91 V493.84 H293.80 V487.01 H296.27 V488.15 H298.54 V501.81 H300.44 V499.91 H302.33 V488.53 H304.23 V490.05 H306.50 V488.15 H308.97 V485.68 H311.43 V483.79 H313.32 V497.07 H315.60 V503.33 H317.87 V494.60 H319.77 V492.32 H321.66 V495.17 H323.56 V487.58 H325.45 V496.12 H330.76" fill="none" stroke="#222" stroke-width="0.85" clip-path="url(#c31)"/>
<path d="M200.40,496.85 L201.04,496.85 L201.68,496.85 L202.32,496.85 L202.96,496.85 L203.60,496.85 L204.24,496.85 L204.88,496.85 L205.52,496.85 L206.16,496.85 L206.81,496.85 L207.45,496.85 L208.09,496.85 L208.73,496.85 L209.37,496.85 L210.01,496.85 L210.65,496.85 L211.29,496.85 L211.93,496.85 L212.57,496.85 L213.21,496.85 L213.85,496.85 L214.49,496.85 L215.13,496.85 L215.77,496.85 L216.41,496.85 L217.05,496.85 L217.69,496.85 L218.33,496.85 L218.97,496.85 L219.62,496.85 L220.26,496.85 L220.90,496.85 L221.54,496.85 L222.18,496.84 L222.82,496.84 L223.46,496.84 L224.10,496.84 L224.74,496.83 L225.38,496.83 L226.02,496.83 L226.66,496.82 L227.30,496.82 L227.94,496.81 L228.58,496.80 L229.22,496.79 L229.86,496.79 L230.50,496.77 L231.14,496.76 L231.78,496.75 L232.43,496.73 L233.07,496.71 L233.71,496.69 L234.35,496.67 L234.99,496.64 L235.63,496.61 L236.27,496.58 L236.91,496.54 L237.55,496.50 L238.19,496.45 L238.83,496.40 L239.47,496.34 L240.11,496.28 L240.75,496.21 L241.39,496.13 L242.03,496.04 L242.67,495.95 L243.31,495.84 L243.95,495.73 L244.59,495.60 L245.24,495.47 L245.88,495.32 L246.52,495.16 L247.16,494.99 L247.80,494.81 L248.44,494.61 L249.08,494.39 L249.72,494.16 L250.36,493.92 L251.00,493.66 L251.64,493.38 L252.28,493.09 L252.92,492.78 L253.56,492.45 L254.20,492.11 L254.84,491.75 L255.48,491.37 L256.12,490.97 L256.76,490.56 L257.40,490.14 L258.05,489.70 L258.69,489.24 L259.33,488.77 L259.97,488.29 L260.61,487.80 L261.25,487.30 L261.89,486.79 L262.53,486.28 L263.17,485.76 L263.81,485.23 L264.45,484.71 L265.09,484.19 L265.73,483.67 L266.37,483.15 L267.01,482.65 L267.65,482.15 L268.29,481.67 L268.93,481.20 L269.57,480.75 L270.21,480.31 L270.86,479.90 L271.50,479.51 L272.14,479.15 L272.78,478.82 L273.42,478.51 L274.06,478.24 L274.70,478.00 L275.34,477.79 L275.98,477.62 L276.62,477.48 L277.26,477.39 L277.90,477.32 L278.54,477.30 L279.18,477.32 L279.82,477.37 L280.46,477.46 L281.10,477.59 L281.74,477.76 L282.38,477.96 L283.02,478.19 L283.67,478.46 L284.31,478.76 L284.95,479.09 L285.59,479.44 L286.23,479.83 L286.87,480.24 L287.51,480.66 L288.15,481.11 L288.79,481.58 L289.43,482.06 L290.07,482.55 L290.71,483.06 L291.35,483.57 L291.99,484.09 L292.63,484.61 L293.27,485.14 L293.91,485.66 L294.55,486.18 L295.19,486.70 L295.83,487.21 L296.48,487.71 L297.12,488.20 L297.76,488.68 L298.40,489.16 L299.04,489.61 L299.68,490.06 L300.32,490.49 L300.96,490.90 L301.60,491.30 L302.24,491.68 L302.88,492.04 L303.52,492.39 L304.16,492.72 L304.80,493.03 L305.44,493.33 L306.08,493.61 L306.72,493.87 L307.36,494.12 L308.00,494.35 L308.64,494.57 L309.29,494.77 L309.93,494.96 L310.57,495.13 L311.21,495.29 L311.85,495.44 L312.49,495.58 L313.13,495.71 L313.77,495.82 L314.41,495.93 L315.05,496.02 L315.69,496.11 L316.33,496.19 L316.97,496.26 L317.61,496.33 L318.25,496.39 L318.89,496.44 L319.53,496.49 L320.17,496.53 L320.81,496.57 L321.45,496.61 L322.10,496.64 L322.74,496.66 L323.38,496.69 L324.02,496.71 L324.66,496.73 L325.30,496.74 L325.94,496.76 L326.58,496.77 L327.22,496.78 L327.86,496.79 L328.50,496.80" fill="none" stroke="#000" stroke-width="0.9" clip-path="url(#c31)"/>
<rect x="200.4" y="417.05000000000007" width="128.1" height="95.1" fill="none" stroke="#333" stroke-width="0.9"/>
<path d="M207.13,512.1500000000001 v-1.4 M207.13,417.05000000000007 v1.4 M214.29,512.1500000000001 v-1.4 M214.29,417.05000000000007 v1.4 M221.45,512.1500000000001 v-1.4 M221.45,417.05000000000007 v1.4 M228.61,512.1500000000001 v-2.8 M228.61,417.05000000000007 v2.8 M235.77,512.1500000000001 v-1.4 M235.77,417.05000000000007 v1.4 M242.93,512.1500000000001 v-1.4 M242.93,417.05000000000007 v1.4 M250.09,512.1500000000001 v-1.4 M250.09,417.05000000000007 v1.4 M257.25,512.1500000000001 v-1.4 M257.25,417.05000000000007 v1.4 M264.41,512.1500000000001 v-2.8 M264.41,417.05000000000007 v2.8 M271.57,512.1500000000001 v-1.4 M271.57,417.05000000000007 v1.4 M278.73,512.1500000000001 v-1.4 M278.73,417.05000000000007 v1.4 M285.89,512.1500000000001 v-1.4 M285.89,417.05000000000007 v1.4 M293.05,512.1500000000001 v-1.4 M293.05,417.05000000000007 v1.4 M300.21,512.1500000000001 v-2.8 M300.21,417.05000000000007 v2.8 M307.37,512.1500000000001 v-1.4 M307.37,417.05000000000007 v1.4 M314.53,512.1500000000001 v-1.4 M314.53,417.05000000000007 v1.4 M321.69,512.1500000000001 v-1.4 M321.69,417.05000000000007 v1.4 M200.4,510.15 h1.4 M328.5,510.15 h-1.4 M200.4,496.85 h2.8 M328.5,496.85 h-2.8 M200.4,483.55 h1.4 M328.5,483.55 h-1.4 M200.4,470.25 h2.8 M328.5,470.25 h-2.8 M200.4,456.95 h1.4 M328.5,456.95 h-1.4 M200.4,443.65 h2.8 M328.5,443.65 h-2.8 M200.4,430.35 h1.4 M328.5,430.35 h-1.4 M200.4,417.05 h2.8 M328.5,417.05 h-2.8" stroke="#333" stroke-width="0.95" fill="none"/>
<text transform="matrix(1,0.0005,0,1,0,-0.1078)" x="215.90 220.08 222.35 226.34 230.52 234.82" y="520.35" font-size="6.90">3.7×10</text>
<text transform="matrix(1,0.0005,0,1,0,-0.1194)" x="238.92" y="517.15" font-size="4.69">4</text>
<text transform="matrix(1,0.0005,0,1,0,-0.1247)" x="249.55 253.73 256.00 260.30 264.29 268.47 272.77" y="520.35" font-size="6.90">3.75×10</text>
<text transform="matrix(1,0.0005,0,1,0,-0.1384)" x="276.87" y="517.15" font-size="4.69">4</text>
<text transform="matrix(1,0.0005,0,1,0,-0.1436)" x="287.50 291.68 293.95 297.94 302.12 306.42" y="520.35" font-size="6.90">3.8×10</text>
<text transform="matrix(1,0.0005,0,1,0,-0.1552)" x="310.52" y="517.15" font-size="4.69">4</text>
<text transform="translate(195.60,499.00) rotate(-90) matrix(1,0.0005,0,1,0,0)" x="0.23" y="0" font-size="6.90">0</text>
<text transform="translate(195.60,472.40) rotate(-90) matrix(1,0.0005,0,1,0,0)" x="0.23" y="0" font-size="6.90">2</text>
<text transform="translate(195.60,445.80) rotate(-90) matrix(1,0.0005,0,1,0,0)" x="0.23" y="0" font-size="6.90">4</text>
<text transform="translate(195.60,419.20) rotate(-90) matrix(1,0.0005,0,1,0,0)" x="0.23" y="0" font-size="6.90">6</text>
<text transform="matrix(1,0.0005,0,1,0,-0.1218)" x="243.67" y="528.75" font-size="7.00">v</text>
<text transform="matrix(1,0.0005,0,1,0,-0.1235)" x="247.23 250.43 253.71" y="532.05" font-size="4.90">opt</text>
<text transform="matrix(1,0.0005,0,1,0,-0.1291)" x="258.44 261.19 265.07 271.96 274.73" y="528.75" font-size="7.00">(km s</text>
<line x1="278.20" y1="524.45" x2="282.40" y2="524.45" stroke="#333" stroke-width="0.7"/>
<text transform="matrix(1,0.0005,0,1,0,-0.1414)" x="282.91" y="525.55" font-size="5.00">1</text>
<text transform="matrix(1,0.0005,0,1,0,-0.1425)" x="285.34" y="528.75" font-size="7.00">)</text>
<text transform="translate(182.90,496.25) rotate(-90) matrix(1,0.0005,0,1,0,0)" x="-0.25 3.85 5.52 9.50 13.74 16.70 19.58 25.58 28.94 33.08 35.78 39.67 43.56 47.74" y="0" font-size="7.00">Flux (mJy beam</text>
<line x1="177.80" y1="441.95" x2="177.80" y2="438.15" stroke="#333" stroke-width="0.7"/>
<text transform="translate(179.10,437.85) rotate(-90) matrix(1,0.0005,0,1,0,0)" x="0.11" y="0" font-size="5.00">1</text>
<text transform="translate(182.90,435.05) rotate(-90) matrix(1,0.0005,0,1,0,0)" x="0.31" y="0" font-size="7.00">)</text>
<text transform="matrix(1,0.0005,0,1,0,-0.1021)" x="204.09 205.77 210.30 214.52 219.87 222.91 227.35 231.80 236.24 240.69 245.70 250.91 255.36 259.80 264.25 269.22 271.86 275.79 282.55 285.69 288.56 293.04 298.25 302.56 304.92 309.37 313.81 318.26 322.81" y="425.93" font-size="6.96">IRAS 09039+0503 SW (z=0.1257)</text>
<text transform="matrix(1,0.0005,0,1,0,-0.1408)" x="281.62 286.63 291.44" y="435.38" font-size="7.30">HCO</text>
<text transform="matrix(1,0.0005,0,1,0,-0.1484)" x="297.08" y="432.68" font-size="5.60">+</text>
<text transform="matrix(1,0.0005,0,1,0,-0.1503)" x="301.45 304.63 309.88 315.34" y="435.38" font-size="7.30"> 3−2</text>
<clipPath id="c32"><rect x="374.6" y="417.05000000000007" width="128.1" height="95.1"/></clipPath>
<line x1="374.6" y1="494.56" x2="502.70000000000005" y2="494.56" stroke="#999" stroke-width="0.6" stroke-dasharray="0.6 0.7"/>
<path d="M374.00,503.70 H375.52 V485.68 H377.79 V496.50 H380.06 V498.01 H381.96 V500.86 H383.85 V502.76 H385.75 V500.86 H387.64 V495.17 H389.16 V506.55 H391.06 V495.17 H392.95 V491.94 H394.85 V495.74 H396.74 V496.50 H398.64 V495.17 H400.91 V497.07 H402.80 V498.01 H405.27 V498.96 H407.73 V496.12 H409.63 V505.22 H411.52 V479.99 H413.80 V483.79 H415.69 V491.37 H418.53 V492.32 H421.00 V489.48 H422.89 V499.53 H425.17 V485.68 H427.44 V488.53 H428.96 V481.89 H430.85 V471.46 H433.13 V465.76 H435.02 V460.07 H437.48 V443.95 H439.38 V446.79 H441.27 V448.69 H443.74 V457.23 H445.63 V456.28 H447.53 V461.97 H449.42 V467.28 H451.70 V460.07 H453.59 V467.28 H455.11 V457.23 H457.00 V471.08 H458.90 V475.25 H460.79 V487.58 H463.07 V474.30 H464.96 V496.12 H467.24 V490.43 H469.13 V485.68 H471.03 V483.79 H472.92 V486.63 H475.38 V490.43 H477.85 V494.22 H479.74 V498.01 H481.64 V505.60 H483.53 V498.01 H485.43 V487.58 H487.32 V489.48 H489.60 V492.70 H493.77 V498.01 H495.66 V498.96 H498.13 V497.07 H500.59 V491.37 H504.76" fill="none" stroke="#222" stroke-width="0.85" clip-path="url(#c32)"/>
<path d="M374.60,494.56 L375.24,494.56 L375.88,494.56 L376.52,494.56 L377.16,494.56 L377.80,494.56 L378.44,494.56 L379.08,494.56 L379.72,494.56 L380.36,494.56 L381.00,494.56 L381.65,494.56 L382.29,494.56 L382.93,494.56 L383.57,494.56 L384.21,494.56 L384.85,494.56 L385.49,494.56 L386.13,494.56 L386.77,494.56 L387.41,494.56 L388.05,494.56 L388.69,494.56 L389.33,494.56 L389.97,494.56 L390.61,494.56 L391.25,494.56 L391.89,494.56 L392.53,494.56 L393.17,494.56 L393.81,494.56 L394.46,494.56 L395.10,494.56 L395.74,494.55 L396.38,494.55 L397.02,494.55 L397.66,494.55 L398.30,494.55 L398.94,494.55 L399.58,494.54 L400.22,494.54 L400.86,494.53 L401.50,494.53 L402.14,494.52 L402.78,494.51 L403.42,494.50 L404.06,494.48 L404.70,494.46 L405.34,494.44 L405.98,494.42 L406.62,494.39 L407.27,494.36 L407.91,494.32 L408.55,494.27 L409.19,494.21 L409.83,494.14 L410.47,494.07 L411.11,493.98 L411.75,493.87 L412.39,493.75 L413.03,493.61 L413.67,493.46 L414.31,493.28 L414.95,493.07 L415.59,492.84 L416.23,492.58 L416.87,492.28 L417.51,491.95 L418.15,491.58 L418.79,491.17 L419.44,490.72 L420.08,490.21 L420.72,489.66 L421.36,489.06 L422.00,488.40 L422.64,487.69 L423.28,486.91 L423.92,486.08 L424.56,485.19 L425.20,484.24 L425.84,483.22 L426.48,482.15 L427.12,481.02 L427.76,479.83 L428.40,478.59 L429.04,477.30 L429.68,475.97 L430.32,474.59 L430.96,473.19 L431.60,471.76 L432.25,470.31 L432.89,468.85 L433.53,467.40 L434.17,465.95 L434.81,464.52 L435.45,463.12 L436.09,461.76 L436.73,460.45 L437.37,459.21 L438.01,458.03 L438.65,456.94 L439.29,455.94 L439.93,455.04 L440.57,454.25 L441.21,453.58 L441.85,453.03 L442.49,452.60 L443.13,452.31 L443.77,452.15 L444.41,452.13 L445.06,452.24 L445.70,452.49 L446.34,452.87 L446.98,453.38 L447.62,454.02 L448.26,454.77 L448.90,455.64 L449.54,456.60 L450.18,457.67 L450.82,458.81 L451.46,460.04 L452.10,461.32 L452.74,462.67 L453.38,464.05 L454.02,465.47 L454.66,466.92 L455.30,468.37 L455.94,469.83 L456.58,471.28 L457.22,472.72 L457.87,474.13 L458.51,475.52 L459.15,476.86 L459.79,478.17 L460.43,479.42 L461.07,480.63 L461.71,481.78 L462.35,482.87 L462.99,483.91 L463.63,484.88 L464.27,485.79 L464.91,486.65 L465.55,487.44 L466.19,488.17 L466.83,488.85 L467.47,489.47 L468.11,490.04 L468.75,490.56 L469.39,491.02 L470.03,491.45 L470.68,491.83 L471.32,492.17 L471.96,492.48 L472.60,492.75 L473.24,493.00 L473.88,493.21 L474.52,493.40 L475.16,493.56 L475.80,493.71 L476.44,493.83 L477.08,493.94 L477.72,494.04 L478.36,494.12 L479.00,494.19 L479.64,494.25 L480.28,494.30 L480.92,494.34 L481.56,494.38 L482.20,494.41 L482.84,494.44 L483.49,494.46 L484.13,494.48 L484.77,494.49 L485.41,494.50 L486.05,494.51 L486.69,494.52 L487.33,494.53 L487.97,494.54 L488.61,494.54 L489.25,494.54 L489.89,494.55 L490.53,494.55 L491.17,494.55 L491.81,494.55 L492.45,494.55 L493.09,494.56 L493.73,494.56 L494.37,494.56 L495.01,494.56 L495.65,494.56 L496.30,494.56 L496.94,494.56 L497.58,494.56 L498.22,494.56 L498.86,494.56 L499.50,494.56 L500.14,494.56 L500.78,494.56 L501.42,494.56 L502.06,494.56 L502.70,494.56" fill="none" stroke="#000" stroke-width="0.9" clip-path="url(#c32)"/>
<rect x="374.6" y="417.05000000000007" width="128.1" height="95.1" fill="none" stroke="#333" stroke-width="0.9"/>
<path d="M381.33,512.1500000000001 v-1.4 M381.33,417.05000000000007 v1.4 M388.49,512.1500000000001 v-1.4 M388.49,417.05000000000007 v1.4 M395.65,512.1500000000001 v-1.4 M395.65,417.05000000000007 v1.4 M402.81,512.1500000000001 v-2.8 M402.81,417.05000000000007 v2.8 M409.97,512.1500000000001 v-1.4 M409.97,417.05000000000007 v1.4 M417.13,512.1500000000001 v-1.4 M417.13,417.05000000000007 v1.4 M424.29,512.1500000000001 v-1.4 M424.29,417.05000000000007 v1.4 M431.45,512.1500000000001 v-1.4 M431.45,417.05000000000007 v1.4 M438.61,512.1500000000001 v-2.8 M438.61,417.05000000000007 v2.8 M445.77,512.1500000000001 v-1.4 M445.77,417.05000000000007 v1.4 M452.93,512.1500000000001 v-1.4 M452.93,417.05000000000007 v1.4 M460.09,512.1500000000001 v-1.4 M460.09,417.05000000000007 v1.4 M467.25,512.1500000000001 v-1.4 M467.25,417.05000000000007 v1.4 M474.41,512.1500000000001 v-2.8 M474.41,417.05000000000007 v2.8 M481.57,512.1500000000001 v-1.4 M481.57,417.05000000000007 v1.4 M488.73,512.1500000000001 v-1.4 M488.73,417.05000000000007 v1.4 M495.89,512.1500000000001 v-1.4 M495.89,417.05000000000007 v1.4 M374.6,512.15 h1.4 M502.70000000000005,512.15 h-1.4 M374.6,507.75 h1.4 M502.70000000000005,507.75 h-1.4 M374.6,503.35 h1.4 M502.70000000000005,503.35 h-1.4 M374.6,498.96 h1.4 M502.70000000000005,498.96 h-1.4 M374.6,494.56 h2.8 M502.70000000000005,494.56 h-2.8 M374.6,490.16 h1.4 M502.70000000000005,490.16 h-1.4 M374.6,485.76 h1.4 M502.70000000000005,485.76 h-1.4 M374.6,481.37 h1.4 M502.70000000000005,481.37 h-1.4 M374.6,476.97 h1.4 M502.70000000000005,476.97 h-1.4 M374.6,472.57 h2.8 M502.70000000000005,472.57 h-2.8 M374.6,468.17 h1.4 M502.70000000000005,468.17 h-1.4 M374.6,463.78 h1.4 M502.70000000000005,463.78 h-1.4 M374.6,459.38 h1.4 M502.70000000000005,459.38 h-1.4 M374.6,454.98 h1.4 M502.70000000000005,454.98 h-1.4 M374.6,450.58 h2.8 M502.70000000000005,450.58 h-2.8 M374.6,446.18 h1.4 M502.70000000000005,446.18 h-1.4 M374.6,441.79 h1.4 M502.70000000000005,441.79 h-1.4 M374.6,437.39 h1.4 M502.70000000000005,437.39 h-1.4 M374.6,432.99 h1.4 M502.70000000000005,432.99 h-1.4 M374.6,428.59 h2.8 M502.70000000000005,428.59 h-2.8 M374.6,424.20 h1.4 M502.70000000000005,424.20 h-1.4 M374.6,419.80 h1.4 M502.70000000000005,419.80 h-1.4" stroke="#333" stroke-width="0.95" fill="none"/>
<text transform="matrix(1,0.0005,0,1,0,-0.1949)" x="390.10 394.28 396.55 400.54 404.72 409.02" y="520.35" font-size="6.90">3.7×10</text>
<text transform="matrix(1,0.0005,0,1,0,-0.2065)" x="413.12" y="517.15" font-size="4.69">4</text>
<text transform="matrix(1,0.0005,0,1,0,-0.2118)" x="423.75 427.93 430.20 434.50 438.49 442.67 446.97" y="520.35" font-size="6.90">3.75×10</text>
<text transform="matrix(1,0.0005,0,1,0,-0.2255)" x="451.07" y="517.15" font-size="4.69">4</text>
<text transform="matrix(1,0.0005,0,1,0,-0.2307)" x="461.70 465.88 468.15 472.14 476.32 480.62" y="520.35" font-size="6.90">3.8×10</text>
<text transform="matrix(1,0.0005,0,1,0,-0.2423)" x="484.72" y="517.15" font-size="4.69">4</text>
<text transform="translate(369.80,496.71) rotate(-90) matrix(1,0.0005,0,1,0,0)" x="0.23" y="0" font-size="6.90">0</text>
<text transform="translate(369.80,476.87) rotate(-90) matrix(1,0.0005,0,1,0,0)" x="0.23 4.53" y="0" font-size="6.90">10</text>
<text transform="translate(369.80,454.88) rotate(-90) matrix(1,0.0005,0,1,0,0)" x="0.23 4.53" y="0" font-size="6.90">20</text>
<text transform="translate(369.80,432.89) rotate(-90) matrix(1,0.0005,0,1,0,0)" x="0.23 4.53" y="0" font-size="6.90">30</text>
<text transform="matrix(1,0.0005,0,1,0,-0.2090)" x="417.87" y="528.75" font-size="7.00">v</text>
<text transform="matrix(1,0.0005,0,1,0,-0.2106)" x="421.43 424.63 427.91" y="532.05" font-size="4.90">opt</text>
<text transform="matrix(1,0.0005,0,1,0,-0.2162)" x="432.64 435.39 439.27 446.16 448.93" y="528.75" font-size="7.00">(km s</text>
<line x1="452.40" y1="524.45" x2="456.60" y2="524.45" stroke="#333" stroke-width="0.7"/>
<text transform="matrix(1,0.0005,0,1,0,-0.2285)" x="457.11" y="525.55" font-size="5.00">1</text>
<text transform="matrix(1,0.0005,0,1,0,-0.2296)" x="459.54" y="528.75" font-size="7.00">)</text>
<text transform="translate(357.10,482.26) rotate(-90) matrix(1,0.0005,0,1,0,0)" x="-0.25 3.85 5.52 9.50 13.74 16.70 19.58 25.58 28.94 32.68" y="0" font-size="7.00">Flux (mJy)</text>
<text transform="matrix(1,0.0005,0,1,0,-0.1912)" x="382.35 384.11 388.85 393.28 398.89 402.07 406.73 411.39 416.05 420.71 425.97 431.43 436.09 440.75 445.41 450.62 453.91 456.91 461.62 467.08 471.59 474.06 478.72 483.38 488.04 492.82" y="425.93" font-size="7.30">IRAS 09039+0503 (z=0.1257)</text>
<text transform="matrix(1,0.0005,0,1,0,-0.1911)" x="382.54 385.69 390.20 392.68 397.60 401.61 404.68 409.10 413.41 417.84 420.95 423.55 428.09 430.89 435.43" y="435.38" font-size="7.30">(1.5" aperture)</text>
<text transform="matrix(1,0.0005,0,1,0,-0.2291)" x="458.10 463.11 468.12 474.17 477.35 482.60 488.07" y="435.38" font-size="7.30">HCN 3−2</text>
<clipPath id="c33"><rect x="549.6" y="417.05000000000007" width="128.1" height="95.1"/></clipPath>
<line x1="549.6" y1="494.56" x2="677.7" y2="494.56" stroke="#999" stroke-width="0.6" stroke-dasharray="0.6 0.7"/>
<path d="M549.00,499.91 H550.52 V494.22 H552.41 V491.37 H554.31 V494.22 H556.20 V492.70 H558.85 V495.74 H560.75 V498.96 H562.64 V497.07 H564.54 V492.70 H566.43 V508.45 H567.95 V502.76 H569.85 V503.70 H571.74 V489.48 H573.64 V508.45 H575.53 V509.40 H577.43 V496.12 H578.94 V489.48 H580.84 V486.63 H582.73 V497.07 H584.63 V491.37 H586.52 V486.25 H588.42 V487.58 H590.31 V489.48 H592.21 V496.12 H594.48 V493.27 H596.76 V485.68 H598.65 V502.19 H600.17 V480.94 H602.06 V476.20 H603.96 V474.30 H605.85 V458.18 H607.75 V456.28 H609.64 V461.97 H611.54 V454.38 H613.43 V453.43 H615.33 V443.95 H616.84 V452.49 H618.74 V454.38 H621.01 V463.49 H623.29 V464.82 H625.75 V471.46 H627.64 V467.66 H630.49 V461.97 H632.76 V479.99 H635.22 V477.15 H637.12 V483.79 H639.58 V487.01 H641.48 V493.27 H643.37 V487.58 H645.65 V493.27 H647.92 V495.17 H650.38 V499.91 H652.85 V497.07 H654.74 V492.70 H657.02 V499.53 H658.91 V493.84 H660.81 V488.15 H663.65 V493.27 H665.55 V489.48 H668.01 V493.27 H670.28 V485.11 H673.13 V495.74 H675.59 V497.07 H679.76" fill="none" stroke="#222" stroke-width="0.85" clip-path="url(#c33)"/>
<path d="M549.60,494.56 L550.24,494.56 L550.88,494.56 L551.52,494.56 L552.16,494.56 L552.80,494.56 L553.44,494.56 L554.08,494.56 L554.72,494.56 L555.36,494.56 L556.00,494.56 L556.65,494.56 L557.29,494.56 L557.93,494.56 L558.57,494.56 L559.21,494.56 L559.85,494.56 L560.49,494.56 L561.13,494.56 L561.77,494.56 L562.41,494.56 L563.05,494.56 L563.69,494.56 L564.33,494.56 L564.97,494.56 L565.61,494.56 L566.25,494.56 L566.89,494.56 L567.53,494.56 L568.17,494.56 L568.82,494.56 L569.46,494.56 L570.10,494.55 L570.74,494.55 L571.38,494.55 L572.02,494.55 L572.66,494.55 L573.30,494.54 L573.94,494.54 L574.58,494.53 L575.22,494.53 L575.86,494.52 L576.50,494.51 L577.14,494.50 L577.78,494.49 L578.42,494.47 L579.06,494.45 L579.70,494.43 L580.34,494.41 L580.98,494.37 L581.62,494.34 L582.27,494.29 L582.91,494.24 L583.55,494.18 L584.19,494.11 L584.83,494.02 L585.47,493.93 L586.11,493.81 L586.75,493.69 L587.39,493.54 L588.03,493.37 L588.67,493.18 L589.31,492.96 L589.95,492.71 L590.59,492.44 L591.23,492.12 L591.87,491.78 L592.51,491.39 L593.15,490.96 L593.79,490.48 L594.44,489.96 L595.08,489.38 L595.72,488.76 L596.36,488.08 L597.00,487.34 L597.64,486.54 L598.28,485.68 L598.92,484.76 L599.56,483.79 L600.20,482.75 L600.84,481.66 L601.48,480.50 L602.12,479.30 L602.76,478.04 L603.40,476.74 L604.04,475.40 L604.68,474.02 L605.32,472.62 L605.96,471.19 L606.60,469.75 L607.25,468.31 L607.89,466.87 L608.53,465.45 L609.17,464.05 L609.81,462.69 L610.45,461.37 L611.09,460.11 L611.73,458.91 L612.37,457.80 L613.01,456.77 L613.65,455.83 L614.29,455.00 L614.93,454.28 L615.57,453.68 L616.21,453.21 L616.85,452.86 L617.49,452.64 L618.13,452.56 L618.77,452.62 L619.41,452.80 L620.06,453.12 L620.70,453.57 L621.34,454.15 L621.98,454.84 L622.62,455.65 L623.26,456.56 L623.90,457.58 L624.54,458.67 L625.18,459.85 L625.82,461.10 L626.46,462.41 L627.10,463.76 L627.74,465.15 L628.38,466.57 L629.02,468.01 L629.66,469.45 L630.30,470.89 L630.94,472.32 L631.58,473.73 L632.22,475.12 L632.87,476.47 L633.51,477.78 L634.15,479.04 L634.79,480.26 L635.43,481.42 L636.07,482.53 L636.71,483.58 L637.35,484.57 L637.99,485.50 L638.63,486.37 L639.27,487.18 L639.91,487.93 L640.55,488.62 L641.19,489.26 L641.83,489.84 L642.47,490.38 L643.11,490.86 L643.75,491.30 L644.39,491.70 L645.03,492.06 L645.68,492.37 L646.32,492.66 L646.96,492.91 L647.60,493.13 L648.24,493.33 L648.88,493.51 L649.52,493.66 L650.16,493.79 L650.80,493.90 L651.44,494.00 L652.08,494.09 L652.72,494.16 L653.36,494.23 L654.00,494.28 L654.64,494.33 L655.28,494.37 L655.92,494.40 L656.56,494.43 L657.20,494.45 L657.84,494.47 L658.49,494.49 L659.13,494.50 L659.77,494.51 L660.41,494.52 L661.05,494.53 L661.69,494.53 L662.33,494.54 L662.97,494.54 L663.61,494.55 L664.25,494.55 L664.89,494.55 L665.53,494.55 L666.17,494.55 L666.81,494.56 L667.45,494.56 L668.09,494.56 L668.73,494.56 L669.37,494.56 L670.01,494.56 L670.65,494.56 L671.30,494.56 L671.94,494.56 L672.58,494.56 L673.22,494.56 L673.86,494.56 L674.50,494.56 L675.14,494.56 L675.78,494.56 L676.42,494.56 L677.06,494.56 L677.70,494.56" fill="none" stroke="#000" stroke-width="0.9" clip-path="url(#c33)"/>
<rect x="549.6" y="417.05000000000007" width="128.1" height="95.1" fill="none" stroke="#333" stroke-width="0.9"/>
<path d="M556.33,512.1500000000001 v-1.4 M556.33,417.05000000000007 v1.4 M563.49,512.1500000000001 v-1.4 M563.49,417.05000000000007 v1.4 M570.65,512.1500000000001 v-1.4 M570.65,417.05000000000007 v1.4 M577.81,512.1500000000001 v-2.8 M577.81,417.05000000000007 v2.8 M584.97,512.1500000000001 v-1.4 M584.97,417.05000000000007 v1.4 M592.13,512.1500000000001 v-1.4 M592.13,417.05000000000007 v1.4 M599.29,512.1500000000001 v-1.4 M599.29,417.05000000000007 v1.4 M606.45,512.1500000000001 v-1.4 M606.45,417.05000000000007 v1.4 M613.61,512.1500000000001 v-2.8 M613.61,417.05000000000007 v2.8 M620.77,512.1500000000001 v-1.4 M620.77,417.05000000000007 v1.4 M627.93,512.1500000000001 v-1.4 M627.93,417.05000000000007 v1.4 M635.09,512.1500000000001 v-1.4 M635.09,417.05000000000007 v1.4 M642.25,512.1500000000001 v-1.4 M642.25,417.05000000000007 v1.4 M649.41,512.1500000000001 v-2.8 M649.41,417.05000000000007 v2.8 M656.57,512.1500000000001 v-1.4 M656.57,417.05000000000007 v1.4 M663.73,512.1500000000001 v-1.4 M663.73,417.05000000000007 v1.4 M670.89,512.1500000000001 v-1.4 M670.89,417.05000000000007 v1.4 M549.6,512.15 h1.4 M677.7,512.15 h-1.4 M549.6,507.75 h1.4 M677.7,507.75 h-1.4 M549.6,503.35 h1.4 M677.7,503.35 h-1.4 M549.6,498.96 h1.4 M677.7,498.96 h-1.4 M549.6,494.56 h2.8 M677.7,494.56 h-2.8 M549.6,490.16 h1.4 M677.7,490.16 h-1.4 M549.6,485.76 h1.4 M677.7,485.76 h-1.4 M549.6,481.37 h1.4 M677.7,481.37 h-1.4 M549.6,476.97 h1.4 M677.7,476.97 h-1.4 M549.6,472.57 h2.8 M677.7,472.57 h-2.8 M549.6,468.17 h1.4 M677.7,468.17 h-1.4 M549.6,463.78 h1.4 M677.7,463.78 h-1.4 M549.6,459.38 h1.4 M677.7,459.38 h-1.4 M549.6,454.98 h1.4 M677.7,454.98 h-1.4 M549.6,450.58 h2.8 M677.7,450.58 h-2.8 M549.6,446.18 h1.4 M677.7,446.18 h-1.4 M549.6,441.79 h1.4 M677.7,441.79 h-1.4 M549.6,437.39 h1.4 M677.7,437.39 h-1.4 M549.6,432.99 h1.4 M677.7,432.99 h-1.4 M549.6,428.59 h2.8 M677.7,428.59 h-2.8 M549.6,424.20 h1.4 M677.7,424.20 h-1.4 M549.6,419.80 h1.4 M677.7,419.80 h-1.4" stroke="#333" stroke-width="0.95" fill="none"/>
<text transform="matrix(1,0.0005,0,1,0,-0.2824)" x="565.10 569.28 571.55 575.54 579.72 584.02" y="520.35" font-size="6.90">3.7×10</text>
<text transform="matrix(1,0.0005,0,1,0,-0.2940)" x="588.12" y="517.15" font-size="4.69">4</text>
<text transform="matrix(1,0.0005,0,1,0,-0.2993)" x="598.75 602.93 605.20 609.50 613.49 617.67 621.97" y="520.35" font-size="6.90">3.75×10</text>
<text transform="matrix(1,0.0005,0,1,0,-0.3130)" x="626.07" y="517.15" font-size="4.69">4</text>
<text transform="matrix(1,0.0005,0,1,0,-0.3182)" x="636.70 640.88 643.15 647.14 651.32 655.62" y="520.35" font-size="6.90">3.8×10</text>
<text transform="matrix(1,0.0005,0,1,0,-0.3298)" x="659.72" y="517.15" font-size="4.69">4</text>
<text transform="translate(544.80,496.71) rotate(-90) matrix(1,0.0005,0,1,0,0)" x="0.23" y="0" font-size="6.90">0</text>
<text transform="translate(544.80,476.87) rotate(-90) matrix(1,0.0005,0,1,0,0)" x="0.23 4.53" y="0" font-size="6.90">10</text>
<text transform="translate(544.80,454.88) rotate(-90) matrix(1,0.0005,0,1,0,0)" x="0.23 4.53" y="0" font-size="6.90">20</text>
<text transform="translate(544.80,432.89) rotate(-90) matrix(1,0.0005,0,1,0,0)" x="0.23 4.53" y="0" font-size="6.90">30</text>
<text transform="matrix(1,0.0005,0,1,0,-0.2964)" x="592.87" y="528.75" font-size="7.00">v</text>
<text transform="matrix(1,0.0005,0,1,0,-0.2981)" x="596.43 599.63 602.91" y="532.05" font-size="4.90">opt</text>
<text transform="matrix(1,0.0005,0,1,0,-0.3037)" x="607.64 610.39 614.27 621.16 623.93" y="528.75" font-size="7.00">(km s</text>
<line x1="627.40" y1="524.45" x2="631.60" y2="524.45" stroke="#333" stroke-width="0.7"/>
<text transform="matrix(1,0.0005,0,1,0,-0.3160)" x="632.11" y="525.55" font-size="5.00">1</text>
<text transform="matrix(1,0.0005,0,1,0,-0.3171)" x="634.54" y="528.75" font-size="7.00">)</text>
<text transform="translate(532.10,482.26) rotate(-90) matrix(1,0.0005,0,1,0,0)" x="-0.25 3.85 5.52 9.50 13.74 16.70 19.58 25.58 28.94 32.68" y="0" font-size="7.00">Flux (mJy)</text>
<text transform="matrix(1,0.0005,0,1,0,-0.2787)" x="557.35 559.11 563.85 568.28 573.89 577.07 581.73 586.39 591.05 595.71 600.97 606.43 611.09 615.75 620.41 625.62 628.91 631.91 636.62 642.08 646.59 649.06 653.72 658.38 663.04 667.82" y="425.93" font-size="7.30">IRAS 09039+0503 (z=0.1257)</text>
<text transform="matrix(1,0.0005,0,1,0,-0.2786)" x="557.54 560.69 565.20 567.68 572.60 576.61 579.68 584.10 588.41 592.84 595.95 598.55 603.09 605.89 610.43" y="435.38" font-size="7.30">(1.5" aperture)</text>
<text transform="matrix(1,0.0005,0,1,0,-0.3154)" x="630.82 635.83 640.64" y="435.38" font-size="7.30">HCO</text>
<text transform="matrix(1,0.0005,0,1,0,-0.3230)" x="646.28" y="432.68" font-size="5.60">+</text>
<text transform="matrix(1,0.0005,0,1,0,-0.3249)" x="650.65 653.83 659.08 664.54" y="435.38" font-size="7.30"> 3−2</text>
<clipPath id="c40"><rect x="25.5" y="554.7" width="128.1" height="95.1"/></clipPath>
<line x1="25.5" y1="633.95" x2="153.6" y2="633.95" stroke="#999" stroke-width="0.6" stroke-dasharray="0.6 0.7"/>
<path d="M25.00,627.48 H26.90 V643.22 H29.17 V628.43 H31.06 V631.27 H33.53 V634.12 H34.85 V642.65 H36.75 V631.27 H38.64 V631.84 H40.54 V637.53 H43.00 V636.01 H44.90 V629.37 H46.79 V634.12 H48.69 V635.63 H51.15 V639.43 H53.05 V628.43 H54.94 V636.39 H57.59 V634.50 H59.49 V629.37 H61.38 V636.96 H63.28 V633.17 H65.74 V634.50 H68.21 V630.70 H70.48 V633.17 H72.38 V629.94 H74.65 V634.12 H76.55 V624.25 H79.01 V625.58 H80.90 V632.60 H82.80 V607.56 H84.69 V606.61 H86.02 V611.35 H88.48 V598.07 H90.38 V594.66 H92.27 V595.80 H94.17 V607.56 H95.50 V606.61 H97.01 V617.99 H99.85 V625.58 H101.75 V614.20 H104.21 V626.53 H105.54 V620.84 H108.00 V627.48 H109.90 V624.63 H111.79 V627.48 H114.07 V623.11 H116.34 V630.32 H118.24 V629.37 H120.70 V622.73 H122.59 V636.01 H124.49 V635.07 H126.38 V629.37 H128.28 V626.53 H130.17 V630.70 H132.64 V627.48 H134.53 V625.01 H136.43 V641.33 H138.32 V639.81 H140.60 V635.07 H142.49 V633.74 H144.77 V632.22 H147.23 V637.91 H148.56 V622.36 H150.45 V637.91 H152.35 V624.25 H155.76" fill="none" stroke="#222" stroke-width="0.85" clip-path="url(#c40)"/>
<path d="M25.50,633.95 L26.14,633.95 L26.78,633.95 L27.42,633.95 L28.06,633.95 L28.70,633.95 L29.34,633.95 L29.98,633.95 L30.62,633.95 L31.26,633.95 L31.91,633.95 L32.55,633.95 L33.19,633.95 L33.83,633.95 L34.47,633.95 L35.11,633.95 L35.75,633.95 L36.39,633.95 L37.03,633.95 L37.67,633.95 L38.31,633.95 L38.95,633.95 L39.59,633.95 L40.23,633.95 L40.87,633.95 L41.51,633.95 L42.15,633.95 L42.79,633.95 L43.43,633.95 L44.07,633.95 L44.72,633.95 L45.36,633.95 L46.00,633.95 L46.64,633.95 L47.28,633.95 L47.92,633.95 L48.56,633.95 L49.20,633.95 L49.84,633.95 L50.48,633.95 L51.12,633.95 L51.76,633.95 L52.40,633.95 L53.04,633.95 L53.68,633.95 L54.32,633.95 L54.96,633.95 L55.60,633.95 L56.24,633.95 L56.88,633.95 L57.52,633.95 L58.17,633.95 L58.81,633.95 L59.45,633.95 L60.09,633.95 L60.73,633.94 L61.37,633.94 L62.01,633.94 L62.65,633.93 L63.29,633.92 L63.93,633.91 L64.57,633.90 L65.21,633.88 L65.85,633.85 L66.49,633.82 L67.13,633.77 L67.77,633.71 L68.41,633.64 L69.05,633.54 L69.69,633.42 L70.34,633.27 L70.98,633.08 L71.62,632.85 L72.26,632.56 L72.90,632.22 L73.54,631.81 L74.18,631.33 L74.82,630.76 L75.46,630.10 L76.10,629.34 L76.74,628.47 L77.38,627.49 L78.02,626.39 L78.66,625.17 L79.30,623.84 L79.94,622.40 L80.58,620.86 L81.22,619.23 L81.86,617.53 L82.50,615.78 L83.15,614.00 L83.79,612.21 L84.43,610.45 L85.07,608.75 L85.71,607.14 L86.35,605.65 L86.99,604.32 L87.63,603.16 L88.27,602.22 L88.91,601.50 L89.55,601.03 L90.19,600.81 L90.83,600.86 L91.47,601.16 L92.11,601.72 L92.75,602.52 L93.39,603.54 L94.03,604.76 L94.67,606.15 L95.31,607.69 L95.95,609.33 L96.60,611.06 L97.24,612.83 L97.88,614.61 L98.52,616.39 L99.16,618.13 L99.80,619.81 L100.44,621.41 L101.08,622.91 L101.72,624.32 L102.36,625.61 L103.00,626.78 L103.64,627.84 L104.28,628.78 L104.92,629.61 L105.56,630.34 L106.20,630.97 L106.84,631.51 L107.48,631.96 L108.12,632.35 L108.77,632.67 L109.41,632.93 L110.05,633.15 L110.69,633.32 L111.33,633.46 L111.97,633.58 L112.61,633.67 L113.25,633.73 L113.89,633.79 L114.53,633.83 L115.17,633.86 L115.81,633.88 L116.45,633.90 L117.09,633.92 L117.73,633.93 L118.37,633.93 L119.01,633.94 L119.65,633.94 L120.29,633.94 L120.93,633.95 L121.58,633.95 L122.22,633.95 L122.86,633.95 L123.50,633.95 L124.14,633.95 L124.78,633.95 L125.42,633.95 L126.06,633.95 L126.70,633.95 L127.34,633.95 L127.98,633.95 L128.62,633.95 L129.26,633.95 L129.90,633.95 L130.54,633.95 L131.18,633.95 L131.82,633.95 L132.46,633.95 L133.10,633.95 L133.74,633.95 L134.38,633.95 L135.03,633.95 L135.67,633.95 L136.31,633.95 L136.95,633.95 L137.59,633.95 L138.23,633.95 L138.87,633.95 L139.51,633.95 L140.15,633.95 L140.79,633.95 L141.43,633.95 L142.07,633.95 L142.71,633.95 L143.35,633.95 L143.99,633.95 L144.63,633.95 L145.27,633.95 L145.91,633.95 L146.55,633.95 L147.19,633.95 L147.84,633.95 L148.48,633.95 L149.12,633.95 L149.76,633.95 L150.40,633.95 L151.04,633.95 L151.68,633.95 L152.32,633.95 L152.96,633.95 L153.60,633.95" fill="none" stroke="#000" stroke-width="0.9" clip-path="url(#c40)"/>
<rect x="25.5" y="554.7" width="128.1" height="95.1" fill="none" stroke="#333" stroke-width="0.9"/>
<path d="M32.23,649.8000000000001 v-1.4 M32.23,554.7 v1.4 M39.39,649.8000000000001 v-1.4 M39.39,554.7 v1.4 M46.55,649.8000000000001 v-1.4 M46.55,554.7 v1.4 M53.71,649.8000000000001 v-2.8 M53.71,554.7 v2.8 M60.87,649.8000000000001 v-1.4 M60.87,554.7 v1.4 M68.03,649.8000000000001 v-1.4 M68.03,554.7 v1.4 M75.19,649.8000000000001 v-1.4 M75.19,554.7 v1.4 M82.35,649.8000000000001 v-1.4 M82.35,554.7 v1.4 M89.51,649.8000000000001 v-2.8 M89.51,554.7 v2.8 M96.67,649.8000000000001 v-1.4 M96.67,554.7 v1.4 M103.83,649.8000000000001 v-1.4 M103.83,554.7 v1.4 M110.99,649.8000000000001 v-1.4 M110.99,554.7 v1.4 M118.15,649.8000000000001 v-1.4 M118.15,554.7 v1.4 M125.31,649.8000000000001 v-2.8 M125.31,554.7 v2.8 M132.47,649.8000000000001 v-1.4 M132.47,554.7 v1.4 M139.63,649.8000000000001 v-1.4 M139.63,554.7 v1.4 M146.79,649.8000000000001 v-1.4 M146.79,554.7 v1.4 M25.5,647.16 h1.4 M153.6,647.16 h-1.4 M25.5,633.95 h2.8 M153.6,633.95 h-2.8 M25.5,620.74 h1.4 M153.6,620.74 h-1.4 M25.5,607.53 h2.8 M153.6,607.53 h-2.8 M25.5,594.33 h1.4 M153.6,594.33 h-1.4 M25.5,581.12 h2.8 M153.6,581.12 h-2.8 M25.5,567.91 h1.4 M153.6,567.91 h-1.4 M25.5,554.70 h2.8 M153.6,554.70 h-2.8" stroke="#333" stroke-width="0.95" fill="none"/>
<text transform="matrix(1,0.0005,0,1,0,-0.0204)" x="41.00 45.18 47.45 51.44 55.62 59.92" y="658.00" font-size="6.90">3.7×10</text>
<text transform="matrix(1,0.0005,0,1,0,-0.0320)" x="64.02" y="654.80" font-size="4.69">4</text>
<text transform="matrix(1,0.0005,0,1,0,-0.0372)" x="74.65 78.83 81.10 85.40 89.39 93.57 97.87" y="658.00" font-size="6.90">3.75×10</text>
<text transform="matrix(1,0.0005,0,1,0,-0.0510)" x="101.97" y="654.80" font-size="4.69">4</text>
<text transform="matrix(1,0.0005,0,1,0,-0.0562)" x="112.60 116.78 119.05 123.04 127.22 131.52" y="658.00" font-size="6.90">3.8×10</text>
<text transform="matrix(1,0.0005,0,1,0,-0.0678)" x="135.62" y="654.80" font-size="4.69">4</text>
<text transform="translate(20.70,636.10) rotate(-90) matrix(1,0.0005,0,1,0,0)" x="0.23" y="0" font-size="6.90">0</text>
<text transform="translate(20.70,609.68) rotate(-90) matrix(1,0.0005,0,1,0,0)" x="0.23" y="0" font-size="6.90">2</text>
<text transform="translate(20.70,583.27) rotate(-90) matrix(1,0.0005,0,1,0,0)" x="0.23" y="0" font-size="6.90">4</text>
<text transform="translate(20.70,556.85) rotate(-90) matrix(1,0.0005,0,1,0,0)" x="0.23" y="0" font-size="6.90">6</text>
<text transform="matrix(1,0.0005,0,1,0,-0.0344)" x="68.77" y="666.40" font-size="7.00">v</text>
<text transform="matrix(1,0.0005,0,1,0,-0.0360)" x="72.33 75.53 78.81" y="669.70" font-size="4.90">opt</text>
<text transform="matrix(1,0.0005,0,1,0,-0.0416)" x="83.54 86.29 90.17 97.06 99.83" y="666.40" font-size="7.00">(km s</text>
<line x1="103.30" y1="662.10" x2="107.50" y2="662.10" stroke="#333" stroke-width="0.7"/>
<text transform="matrix(1,0.0005,0,1,0,-0.0540)" x="108.01" y="663.20" font-size="5.00">1</text>
<text transform="matrix(1,0.0005,0,1,0,-0.0551)" x="110.44" y="666.40" font-size="7.00">)</text>
<text transform="translate(8.00,633.90) rotate(-90) matrix(1,0.0005,0,1,0,0)" x="-0.25 3.85 5.52 9.50 13.74 16.70 19.58 25.58 28.94 33.08 35.78 39.67 43.56 47.74" y="0" font-size="7.00">Flux (mJy beam</text>
<line x1="2.90" y1="579.60" x2="2.90" y2="575.80" stroke="#333" stroke-width="0.7"/>
<text transform="translate(4.20,575.50) rotate(-90) matrix(1,0.0005,0,1,0,0)" x="0.11" y="0" font-size="5.00">1</text>
<text transform="translate(8.00,572.70) rotate(-90) matrix(1,0.0005,0,1,0,0)" x="0.31" y="0" font-size="7.00">)</text>
<text transform="matrix(1,0.0005,0,1,0,-0.0146)" x="29.21 30.96 35.68 40.09 45.68 48.84 53.48 58.12 62.76 67.40 72.63 78.07 82.71 87.35 91.99 97.18 99.97 104.92 110.40 113.68 116.67 121.35 126.79 131.28 133.74 138.38 143.02 147.78" y="563.62" font-size="7.27">IRAS 09039+0503 NE (z=0.125)</text>
<text transform="matrix(1,0.0005,0,1,0,-0.0545)" x="109.00 114.01 119.02 125.07 128.25 133.50 138.97" y="573.00" font-size="7.30">HCN 3−2</text>
<clipPath id="c41"><rect x="200.4" y="554.7" width="128.1" height="95.1"/></clipPath>
<line x1="200.4" y1="633.95" x2="328.5" y2="633.95" stroke="#999" stroke-width="0.6" stroke-dasharray="0.6 0.7"/>
<path d="M200.00,626.53 H201.52 V637.91 H203.41 V636.01 H205.31 V635.07 H207.20 V631.84 H209.10 V633.74 H211.37 V634.50 H213.64 V636.39 H216.68 V637.53 H218.95 V636.96 H220.85 V631.27 H223.12 V633.17 H224.64 V636.01 H226.53 V634.50 H228.43 V636.39 H230.70 V636.96 H232.59 V636.01 H234.49 V626.15 H236.38 V637.53 H237.90 V635.07 H239.80 V634.12 H242.64 V634.50 H244.53 V629.94 H246.43 V625.01 H248.32 V629.37 H250.22 V640.19 H252.11 V629.37 H254.01 V627.48 H255.34 V622.73 H257.23 V618.94 H259.13 V612.30 H260.64 V616.09 H262.54 V599.59 H264.43 V610.40 H266.33 V605.66 H268.22 V608.51 H270.12 V613.25 H272.01 V609.46 H274.29 V614.20 H276.18 V618.94 H278.08 V621.79 H279.97 V620.84 H281.87 V624.25 H283.76 V630.70 H285.66 V630.70 H287.55 V635.07 H289.45 V626.53 H291.34 V641.33 H293.24 V622.73 H295.13 V640.19 H297.03 V632.22 H298.92 V642.08 H300.82 V636.01 H302.71 V632.60 H305.17 V636.39 H307.07 V634.50 H308.97 V630.32 H310.86 V642.08 H312.76 V625.01 H314.65 V636.01 H316.55 V634.12 H318.44 V630.32 H320.34 V637.91 H322.23 V635.07 H325.07 V634.12 H330.76" fill="none" stroke="#222" stroke-width="0.85" clip-path="url(#c41)"/>
<path d="M200.40,633.95 L201.04,633.95 L201.68,633.95 L202.32,633.95 L202.96,633.95 L203.60,633.95 L204.24,633.95 L204.88,633.95 L205.52,633.95 L206.16,633.95 L206.81,633.95 L207.45,633.95 L208.09,633.95 L208.73,633.95 L209.37,633.95 L210.01,633.95 L210.65,633.95 L211.29,633.95 L211.93,633.95 L212.57,633.95 L213.21,633.95 L213.85,633.95 L214.49,633.95 L215.13,633.95 L215.77,633.95 L216.41,633.95 L217.05,633.95 L217.69,633.95 L218.33,633.95 L218.97,633.95 L219.62,633.95 L220.26,633.95 L220.90,633.95 L221.54,633.95 L222.18,633.95 L222.82,633.95 L223.46,633.95 L224.10,633.95 L224.74,633.95 L225.38,633.95 L226.02,633.95 L226.66,633.95 L227.30,633.95 L227.94,633.95 L228.58,633.95 L229.22,633.95 L229.86,633.95 L230.50,633.95 L231.14,633.95 L231.78,633.95 L232.43,633.95 L233.07,633.95 L233.71,633.95 L234.35,633.95 L234.99,633.94 L235.63,633.94 L236.27,633.94 L236.91,633.93 L237.55,633.93 L238.19,633.92 L238.83,633.91 L239.47,633.90 L240.11,633.88 L240.75,633.86 L241.39,633.83 L242.03,633.79 L242.67,633.75 L243.31,633.70 L243.95,633.63 L244.59,633.54 L245.24,633.44 L245.88,633.32 L246.52,633.17 L247.16,632.99 L247.80,632.78 L248.44,632.53 L249.08,632.24 L249.72,631.90 L250.36,631.51 L251.00,631.06 L251.64,630.55 L252.28,629.97 L252.92,629.32 L253.56,628.61 L254.20,627.81 L254.84,626.95 L255.48,626.01 L256.12,624.99 L256.76,623.91 L257.40,622.77 L258.05,621.57 L258.69,620.33 L259.33,619.06 L259.97,617.76 L260.61,616.46 L261.25,615.17 L261.89,613.91 L262.53,612.69 L263.17,611.53 L263.81,610.46 L264.45,609.49 L265.09,608.63 L265.73,607.89 L266.37,607.30 L267.01,606.87 L267.65,606.59 L268.29,606.48 L268.93,606.53 L269.57,606.76 L270.21,607.14 L270.86,607.68 L271.50,608.37 L272.14,609.19 L272.78,610.12 L273.42,611.17 L274.06,612.30 L274.70,613.49 L275.34,614.74 L275.98,616.03 L276.62,617.33 L277.26,618.62 L277.90,619.91 L278.54,621.16 L279.18,622.38 L279.82,623.54 L280.46,624.64 L281.10,625.67 L281.74,626.64 L282.38,627.53 L283.02,628.35 L283.67,629.09 L284.31,629.76 L284.95,630.36 L285.59,630.89 L286.23,631.36 L286.87,631.77 L287.51,632.13 L288.15,632.44 L288.79,632.70 L289.43,632.92 L290.07,633.11 L290.71,633.27 L291.35,633.40 L291.99,633.51 L292.63,633.60 L293.27,633.67 L293.91,633.73 L294.55,633.78 L295.19,633.82 L295.83,633.85 L296.48,633.87 L297.12,633.89 L297.76,633.90 L298.40,633.92 L299.04,633.92 L299.68,633.93 L300.32,633.94 L300.96,633.94 L301.60,633.94 L302.24,633.94 L302.88,633.95 L303.52,633.95 L304.16,633.95 L304.80,633.95 L305.44,633.95 L306.08,633.95 L306.72,633.95 L307.36,633.95 L308.00,633.95 L308.64,633.95 L309.29,633.95 L309.93,633.95 L310.57,633.95 L311.21,633.95 L311.85,633.95 L312.49,633.95 L313.13,633.95 L313.77,633.95 L314.41,633.95 L315.05,633.95 L315.69,633.95 L316.33,633.95 L316.97,633.95 L317.61,633.95 L318.25,633.95 L318.89,633.95 L319.53,633.95 L320.17,633.95 L320.81,633.95 L321.45,633.95 L322.10,633.95 L322.74,633.95 L323.38,633.95 L324.02,633.95 L324.66,633.95 L325.30,633.95 L325.94,633.95 L326.58,633.95 L327.22,633.95 L327.86,633.95 L328.50,633.95" fill="none" stroke="#000" stroke-width="0.9" clip-path="url(#c41)"/>
<rect x="200.4" y="554.7" width="128.1" height="95.1" fill="none" stroke="#333" stroke-width="0.9"/>
<path d="M207.13,649.8000000000001 v-1.4 M207.13,554.7 v1.4 M214.29,649.8000000000001 v-1.4 M214.29,554.7 v1.4 M221.45,649.8000000000001 v-1.4 M221.45,554.7 v1.4 M228.61,649.8000000000001 v-2.8 M228.61,554.7 v2.8 M235.77,649.8000000000001 v-1.4 M235.77,554.7 v1.4 M242.93,649.8000000000001 v-1.4 M242.93,554.7 v1.4 M250.09,649.8000000000001 v-1.4 M250.09,554.7 v1.4 M257.25,649.8000000000001 v-1.4 M257.25,554.7 v1.4 M264.41,649.8000000000001 v-2.8 M264.41,554.7 v2.8 M271.57,649.8000000000001 v-1.4 M271.57,554.7 v1.4 M278.73,649.8000000000001 v-1.4 M278.73,554.7 v1.4 M285.89,649.8000000000001 v-1.4 M285.89,554.7 v1.4 M293.05,649.8000000000001 v-1.4 M293.05,554.7 v1.4 M300.21,649.8000000000001 v-2.8 M300.21,554.7 v2.8 M307.37,649.8000000000001 v-1.4 M307.37,554.7 v1.4 M314.53,649.8000000000001 v-1.4 M314.53,554.7 v1.4 M321.69,649.8000000000001 v-1.4 M321.69,554.7 v1.4 M200.4,647.16 h1.4 M328.5,647.16 h-1.4 M200.4,633.95 h2.8 M328.5,633.95 h-2.8 M200.4,620.74 h1.4 M328.5,620.74 h-1.4 M200.4,607.53 h2.8 M328.5,607.53 h-2.8 M200.4,594.33 h1.4 M328.5,594.33 h-1.4 M200.4,581.12 h2.8 M328.5,581.12 h-2.8 M200.4,567.91 h1.4 M328.5,567.91 h-1.4 M200.4,554.70 h2.8 M328.5,554.70 h-2.8" stroke="#333" stroke-width="0.95" fill="none"/>
<text transform="matrix(1,0.0005,0,1,0,-0.1078)" x="215.90 220.08 222.35 226.34 230.52 234.82" y="658.00" font-size="6.90">3.7×10</text>
<text transform="matrix(1,0.0005,0,1,0,-0.1194)" x="238.92" y="654.80" font-size="4.69">4</text>
<text transform="matrix(1,0.0005,0,1,0,-0.1247)" x="249.55 253.73 256.00 260.30 264.29 268.47 272.77" y="658.00" font-size="6.90">3.75×10</text>
<text transform="matrix(1,0.0005,0,1,0,-0.1384)" x="276.87" y="654.80" font-size="4.69">4</text>
<text transform="matrix(1,0.0005,0,1,0,-0.1436)" x="287.50 291.68 293.95 297.94 302.12 306.42" y="658.00" font-size="6.90">3.8×10</text>
<text transform="matrix(1,0.0005,0,1,0,-0.1552)" x="310.52" y="654.80" font-size="4.69">4</text>
<text transform="translate(195.60,636.10) rotate(-90) matrix(1,0.0005,0,1,0,0)" x="0.23" y="0" font-size="6.90">0</text>
<text transform="translate(195.60,609.68) rotate(-90) matrix(1,0.0005,0,1,0,0)" x="0.23" y="0" font-size="6.90">2</text>
<text transform="translate(195.60,583.27) rotate(-90) matrix(1,0.0005,0,1,0,0)" x="0.23" y="0" font-size="6.90">4</text>
<text transform="translate(195.60,556.85) rotate(-90) matrix(1,0.0005,0,1,0,0)" x="0.23" y="0" font-size="6.90">6</text>
<text transform="matrix(1,0.0005,0,1,0,-0.1218)" x="243.67" y="666.40" font-size="7.00">v</text>
<text transform="matrix(1,0.0005,0,1,0,-0.1235)" x="247.23 250.43 253.71" y="669.70" font-size="4.90">opt</text>
<text transform="matrix(1,0.0005,0,1,0,-0.1291)" x="258.44 261.19 265.07 271.96 274.73" y="666.40" font-size="7.00">(km s</text>
<line x1="278.20" y1="662.10" x2="282.40" y2="662.10" stroke="#333" stroke-width="0.7"/>
<text transform="matrix(1,0.0005,0,1,0,-0.1414)" x="282.91" y="663.20" font-size="5.00">1</text>
<text transform="matrix(1,0.0005,0,1,0,-0.1425)" x="285.34" y="666.40" font-size="7.00">)</text>
<text transform="translate(182.90,633.90) rotate(-90) matrix(1,0.0005,0,1,0,0)" x="-0.25 3.85 5.52 9.50 13.74 16.70 19.58 25.58 28.94 33.08 35.78 39.67 43.56 47.74" y="0" font-size="7.00">Flux (mJy beam</text>
<line x1="177.80" y1="579.60" x2="177.80" y2="575.80" stroke="#333" stroke-width="0.7"/>
<text transform="translate(179.10,575.50) rotate(-90) matrix(1,0.0005,0,1,0,0)" x="0.11" y="0" font-size="5.00">1</text>
<text transform="translate(182.90,572.70) rotate(-90) matrix(1,0.0005,0,1,0,0)" x="0.31" y="0" font-size="7.00">)</text>
<text transform="matrix(1,0.0005,0,1,0,-0.1021)" x="204.11 205.86 210.58 214.99 220.58 223.74 228.38 233.02 237.66 242.30 247.53 252.97 257.61 262.25 266.89 272.08 274.87 279.82 285.30 288.58 291.57 296.25 301.69 306.18 308.64 313.28 317.92 322.68" y="563.62" font-size="7.27">IRAS 09039+0503 NE (z=0.125)</text>
<text transform="matrix(1,0.0005,0,1,0,-0.1408)" x="281.62 286.63 291.44" y="573.00" font-size="7.30">HCO</text>
<text transform="matrix(1,0.0005,0,1,0,-0.1484)" x="297.08" y="570.30" font-size="5.60">+</text>
<text transform="matrix(1,0.0005,0,1,0,-0.1503)" x="301.45 304.63 309.88 315.34" y="573.00" font-size="7.30"> 3−2</text>
<clipPath id="c50"><rect x="25.5" y="692.35" width="128.1" height="95.1"/></clipPath>
<line x1="25.5" y1="772.27" x2="153.6" y2="772.27" stroke="#999" stroke-width="0.6" stroke-dasharray="0.6 0.7"/>
<path d="M25.00,773.07 H29.17 V766.43 H31.63 V772.50 H32.96 V774.96 H35.42 V773.07 H37.89 V772.50 H40.16 V774.01 H43.00 V768.32 H45.47 V774.96 H48.12 V772.12 H50.58 V770.22 H53.05 V769.84 H55.70 V771.17 H57.59 V767.94 H60.06 V769.84 H61.95 V770.60 H64.80 V771.74 H67.64 V770.22 H70.48 V769.27 H75.79 V765.48 H77.68 V764.53 H79.58 V759.79 H81.47 V755.04 H83.37 V748.40 H85.26 V743.66 H87.16 V738.92 H89.43 V736.07 H91.71 V731.33 H93.60 V728.49 H95.50 V726.21 H97.96 V730.76 H99.85 V722.41 H102.32 V727.54 H104.21 V729.43 H106.11 V727.54 H108.38 V741.38 H110.66 V742.71 H112.55 V745.56 H114.45 V749.73 H116.34 V752.20 H118.24 V756.94 H120.13 V759.79 H122.03 V765.48 H125.06 V768.32 H128.28 V769.84 H130.74 V770.60 H133.97 V769.84 H136.43 V766.43 H139.08 V769.84 H140.98 V771.17 H143.44 V771.74 H146.28 V772.50 H148.18 V774.01 H149.69 V763.01 H151.59 V763.58 H155.76" fill="none" stroke="#222" stroke-width="0.85" clip-path="url(#c50)"/>
<path d="M25.50,772.27 L26.14,772.27 L26.78,772.27 L27.42,772.27 L28.06,772.27 L28.70,772.27 L29.34,772.27 L29.98,772.27 L30.62,772.27 L31.26,772.27 L31.91,772.27 L32.55,772.27 L33.19,772.27 L33.83,772.27 L34.47,772.27 L35.11,772.27 L35.75,772.27 L36.39,772.27 L37.03,772.27 L37.67,772.27 L38.31,772.27 L38.95,772.27 L39.59,772.26 L40.23,772.26 L40.87,772.26 L41.51,772.26 L42.15,772.26 L42.79,772.26 L43.43,772.26 L44.07,772.26 L44.72,772.26 L45.36,772.26 L46.00,772.26 L46.64,772.25 L47.28,772.25 L47.92,772.25 L48.56,772.24 L49.20,772.24 L49.84,772.23 L50.48,772.23 L51.12,772.22 L51.76,772.21 L52.40,772.20 L53.04,772.18 L53.68,772.17 L54.32,772.15 L54.96,772.13 L55.60,772.10 L56.24,772.07 L56.88,772.04 L57.52,772.00 L58.17,771.95 L58.81,771.90 L59.45,771.84 L60.09,771.77 L60.73,771.69 L61.37,771.60 L62.01,771.50 L62.65,771.38 L63.29,771.25 L63.93,771.10 L64.57,770.94 L65.21,770.75 L65.85,770.55 L66.49,770.31 L67.13,770.06 L67.77,769.77 L68.41,769.46 L69.05,769.12 L69.69,768.74 L70.34,768.32 L70.98,767.87 L71.62,767.37 L72.26,766.84 L72.90,766.26 L73.54,765.64 L74.18,764.97 L74.82,764.25 L75.46,763.48 L76.10,762.66 L76.74,761.79 L77.38,760.88 L78.02,759.91 L78.66,758.89 L79.30,757.82 L79.94,756.71 L80.58,755.56 L81.22,754.36 L81.86,753.12 L82.50,751.85 L83.15,750.54 L83.79,749.22 L84.43,747.86 L85.07,746.50 L85.71,745.12 L86.35,743.74 L86.99,742.37 L87.63,741.00 L88.27,739.66 L88.91,738.34 L89.55,737.05 L90.19,735.81 L90.83,734.61 L91.47,733.47 L92.11,732.39 L92.75,731.39 L93.39,730.46 L94.03,729.62 L94.67,728.87 L95.31,728.21 L95.95,727.65 L96.60,727.20 L97.24,726.85 L97.88,726.62 L98.52,726.49 L99.16,726.48 L99.80,726.58 L100.44,726.80 L101.08,727.12 L101.72,727.55 L102.36,728.09 L103.00,728.73 L103.64,729.46 L104.28,730.29 L104.92,731.20 L105.56,732.19 L106.20,733.25 L106.84,734.38 L107.48,735.57 L108.12,736.80 L108.77,738.08 L109.41,739.40 L110.05,740.74 L110.69,742.10 L111.33,743.47 L111.97,744.85 L112.61,746.23 L113.25,747.60 L113.89,748.95 L114.53,750.29 L115.17,751.59 L115.81,752.87 L116.45,754.12 L117.09,755.32 L117.73,756.49 L118.37,757.61 L119.01,758.69 L119.65,759.71 L120.29,760.69 L120.93,761.62 L121.58,762.50 L122.22,763.32 L122.86,764.10 L123.50,764.83 L124.14,765.51 L124.78,766.14 L125.42,766.73 L126.06,767.27 L126.70,767.77 L127.34,768.24 L127.98,768.66 L128.62,769.04 L129.26,769.40 L129.90,769.72 L130.54,770.00 L131.18,770.27 L131.82,770.50 L132.46,770.71 L133.10,770.90 L133.74,771.07 L134.38,771.22 L135.03,771.36 L135.67,771.48 L136.31,771.58 L136.95,771.67 L137.59,771.76 L138.23,771.83 L138.87,771.89 L139.51,771.94 L140.15,771.99 L140.79,772.03 L141.43,772.07 L142.07,772.10 L142.71,772.12 L143.35,772.15 L143.99,772.16 L144.63,772.18 L145.27,772.19 L145.91,772.21 L146.55,772.22 L147.19,772.22 L147.84,772.23 L148.48,772.24 L149.12,772.24 L149.76,772.25 L150.40,772.25 L151.04,772.25 L151.68,772.26 L152.32,772.26 L152.96,772.26 L153.60,772.26" fill="none" stroke="#000" stroke-width="0.9" clip-path="url(#c50)"/>
<rect x="25.5" y="692.35" width="128.1" height="95.1" fill="none" stroke="#333" stroke-width="0.9"/>
<path d="M32.43,787.45 v-2.8 M32.43,692.35 v2.8 M39.57,787.45 v-1.4 M39.57,692.35 v1.4 M46.71,787.45 v-1.4 M46.71,692.35 v1.4 M53.85,787.45 v-1.4 M53.85,692.35 v1.4 M60.99,787.45 v-1.4 M60.99,692.35 v1.4 M68.13,787.45 v-2.8 M68.13,692.35 v2.8 M75.27,787.45 v-1.4 M75.27,692.35 v1.4 M82.41,787.45 v-1.4 M82.41,692.35 v1.4 M89.55,787.45 v-1.4 M89.55,692.35 v1.4 M96.69,787.45 v-1.4 M96.69,692.35 v1.4 M103.83,787.45 v-2.8 M103.83,692.35 v2.8 M110.97,787.45 v-1.4 M110.97,692.35 v1.4 M118.11,787.45 v-1.4 M118.11,692.35 v1.4 M125.25,787.45 v-1.4 M125.25,692.35 v1.4 M132.39,787.45 v-1.4 M132.39,692.35 v1.4 M139.53,787.45 v-2.8 M139.53,692.35 v2.8 M146.67,787.45 v-1.4 M146.67,692.35 v1.4 M25.5,780.26 h1.4 M153.6,780.26 h-1.4 M25.5,772.27 h2.8 M153.6,772.27 h-2.8 M25.5,764.27 h1.4 M153.6,764.27 h-1.4 M25.5,756.28 h1.4 M153.6,756.28 h-1.4 M25.5,748.29 h1.4 M153.6,748.29 h-1.4 M25.5,740.30 h1.4 M153.6,740.30 h-1.4 M25.5,732.31 h2.8 M153.6,732.31 h-2.8 M25.5,724.32 h1.4 M153.6,724.32 h-1.4 M25.5,716.32 h1.4 M153.6,716.32 h-1.4 M25.5,708.33 h1.4 M153.6,708.33 h-1.4 M25.5,700.34 h1.4 M153.6,700.34 h-1.4 M25.5,692.35 h2.8 M153.6,692.35 h-2.8" stroke="#333" stroke-width="0.95" fill="none"/>
<text transform="matrix(1,0.0005,0,1,0,-0.0114)" x="22.94 26.93 31.11 35.41" y="795.65" font-size="6.90">4×10</text>
<text transform="matrix(1,0.0005,0,1,0,-0.0197)" x="39.51" y="792.45" font-size="4.69">4</text>
<text transform="matrix(1,0.0005,0,1,0,-0.0265)" x="53.26 57.45 59.71 64.01 68.00 72.18 76.48" y="795.65" font-size="6.90">4.05×10</text>
<text transform="matrix(1,0.0005,0,1,0,-0.0403)" x="80.58" y="792.45" font-size="4.69">4</text>
<text transform="matrix(1,0.0005,0,1,0,-0.0454)" x="91.11 95.30 97.56 101.55 105.73 110.03" y="795.65" font-size="6.90">4.1×10</text>
<text transform="matrix(1,0.0005,0,1,0,-0.0571)" x="114.13" y="792.45" font-size="4.69">4</text>
<text transform="matrix(1,0.0005,0,1,0,-0.0622)" x="124.66 128.85 131.11 135.41 139.40 143.58 147.88" y="795.65" font-size="6.90">4.15×10</text>
<text transform="matrix(1,0.0005,0,1,0,-0.0760)" x="151.98" y="792.45" font-size="4.69">4</text>
<text transform="translate(20.70,774.42) rotate(-90) matrix(1,0.0005,0,1,0,0)" x="0.23" y="0" font-size="6.90">0</text>
<text transform="translate(20.70,734.46) rotate(-90) matrix(1,0.0005,0,1,0,0)" x="0.23" y="0" font-size="6.90">5</text>
<text transform="translate(20.70,696.65) rotate(-90) matrix(1,0.0005,0,1,0,0)" x="0.23 4.53" y="0" font-size="6.90">10</text>
<text transform="matrix(1,0.0005,0,1,0,-0.0344)" x="68.77" y="804.05" font-size="7.00">v</text>
<text transform="matrix(1,0.0005,0,1,0,-0.0360)" x="72.33 75.53 78.81" y="807.35" font-size="4.90">opt</text>
<text transform="matrix(1,0.0005,0,1,0,-0.0416)" x="83.54 86.29 90.17 97.06 99.83" y="804.05" font-size="7.00">(km s</text>
<line x1="103.30" y1="799.75" x2="107.50" y2="799.75" stroke="#333" stroke-width="0.7"/>
<text transform="matrix(1,0.0005,0,1,0,-0.0540)" x="108.01" y="800.85" font-size="5.00">1</text>
<text transform="matrix(1,0.0005,0,1,0,-0.0551)" x="110.44" y="804.05" font-size="7.00">)</text>
<text transform="translate(8.00,771.55) rotate(-90) matrix(1,0.0005,0,1,0,0)" x="-0.25 3.85 5.52 9.50 13.74 16.70 19.58 25.58 28.94 33.08 35.78 39.67 43.56 47.74" y="0" font-size="7.00">Flux (mJy beam</text>
<line x1="2.90" y1="717.25" x2="2.90" y2="713.45" stroke="#333" stroke-width="0.7"/>
<text transform="translate(4.20,713.15) rotate(-90) matrix(1,0.0005,0,1,0,0)" x="0.11" y="0" font-size="5.00">1</text>
<text transform="translate(8.00,710.35) rotate(-90) matrix(1,0.0005,0,1,0,0)" x="0.31" y="0" font-size="7.00">)</text>
<text transform="matrix(1,0.0005,0,1,0,-0.0168)" x="33.51 35.26 39.98 44.39 49.97 53.14 57.78 62.42 67.05 71.69 76.93 82.36 87.00 91.64 96.28 101.47 104.74 107.73 112.41 117.85 122.34 124.81 129.45 134.09 138.72 143.48" y="701.30" font-size="7.27">IRAS 10378+1108 (z=0.1365)</text>
<text transform="matrix(1,0.0005,0,1,0,-0.0545)" x="109.00 114.01 119.02 125.07 128.25 133.50 138.97" y="710.73" font-size="7.30">HCN 3−2</text>
<clipPath id="c51"><rect x="200.4" y="692.35" width="128.1" height="95.1"/></clipPath>
<line x1="200.4" y1="772.27" x2="328.5" y2="772.27" stroke="#999" stroke-width="0.6" stroke-dasharray="0.6 0.7"/>
<path d="M200.00,777.81 H201.90 V770.22 H203.79 V768.32 H206.63 V771.17 H209.10 V772.50 H211.75 V775.53 H214.21 V774.39 H216.68 V773.63 H219.33 V771.74 H221.79 V770.22 H223.69 V769.84 H225.58 V772.12 H227.48 V771.17 H229.94 V778.19 H232.22 V772.12 H234.11 V771.17 H236.01 V767.37 H238.85 V771.17 H239.80 V781.60 H242.07 V771.17 H243.97 V768.70 H246.43 V765.48 H248.89 V768.70 H250.79 V772.12 H252.68 V768.70 H254.96 V761.11 H256.85 V756.94 H258.75 V746.51 H261.59 V745.56 H264.43 V740.82 H266.33 V737.02 H268.22 V726.97 H270.50 V733.23 H272.96 V726.59 H274.85 V734.18 H276.75 V729.43 H279.21 V731.33 H281.11 V734.18 H283.00 V738.92 H284.90 V741.38 H286.79 V749.35 H289.07 V756.94 H290.58 V762.63 H292.86 V761.11 H294.75 V759.79 H297.03 V756.94 H298.92 V759.79 H301.38 V760.36 H303.85 V773.07 H305.74 V768.70 H307.64 V769.27 H309.91 V771.17 H312.19 V768.32 H314.08 V774.01 H316.55 V772.12 H319.01 V773.63 H321.28 V774.96 H323.18 V773.07 H325.45 V771.17 H327.35 V768.70 H330.76" fill="none" stroke="#222" stroke-width="0.85" clip-path="url(#c51)"/>
<path d="M200.40,772.27 L201.04,772.27 L201.68,772.27 L202.32,772.27 L202.96,772.27 L203.60,772.27 L204.24,772.27 L204.88,772.27 L205.52,772.27 L206.16,772.27 L206.81,772.27 L207.45,772.27 L208.09,772.27 L208.73,772.27 L209.37,772.27 L210.01,772.27 L210.65,772.27 L211.29,772.27 L211.93,772.27 L212.57,772.27 L213.21,772.27 L213.85,772.27 L214.49,772.27 L215.13,772.27 L215.77,772.27 L216.41,772.27 L217.05,772.26 L217.69,772.26 L218.33,772.26 L218.97,772.26 L219.62,772.26 L220.26,772.26 L220.90,772.26 L221.54,772.26 L222.18,772.26 L222.82,772.26 L223.46,772.26 L224.10,772.25 L224.74,772.25 L225.38,772.25 L226.02,772.24 L226.66,772.24 L227.30,772.23 L227.94,772.23 L228.58,772.22 L229.22,772.21 L229.86,772.19 L230.50,772.18 L231.14,772.16 L231.78,772.14 L232.43,772.12 L233.07,772.09 L233.71,772.06 L234.35,772.03 L234.99,771.98 L235.63,771.93 L236.27,771.88 L236.91,771.81 L237.55,771.74 L238.19,771.65 L238.83,771.55 L239.47,771.44 L240.11,771.32 L240.75,771.18 L241.39,771.02 L242.03,770.84 L242.67,770.64 L243.31,770.42 L243.95,770.17 L244.59,769.89 L245.24,769.59 L245.88,769.25 L246.52,768.88 L247.16,768.48 L247.80,768.03 L248.44,767.55 L249.08,767.03 L249.72,766.46 L250.36,765.85 L251.00,765.20 L251.64,764.50 L252.28,763.75 L252.92,762.95 L253.56,762.11 L254.20,761.22 L254.84,760.28 L255.48,759.30 L256.12,758.27 L256.76,757.20 L257.40,756.09 L258.05,754.95 L258.69,753.77 L259.33,752.57 L259.97,751.34 L260.61,750.09 L261.25,748.83 L261.89,747.57 L262.53,746.30 L263.17,745.04 L263.81,743.80 L264.45,742.58 L265.09,741.38 L265.73,740.22 L266.37,739.11 L267.01,738.04 L267.65,737.03 L268.29,736.09 L268.93,735.23 L269.57,734.44 L270.21,733.73 L270.86,733.12 L271.50,732.59 L272.14,732.17 L272.78,731.85 L273.42,731.63 L274.06,731.52 L274.70,731.52 L275.34,731.62 L275.98,731.83 L276.62,732.15 L277.26,732.56 L277.90,733.08 L278.54,733.69 L279.18,734.38 L279.82,735.17 L280.46,736.03 L281.10,736.97 L281.74,737.97 L282.38,739.03 L283.02,740.14 L283.67,741.30 L284.31,742.49 L284.95,743.71 L285.59,744.96 L286.23,746.22 L286.87,747.48 L287.51,748.75 L288.15,750.01 L288.79,751.25 L289.43,752.48 L290.07,753.69 L290.71,754.87 L291.35,756.01 L291.99,757.13 L292.63,758.20 L293.27,759.23 L293.91,760.21 L294.55,761.16 L295.19,762.05 L295.83,762.90 L296.48,763.70 L297.12,764.45 L297.76,765.15 L298.40,765.81 L299.04,766.42 L299.68,766.99 L300.32,767.52 L300.96,768.00 L301.60,768.45 L302.24,768.85 L302.88,769.23 L303.52,769.56 L304.16,769.87 L304.80,770.15 L305.44,770.40 L306.08,770.62 L306.72,770.83 L307.36,771.01 L308.00,771.17 L308.64,771.31 L309.29,771.44 L309.93,771.55 L310.57,771.65 L311.21,771.73 L311.85,771.81 L312.49,771.87 L313.13,771.93 L313.77,771.98 L314.41,772.02 L315.05,772.06 L315.69,772.09 L316.33,772.12 L316.97,772.14 L317.61,772.16 L318.25,772.18 L318.89,772.19 L319.53,772.21 L320.17,772.22 L320.81,772.22 L321.45,772.23 L322.10,772.24 L322.74,772.24 L323.38,772.25 L324.02,772.25 L324.66,772.25 L325.30,772.26 L325.94,772.26 L326.58,772.26 L327.22,772.26 L327.86,772.26 L328.50,772.26" fill="none" stroke="#000" stroke-width="0.9" clip-path="url(#c51)"/>
<rect x="200.4" y="692.35" width="128.1" height="95.1" fill="none" stroke="#333" stroke-width="0.9"/>
<path d="M207.33,787.45 v-2.8 M207.33,692.35 v2.8 M214.47,787.45 v-1.4 M214.47,692.35 v1.4 M221.61,787.45 v-1.4 M221.61,692.35 v1.4 M228.75,787.45 v-1.4 M228.75,692.35 v1.4 M235.89,787.45 v-1.4 M235.89,692.35 v1.4 M243.03,787.45 v-2.8 M243.03,692.35 v2.8 M250.17,787.45 v-1.4 M250.17,692.35 v1.4 M257.31,787.45 v-1.4 M257.31,692.35 v1.4 M264.45,787.45 v-1.4 M264.45,692.35 v1.4 M271.59,787.45 v-1.4 M271.59,692.35 v1.4 M278.73,787.45 v-2.8 M278.73,692.35 v2.8 M285.87,787.45 v-1.4 M285.87,692.35 v1.4 M293.01,787.45 v-1.4 M293.01,692.35 v1.4 M300.15,787.45 v-1.4 M300.15,692.35 v1.4 M307.29,787.45 v-1.4 M307.29,692.35 v1.4 M314.43,787.45 v-2.8 M314.43,692.35 v2.8 M321.57,787.45 v-1.4 M321.57,692.35 v1.4 M200.4,780.26 h1.4 M328.5,780.26 h-1.4 M200.4,772.27 h2.8 M328.5,772.27 h-2.8 M200.4,764.27 h1.4 M328.5,764.27 h-1.4 M200.4,756.28 h1.4 M328.5,756.28 h-1.4 M200.4,748.29 h1.4 M328.5,748.29 h-1.4 M200.4,740.30 h1.4 M328.5,740.30 h-1.4 M200.4,732.31 h2.8 M328.5,732.31 h-2.8 M200.4,724.32 h1.4 M328.5,724.32 h-1.4 M200.4,716.32 h1.4 M328.5,716.32 h-1.4 M200.4,708.33 h1.4 M328.5,708.33 h-1.4 M200.4,700.34 h1.4 M328.5,700.34 h-1.4 M200.4,692.35 h2.8 M328.5,692.35 h-2.8" stroke="#333" stroke-width="0.95" fill="none"/>
<text transform="matrix(1,0.0005,0,1,0,-0.0988)" x="197.84 201.83 206.01 210.31" y="795.65" font-size="6.90">4×10</text>
<text transform="matrix(1,0.0005,0,1,0,-0.1072)" x="214.41" y="792.45" font-size="4.69">4</text>
<text transform="matrix(1,0.0005,0,1,0,-0.1140)" x="228.16 232.35 234.61 238.91 242.90 247.08 251.38" y="795.65" font-size="6.90">4.05×10</text>
<text transform="matrix(1,0.0005,0,1,0,-0.1277)" x="255.48" y="792.45" font-size="4.69">4</text>
<text transform="matrix(1,0.0005,0,1,0,-0.1329)" x="266.01 270.20 272.46 276.45 280.63 284.93" y="795.65" font-size="6.90">4.1×10</text>
<text transform="matrix(1,0.0005,0,1,0,-0.1445)" x="289.03" y="792.45" font-size="4.69">4</text>
<text transform="matrix(1,0.0005,0,1,0,-0.1497)" x="299.56 303.75 306.01 310.31 314.30 318.48 322.78" y="795.65" font-size="6.90">4.15×10</text>
<text transform="matrix(1,0.0005,0,1,0,-0.1634)" x="326.88" y="792.45" font-size="4.69">4</text>
<text transform="translate(195.60,774.42) rotate(-90) matrix(1,0.0005,0,1,0,0)" x="0.23" y="0" font-size="6.90">0</text>
<text transform="translate(195.60,734.46) rotate(-90) matrix(1,0.0005,0,1,0,0)" x="0.23" y="0" font-size="6.90">5</text>
<text transform="translate(195.60,696.65) rotate(-90) matrix(1,0.0005,0,1,0,0)" x="0.23 4.53" y="0" font-size="6.90">10</text>
<text transform="matrix(1,0.0005,0,1,0,-0.1218)" x="243.67" y="804.05" font-size="7.00">v</text>
<text transform="matrix(1,0.0005,0,1,0,-0.1235)" x="247.23 250.43 253.71" y="807.35" font-size="4.90">opt</text>
<text transform="matrix(1,0.0005,0,1,0,-0.1291)" x="258.44 261.19 265.07 271.96 274.73" y="804.05" font-size="7.00">(km s</text>
<line x1="278.20" y1="799.75" x2="282.40" y2="799.75" stroke="#333" stroke-width="0.7"/>
<text transform="matrix(1,0.0005,0,1,0,-0.1414)" x="282.91" y="800.85" font-size="5.00">1</text>
<text transform="matrix(1,0.0005,0,1,0,-0.1425)" x="285.34" y="804.05" font-size="7.00">)</text>
<text transform="translate(182.90,771.55) rotate(-90) matrix(1,0.0005,0,1,0,0)" x="-0.25 3.85 5.52 9.50 13.74 16.70 19.58 25.58 28.94 33.08 35.78 39.67 43.56 47.74" y="0" font-size="7.00">Flux (mJy beam</text>
<line x1="177.80" y1="717.25" x2="177.80" y2="713.45" stroke="#333" stroke-width="0.7"/>
<text transform="translate(179.10,713.15) rotate(-90) matrix(1,0.0005,0,1,0,0)" x="0.11" y="0" font-size="5.00">1</text>
<text transform="translate(182.90,710.35) rotate(-90) matrix(1,0.0005,0,1,0,0)" x="0.31" y="0" font-size="7.00">)</text>
<text transform="matrix(1,0.0005,0,1,0,-0.1042)" x="208.41 210.16 214.88 219.29 224.87 228.04 232.68 237.32 241.95 246.59 251.83 257.26 261.90 266.54 271.18 276.37 279.64 282.63 287.31 292.75 297.24 299.71 304.35 308.99 313.62 318.38" y="701.30" font-size="7.27">IRAS 10378+1108 (z=0.1365)</text>
<text transform="matrix(1,0.0005,0,1,0,-0.1408)" x="281.62 286.63 291.44" y="710.73" font-size="7.30">HCO</text>
<text transform="matrix(1,0.0005,0,1,0,-0.1484)" x="297.08" y="708.03" font-size="5.60">+</text>
<text transform="matrix(1,0.0005,0,1,0,-0.1503)" x="301.45 304.63 309.88 315.34" y="710.73" font-size="7.30"> 3−2</text>
<clipPath id="c52"><rect x="374.6" y="692.35" width="128.1" height="95.1"/></clipPath>
<line x1="374.6" y1="770.38" x2="502.70000000000005" y2="770.38" stroke="#999" stroke-width="0.6" stroke-dasharray="0.6 0.7"/>
<path d="M374.00,775.91 H375.52 V769.84 H378.17 V774.96 H380.63 V775.91 H383.48 V776.86 H385.75 V775.91 H387.64 V774.01 H389.54 V771.74 H391.06 V766.05 H392.95 V765.10 H395.22 V772.12 H397.12 V776.86 H399.58 V775.53 H401.48 V773.07 H403.37 V769.84 H405.84 V767.94 H408.11 V763.58 H410.01 V761.68 H411.52 V767.94 H413.80 V769.27 H415.69 V764.15 H417.59 V778.19 H419.48 V765.10 H421.76 V765.48 H423.65 V764.53 H425.55 V754.66 H427.44 V755.04 H429.34 V753.53 H431.23 V755.42 H433.13 V747.46 H435.02 V745.94 H436.92 V741.76 H438.81 V737.97 H440.71 V743.66 H442.60 V730.38 H444.12 V721.28 H446.01 V726.97 H447.91 V735.69 H449.80 V737.02 H451.70 V737.59 H453.59 V736.45 H455.87 V743.66 H457.76 V758.46 H459.66 V752.20 H461.55 V751.25 H464.01 V759.79 H466.48 V762.25 H468.75 V761.68 H471.03 V766.43 H472.92 V767.37 H475.38 V768.70 H477.85 V770.22 H480.12 V759.41 H482.40 V770.60 H484.29 V769.84 H488.08 V764.53 H489.98 V770.22 H491.87 V768.32 H494.34 V769.27 H496.80 V769.84 H499.07 V770.60 H500.97 V775.91 H504.76" fill="none" stroke="#222" stroke-width="0.85" clip-path="url(#c52)"/>
<path d="M374.60,770.38 L375.24,770.38 L375.88,770.38 L376.52,770.38 L377.16,770.38 L377.80,770.38 L378.44,770.38 L379.08,770.38 L379.72,770.38 L380.36,770.38 L381.00,770.38 L381.65,770.38 L382.29,770.38 L382.93,770.38 L383.57,770.38 L384.21,770.38 L384.85,770.38 L385.49,770.38 L386.13,770.38 L386.77,770.38 L387.41,770.38 L388.05,770.38 L388.69,770.38 L389.33,770.38 L389.97,770.38 L390.61,770.38 L391.25,770.38 L391.89,770.38 L392.53,770.38 L393.17,770.38 L393.81,770.38 L394.46,770.38 L395.10,770.38 L395.74,770.38 L396.38,770.38 L397.02,770.38 L397.66,770.38 L398.30,770.38 L398.94,770.38 L399.58,770.38 L400.22,770.38 L400.86,770.38 L401.50,770.38 L402.14,770.38 L402.78,770.38 L403.42,770.38 L404.06,770.37 L404.70,770.37 L405.34,770.37 L405.98,770.37 L406.62,770.36 L407.27,770.36 L407.91,770.35 L408.55,770.35 L409.19,770.34 L409.83,770.33 L410.47,770.31 L411.11,770.29 L411.75,770.27 L412.39,770.25 L413.03,770.21 L413.67,770.18 L414.31,770.13 L414.95,770.07 L415.59,770.01 L416.23,769.93 L416.87,769.84 L417.51,769.73 L418.15,769.60 L418.79,769.45 L419.44,769.28 L420.08,769.07 L420.72,768.84 L421.36,768.58 L422.00,768.27 L422.64,767.93 L423.28,767.54 L423.92,767.10 L424.56,766.62 L425.20,766.07 L425.84,765.47 L426.48,764.80 L427.12,764.07 L427.76,763.27 L428.40,762.41 L429.04,761.47 L429.68,760.46 L430.32,759.39 L430.96,758.25 L431.60,757.04 L432.25,755.77 L432.89,754.44 L433.53,753.07 L434.17,751.65 L434.81,750.19 L435.45,748.71 L436.09,747.21 L436.73,745.71 L437.37,744.22 L438.01,742.75 L438.65,741.32 L439.29,739.93 L439.93,738.60 L440.57,737.35 L441.21,736.19 L441.85,735.13 L442.49,734.18 L443.13,733.35 L443.77,732.66 L444.41,732.11 L445.06,731.71 L445.70,731.46 L446.34,731.37 L446.98,731.43 L447.62,731.65 L448.26,732.02 L448.90,732.54 L449.54,733.20 L450.18,734.00 L450.82,734.93 L451.46,735.97 L452.10,737.11 L452.74,738.34 L453.38,739.66 L454.02,741.03 L454.66,742.46 L455.30,743.93 L455.94,745.41 L456.58,746.91 L457.22,748.41 L457.87,749.90 L458.51,751.36 L459.15,752.78 L459.79,754.17 L460.43,755.51 L461.07,756.79 L461.71,758.01 L462.35,759.17 L462.99,760.25 L463.63,761.27 L464.27,762.22 L464.91,763.11 L465.55,763.92 L466.19,764.66 L466.83,765.34 L467.47,765.95 L468.11,766.51 L468.75,767.01 L469.39,767.46 L470.03,767.86 L470.68,768.21 L471.32,768.52 L471.96,768.79 L472.60,769.03 L473.24,769.24 L473.88,769.42 L474.52,769.57 L475.16,769.70 L475.80,769.82 L476.44,769.91 L477.08,769.99 L477.72,770.06 L478.36,770.12 L479.00,770.17 L479.64,770.21 L480.28,770.24 L480.92,770.27 L481.56,770.29 L482.20,770.31 L482.84,770.32 L483.49,770.33 L484.13,770.34 L484.77,770.35 L485.41,770.36 L486.05,770.36 L486.69,770.37 L487.33,770.37 L487.97,770.37 L488.61,770.37 L489.25,770.38 L489.89,770.38 L490.53,770.38 L491.17,770.38 L491.81,770.38 L492.45,770.38 L493.09,770.38 L493.73,770.38 L494.37,770.38 L495.01,770.38 L495.65,770.38 L496.30,770.38 L496.94,770.38 L497.58,770.38 L498.22,770.38 L498.86,770.38 L499.50,770.38 L500.14,770.38 L500.78,770.38 L501.42,770.38 L502.06,770.38 L502.70,770.38" fill="none" stroke="#000" stroke-width="0.9" clip-path="url(#c52)"/>
<rect x="374.6" y="692.35" width="128.1" height="95.1" fill="none" stroke="#333" stroke-width="0.9"/>
<path d="M381.53,787.45 v-2.8 M381.53,692.35 v2.8 M388.67,787.45 v-1.4 M388.67,692.35 v1.4 M395.81,787.45 v-1.4 M395.81,692.35 v1.4 M402.95,787.45 v-1.4 M402.95,692.35 v1.4 M410.09,787.45 v-1.4 M410.09,692.35 v1.4 M417.23,787.45 v-2.8 M417.23,692.35 v2.8 M424.37,787.45 v-1.4 M424.37,692.35 v1.4 M431.51,787.45 v-1.4 M431.51,692.35 v1.4 M438.65,787.45 v-1.4 M438.65,692.35 v1.4 M445.79,787.45 v-1.4 M445.79,692.35 v1.4 M452.93,787.45 v-2.8 M452.93,692.35 v2.8 M460.07,787.45 v-1.4 M460.07,692.35 v1.4 M467.21,787.45 v-1.4 M467.21,692.35 v1.4 M474.35,787.45 v-1.4 M474.35,692.35 v1.4 M481.49,787.45 v-1.4 M481.49,692.35 v1.4 M488.63,787.45 v-2.8 M488.63,692.35 v2.8 M495.77,787.45 v-1.4 M495.77,692.35 v1.4 M374.6,785.01 h1.4 M502.70000000000005,785.01 h-1.4 M374.6,780.13 h1.4 M502.70000000000005,780.13 h-1.4 M374.6,775.26 h1.4 M502.70000000000005,775.26 h-1.4 M374.6,770.38 h2.8 M502.70000000000005,770.38 h-2.8 M374.6,765.50 h1.4 M502.70000000000005,765.50 h-1.4 M374.6,760.63 h1.4 M502.70000000000005,760.63 h-1.4 M374.6,755.75 h1.4 M502.70000000000005,755.75 h-1.4 M374.6,750.87 h1.4 M502.70000000000005,750.87 h-1.4 M374.6,746.00 h2.8 M502.70000000000005,746.00 h-2.8 M374.6,741.12 h1.4 M502.70000000000005,741.12 h-1.4 M374.6,736.24 h1.4 M502.70000000000005,736.24 h-1.4 M374.6,731.37 h1.4 M502.70000000000005,731.37 h-1.4 M374.6,726.49 h1.4 M502.70000000000005,726.49 h-1.4 M374.6,721.61 h2.8 M502.70000000000005,721.61 h-2.8 M374.6,716.73 h1.4 M502.70000000000005,716.73 h-1.4 M374.6,711.86 h1.4 M502.70000000000005,711.86 h-1.4 M374.6,706.98 h1.4 M502.70000000000005,706.98 h-1.4 M374.6,702.10 h1.4 M502.70000000000005,702.10 h-1.4 M374.6,697.23 h2.8 M502.70000000000005,697.23 h-2.8 M374.6,692.35 h1.4 M502.70000000000005,692.35 h-1.4" stroke="#333" stroke-width="0.95" fill="none"/>
<text transform="matrix(1,0.0005,0,1,0,-0.1859)" x="372.04 376.03 380.21 384.51" y="795.65" font-size="6.90">4×10</text>
<text transform="matrix(1,0.0005,0,1,0,-0.1943)" x="388.61" y="792.45" font-size="4.69">4</text>
<text transform="matrix(1,0.0005,0,1,0,-0.2011)" x="402.36 406.55 408.81 413.11 417.10 421.28 425.58" y="795.65" font-size="6.90">4.05×10</text>
<text transform="matrix(1,0.0005,0,1,0,-0.2148)" x="429.68" y="792.45" font-size="4.69">4</text>
<text transform="matrix(1,0.0005,0,1,0,-0.2200)" x="440.21 444.40 446.66 450.65 454.83 459.13" y="795.65" font-size="6.90">4.1×10</text>
<text transform="matrix(1,0.0005,0,1,0,-0.2316)" x="463.23" y="792.45" font-size="4.69">4</text>
<text transform="matrix(1,0.0005,0,1,0,-0.2368)" x="473.76 477.95 480.21 484.51 488.50 492.68 496.98" y="795.65" font-size="6.90">4.15×10</text>
<text transform="matrix(1,0.0005,0,1,0,-0.2505)" x="501.08" y="792.45" font-size="4.69">4</text>
<text transform="translate(369.80,772.53) rotate(-90) matrix(1,0.0005,0,1,0,0)" x="0.23" y="0" font-size="6.90">0</text>
<text transform="translate(369.80,750.30) rotate(-90) matrix(1,0.0005,0,1,0,0)" x="0.23 4.53" y="0" font-size="6.90">10</text>
<text transform="translate(369.80,725.91) rotate(-90) matrix(1,0.0005,0,1,0,0)" x="0.23 4.53" y="0" font-size="6.90">20</text>
<text transform="translate(369.80,701.53) rotate(-90) matrix(1,0.0005,0,1,0,0)" x="0.23 4.53" y="0" font-size="6.90">30</text>
<text transform="matrix(1,0.0005,0,1,0,-0.2090)" x="417.87" y="804.05" font-size="7.00">v</text>
<text transform="matrix(1,0.0005,0,1,0,-0.2106)" x="421.43 424.63 427.91" y="807.35" font-size="4.90">opt</text>
<text transform="matrix(1,0.0005,0,1,0,-0.2162)" x="432.64 435.39 439.27 446.16 448.93" y="804.05" font-size="7.00">(km s</text>
<line x1="452.40" y1="799.75" x2="456.60" y2="799.75" stroke="#333" stroke-width="0.7"/>
<text transform="matrix(1,0.0005,0,1,0,-0.2285)" x="457.11" y="800.85" font-size="5.00">1</text>
<text transform="matrix(1,0.0005,0,1,0,-0.2296)" x="459.54" y="804.05" font-size="7.00">)</text>
<text transform="translate(357.10,757.56) rotate(-90) matrix(1,0.0005,0,1,0,0)" x="-0.25 3.85 5.52 9.50 13.74 16.70 19.58 25.58 28.94 32.68" y="0" font-size="7.00">Flux (mJy)</text>
<text transform="matrix(1,0.0005,0,1,0,-0.1913)" x="382.61 384.36 389.08 393.49 399.07 402.24 406.88 411.52 416.15 420.79 426.03 431.46 436.10 440.74 445.38 450.57 453.84 456.83 461.51 466.95 471.44 473.91 478.55 483.19 487.82 492.58" y="701.30" font-size="7.27">IRAS 10378+1108 (z=0.1365)</text>
<text transform="matrix(1,0.0005,0,1,0,-0.1928)" x="386.03 389.18 394.11 398.12 401.18 405.61 409.92 414.34 417.46 420.05 424.60 427.39 431.93" y="710.73" font-size="7.30">(1" aperture)</text>
<text transform="matrix(1,0.0005,0,1,0,-0.2291)" x="458.10 463.11 468.12 474.17 477.35 482.60 488.07" y="710.73" font-size="7.30">HCN 3−2</text>
<clipPath id="c53"><rect x="549.6" y="692.35" width="128.1" height="95.1"/></clipPath>
<line x1="549.6" y1="770.38" x2="677.7" y2="770.38" stroke="#999" stroke-width="0.6" stroke-dasharray="0.6 0.7"/>
<path d="M549.00,775.53 H550.90 V768.70 H553.17 V769.84 H555.63 V786.34 H557.53 V771.17 H559.99 V770.22 H563.21 V767.37 H565.68 V769.84 H567.57 V775.91 H569.47 V770.22 H572.12 V769.84 H577.05 V762.63 H579.32 V771.17 H581.59 V779.33 H583.49 V775.53 H585.38 V772.50 H587.28 V770.22 H589.17 V769.27 H591.07 V765.48 H593.53 V778.76 H595.43 V760.73 H597.89 V764.15 H599.79 V762.25 H601.68 V756.94 H603.96 V747.46 H608.69 V735.12 H610.59 V742.71 H613.05 V730.76 H617.60 V734.18 H620.06 V733.23 H622.53 V732.28 H624.80 V739.49 H626.70 V733.80 H628.97 V743.66 H630.87 V747.46 H632.76 V751.25 H635.22 V760.36 H636.55 V757.89 H638.45 V762.25 H640.91 V764.53 H642.80 V771.17 H644.70 V763.58 H646.03 V764.91 H648.49 V768.70 H651.33 V763.01 H653.61 V768.70 H656.07 V767.37 H657.97 V761.11 H660.43 V768.70 H662.32 V770.22 H664.60 V761.11 H668.01 V770.22 H670.28 V771.74 H672.56 V767.37 H675.02 V775.53 H679.76" fill="none" stroke="#222" stroke-width="0.85" clip-path="url(#c53)"/>
<path d="M549.60,770.38 L550.24,770.38 L550.88,770.38 L551.52,770.38 L552.16,770.38 L552.80,770.38 L553.44,770.38 L554.08,770.38 L554.72,770.38 L555.36,770.38 L556.00,770.38 L556.65,770.38 L557.29,770.38 L557.93,770.38 L558.57,770.38 L559.21,770.38 L559.85,770.38 L560.49,770.38 L561.13,770.38 L561.77,770.38 L562.41,770.38 L563.05,770.38 L563.69,770.38 L564.33,770.38 L564.97,770.38 L565.61,770.38 L566.25,770.38 L566.89,770.38 L567.53,770.38 L568.17,770.38 L568.82,770.38 L569.46,770.38 L570.10,770.38 L570.74,770.38 L571.38,770.38 L572.02,770.38 L572.66,770.38 L573.30,770.38 L573.94,770.38 L574.58,770.38 L575.22,770.37 L575.86,770.37 L576.50,770.37 L577.14,770.37 L577.78,770.36 L578.42,770.36 L579.06,770.35 L579.70,770.35 L580.34,770.34 L580.98,770.33 L581.62,770.31 L582.27,770.30 L582.91,770.28 L583.55,770.26 L584.19,770.23 L584.83,770.20 L585.47,770.16 L586.11,770.12 L586.75,770.06 L587.39,770.00 L588.03,769.92 L588.67,769.84 L589.31,769.74 L589.95,769.62 L590.59,769.49 L591.23,769.33 L591.87,769.16 L592.51,768.95 L593.15,768.72 L593.79,768.47 L594.44,768.17 L595.08,767.84 L595.72,767.48 L596.36,767.07 L597.00,766.61 L597.64,766.11 L598.28,765.56 L598.92,764.95 L599.56,764.30 L600.20,763.58 L600.84,762.81 L601.48,761.97 L602.12,761.08 L602.76,760.13 L603.40,759.12 L604.04,758.06 L604.68,756.94 L605.32,755.77 L605.96,754.55 L606.60,753.29 L607.25,751.99 L607.89,750.66 L608.53,749.31 L609.17,747.94 L609.81,746.57 L610.45,745.20 L611.09,743.84 L611.73,742.51 L612.37,741.21 L613.01,739.96 L613.65,738.76 L614.29,737.62 L614.93,736.57 L615.57,735.60 L616.21,734.72 L616.85,733.95 L617.49,733.29 L618.13,732.75 L618.77,732.33 L619.41,732.04 L620.06,731.89 L620.70,731.86 L621.34,731.97 L621.98,732.20 L622.62,732.57 L623.26,733.07 L623.90,733.68 L624.54,734.41 L625.18,735.24 L625.82,736.18 L626.46,737.20 L627.10,738.31 L627.74,739.48 L628.38,740.72 L629.02,742.00 L629.66,743.32 L630.30,744.67 L630.94,746.03 L631.58,747.41 L632.22,748.78 L632.87,750.14 L633.51,751.47 L634.15,752.78 L634.79,754.06 L635.43,755.30 L636.07,756.49 L636.71,757.63 L637.35,758.71 L637.99,759.75 L638.63,760.72 L639.27,761.63 L639.91,762.49 L640.55,763.29 L641.19,764.02 L641.83,764.70 L642.47,765.33 L643.11,765.90 L643.75,766.42 L644.39,766.89 L645.03,767.32 L645.68,767.71 L646.32,768.05 L646.96,768.36 L647.60,768.63 L648.24,768.87 L648.88,769.08 L649.52,769.27 L650.16,769.43 L650.80,769.57 L651.44,769.69 L652.08,769.80 L652.72,769.89 L653.36,769.97 L654.00,770.04 L654.64,770.10 L655.28,770.14 L655.92,770.18 L656.56,770.22 L657.20,770.25 L657.84,770.27 L658.49,770.29 L659.13,770.31 L659.77,770.32 L660.41,770.33 L661.05,770.34 L661.69,770.35 L662.33,770.36 L662.97,770.36 L663.61,770.37 L664.25,770.37 L664.89,770.37 L665.53,770.37 L666.17,770.37 L666.81,770.38 L667.45,770.38 L668.09,770.38 L668.73,770.38 L669.37,770.38 L670.01,770.38 L670.65,770.38 L671.30,770.38 L671.94,770.38 L672.58,770.38 L673.22,770.38 L673.86,770.38 L674.50,770.38 L675.14,770.38 L675.78,770.38 L676.42,770.38 L677.06,770.38 L677.70,770.38" fill="none" stroke="#000" stroke-width="0.9" clip-path="url(#c53)"/>
<rect x="549.6" y="692.35" width="128.1" height="95.1" fill="none" stroke="#333" stroke-width="0.9"/>
<path d="M556.53,787.45 v-2.8 M556.53,692.35 v2.8 M563.67,787.45 v-1.4 M563.67,692.35 v1.4 M570.81,787.45 v-1.4 M570.81,692.35 v1.4 M577.95,787.45 v-1.4 M577.95,692.35 v1.4 M585.09,787.45 v-1.4 M585.09,692.35 v1.4 M592.23,787.45 v-2.8 M592.23,692.35 v2.8 M599.37,787.45 v-1.4 M599.37,692.35 v1.4 M606.51,787.45 v-1.4 M606.51,692.35 v1.4 M613.65,787.45 v-1.4 M613.65,692.35 v1.4 M620.79,787.45 v-1.4 M620.79,692.35 v1.4 M627.93,787.45 v-2.8 M627.93,692.35 v2.8 M635.07,787.45 v-1.4 M635.07,692.35 v1.4 M642.21,787.45 v-1.4 M642.21,692.35 v1.4 M649.35,787.45 v-1.4 M649.35,692.35 v1.4 M656.49,787.45 v-1.4 M656.49,692.35 v1.4 M663.63,787.45 v-2.8 M663.63,692.35 v2.8 M670.77,787.45 v-1.4 M670.77,692.35 v1.4 M549.6,785.01 h1.4 M677.7,785.01 h-1.4 M549.6,780.13 h1.4 M677.7,780.13 h-1.4 M549.6,775.26 h1.4 M677.7,775.26 h-1.4 M549.6,770.38 h2.8 M677.7,770.38 h-2.8 M549.6,765.50 h1.4 M677.7,765.50 h-1.4 M549.6,760.63 h1.4 M677.7,760.63 h-1.4 M549.6,755.75 h1.4 M677.7,755.75 h-1.4 M549.6,750.87 h1.4 M677.7,750.87 h-1.4 M549.6,746.00 h2.8 M677.7,746.00 h-2.8 M549.6,741.12 h1.4 M677.7,741.12 h-1.4 M549.6,736.24 h1.4 M677.7,736.24 h-1.4 M549.6,731.37 h1.4 M677.7,731.37 h-1.4 M549.6,726.49 h1.4 M677.7,726.49 h-1.4 M549.6,721.61 h2.8 M677.7,721.61 h-2.8 M549.6,716.73 h1.4 M677.7,716.73 h-1.4 M549.6,711.86 h1.4 M677.7,711.86 h-1.4 M549.6,706.98 h1.4 M677.7,706.98 h-1.4 M549.6,702.10 h1.4 M677.7,702.10 h-1.4 M549.6,697.23 h2.8 M677.7,697.23 h-2.8 M549.6,692.35 h1.4 M677.7,692.35 h-1.4" stroke="#333" stroke-width="0.95" fill="none"/>
<text transform="matrix(1,0.0005,0,1,0,-0.2734)" x="547.04 551.03 555.21 559.51" y="795.65" font-size="6.90">4×10</text>
<text transform="matrix(1,0.0005,0,1,0,-0.2818)" x="563.61" y="792.45" font-size="4.69">4</text>
<text transform="matrix(1,0.0005,0,1,0,-0.2886)" x="577.36 581.55 583.81 588.11 592.10 596.28 600.58" y="795.65" font-size="6.90">4.05×10</text>
<text transform="matrix(1,0.0005,0,1,0,-0.3023)" x="604.68" y="792.45" font-size="4.69">4</text>
<text transform="matrix(1,0.0005,0,1,0,-0.3075)" x="615.21 619.40 621.66 625.65 629.83 634.13" y="795.65" font-size="6.90">4.1×10</text>
<text transform="matrix(1,0.0005,0,1,0,-0.3191)" x="638.23" y="792.45" font-size="4.69">4</text>
<text transform="matrix(1,0.0005,0,1,0,-0.3243)" x="648.76 652.95 655.21 659.51 663.50 667.68 671.98" y="795.65" font-size="6.90">4.15×10</text>
<text transform="matrix(1,0.0005,0,1,0,-0.3380)" x="676.08" y="792.45" font-size="4.69">4</text>
<text transform="translate(544.80,772.53) rotate(-90) matrix(1,0.0005,0,1,0,0)" x="0.23" y="0" font-size="6.90">0</text>
<text transform="translate(544.80,750.30) rotate(-90) matrix(1,0.0005,0,1,0,0)" x="0.23 4.53" y="0" font-size="6.90">10</text>
<text transform="translate(544.80,725.91) rotate(-90) matrix(1,0.0005,0,1,0,0)" x="0.23 4.53" y="0" font-size="6.90">20</text>
<text transform="translate(544.80,701.53) rotate(-90) matrix(1,0.0005,0,1,0,0)" x="0.23 4.53" y="0" font-size="6.90">30</text>
<text transform="matrix(1,0.0005,0,1,0,-0.2964)" x="592.87" y="804.05" font-size="7.00">v</text>
<text transform="matrix(1,0.0005,0,1,0,-0.2981)" x="596.43 599.63 602.91" y="807.35" font-size="4.90">opt</text>
<text transform="matrix(1,0.0005,0,1,0,-0.3037)" x="607.64 610.39 614.27 621.16 623.93" y="804.05" font-size="7.00">(km s</text>
<line x1="627.40" y1="799.75" x2="631.60" y2="799.75" stroke="#333" stroke-width="0.7"/>
<text transform="matrix(1,0.0005,0,1,0,-0.3160)" x="632.11" y="800.85" font-size="5.00">1</text>
<text transform="matrix(1,0.0005,0,1,0,-0.3171)" x="634.54" y="804.05" font-size="7.00">)</text>
<text transform="translate(532.10,757.56) rotate(-90) matrix(1,0.0005,0,1,0,0)" x="-0.25 3.85 5.52 9.50 13.74 16.70 19.58 25.58 28.94 32.68" y="0" font-size="7.00">Flux (mJy)</text>
<text transform="matrix(1,0.0005,0,1,0,-0.2788)" x="557.61 559.36 564.08 568.49 574.07 577.24 581.88 586.52 591.15 595.79 601.03 606.46 611.10 615.74 620.38 625.57 628.84 631.83 636.51 641.95 646.44 648.91 653.55 658.19 662.82 667.58" y="701.30" font-size="7.27">IRAS 10378+1108 (z=0.1365)</text>
<text transform="matrix(1,0.0005,0,1,0,-0.2803)" x="561.03 564.18 569.11 573.12 576.18 580.61 584.92 589.34 592.46 595.05 599.60 602.39 606.93" y="710.73" font-size="7.30">(1" aperture)</text>
<text transform="matrix(1,0.0005,0,1,0,-0.3154)" x="630.82 635.83 640.64" y="710.73" font-size="7.30">HCO</text>
<text transform="matrix(1,0.0005,0,1,0,-0.3230)" x="646.28" y="708.03" font-size="5.60">+</text>
<text transform="matrix(1,0.0005,0,1,0,-0.3249)" x="650.65 653.83 659.08 664.54" y="710.73" font-size="7.30"> 3−2</text>
<clipPath id="c60"><rect x="25.5" y="830.0000000000001" width="128.1" height="95.1"/></clipPath>
<line x1="25.5" y1="907.81" x2="153.6" y2="907.81" stroke="#999" stroke-width="0.6" stroke-dasharray="0.6 0.7"/>
<path d="M25.00,914.81 H26.90 V902.48 H28.41 V911.01 H30.69 V915.19 H32.58 V903.80 H34.48 V904.94 H36.75 V902.48 H39.21 V898.11 H41.68 V901.53 H43.57 V903.43 H45.85 V909.50 H47.74 V907.60 H49.64 V914.43 H51.53 V903.43 H53.43 V905.70 H55.32 V912.91 H57.22 V907.22 H59.11 V904.94 H61.01 V900.58 H62.90 V901.53 H64.80 V900.01 H66.69 V901.91 H68.59 V894.89 H70.86 V903.05 H73.89 V898.68 H75.79 V901.53 H78.06 V904.37 H80.34 V898.68 H82.23 V893.94 H84.13 V889.20 H86.02 V891.09 H87.92 V877.82 H89.81 V884.46 H91.71 V874.97 H93.60 V874.02 H95.50 V883.51 H97.39 V869.28 H99.29 V874.02 H100.80 V866.43 H103.08 V868.33 H104.97 V873.07 H106.87 V882.56 H108.76 V878.76 H110.66 V882.56 H112.55 V887.30 H114.45 V895.84 H116.34 V893.56 H118.24 V895.84 H120.70 V894.89 H122.59 V904.37 H124.49 V901.53 H126.38 V900.01 H130.17 V900.58 H132.64 V904.94 H134.53 V910.07 H136.81 V913.29 H138.70 V903.43 H140.98 V904.37 H143.44 V910.07 H145.90 V907.60 H147.80 V901.15 H149.69 V911.39 H151.59 V905.70 H155.76" fill="none" stroke="#222" stroke-width="0.85" clip-path="url(#c60)"/>
<path d="M25.50,907.81 L26.14,907.81 L26.78,907.81 L27.42,907.81 L28.06,907.81 L28.70,907.81 L29.34,907.81 L29.98,907.81 L30.62,907.81 L31.26,907.81 L31.91,907.81 L32.55,907.81 L33.19,907.81 L33.83,907.81 L34.47,907.81 L35.11,907.81 L35.75,907.81 L36.39,907.81 L37.03,907.81 L37.67,907.81 L38.31,907.81 L38.95,907.81 L39.59,907.81 L40.23,907.81 L40.87,907.81 L41.51,907.81 L42.15,907.81 L42.79,907.81 L43.43,907.81 L44.07,907.81 L44.72,907.81 L45.36,907.81 L46.00,907.81 L46.64,907.81 L47.28,907.81 L47.92,907.80 L48.56,907.80 L49.20,907.80 L49.84,907.80 L50.48,907.80 L51.12,907.79 L51.76,907.79 L52.40,907.79 L53.04,907.78 L53.68,907.78 L54.32,907.77 L54.96,907.76 L55.60,907.75 L56.24,907.74 L56.88,907.72 L57.52,907.71 L58.17,907.69 L58.81,907.66 L59.45,907.63 L60.09,907.60 L60.73,907.56 L61.37,907.52 L62.01,907.47 L62.65,907.41 L63.29,907.34 L63.93,907.26 L64.57,907.17 L65.21,907.07 L65.85,906.95 L66.49,906.82 L67.13,906.67 L67.77,906.51 L68.41,906.32 L69.05,906.11 L69.69,905.87 L70.34,905.61 L70.98,905.33 L71.62,905.01 L72.26,904.66 L72.90,904.27 L73.54,903.85 L74.18,903.39 L74.82,902.89 L75.46,902.35 L76.10,901.77 L76.74,901.15 L77.38,900.48 L78.02,899.77 L78.66,899.01 L79.30,898.21 L79.94,897.37 L80.58,896.48 L81.22,895.56 L81.86,894.59 L82.50,893.59 L83.15,892.55 L83.79,891.48 L84.43,890.39 L85.07,889.28 L85.71,888.15 L86.35,887.01 L86.99,885.87 L87.63,884.73 L88.27,883.60 L88.91,882.48 L89.55,881.38 L90.19,880.32 L90.83,879.29 L91.47,878.31 L92.11,877.38 L92.75,876.50 L93.39,875.69 L94.03,874.96 L94.67,874.30 L95.31,873.72 L95.95,873.23 L96.60,872.83 L97.24,872.53 L97.88,872.32 L98.52,872.21 L99.16,872.20 L99.80,872.29 L100.44,872.48 L101.08,872.76 L101.72,873.14 L102.36,873.62 L103.00,874.18 L103.64,874.82 L104.28,875.54 L104.92,876.34 L105.56,877.20 L106.20,878.12 L106.84,879.09 L107.48,880.11 L108.12,881.17 L108.77,882.26 L109.41,883.37 L110.05,884.51 L110.69,885.65 L111.33,886.79 L111.97,887.93 L112.61,889.06 L113.25,890.18 L113.89,891.27 L114.53,892.34 L115.17,893.39 L115.81,894.40 L116.45,895.37 L117.09,896.30 L117.73,897.20 L118.37,898.05 L119.01,898.86 L119.65,899.63 L120.29,900.35 L120.93,901.02 L121.58,901.66 L122.22,902.24 L122.86,902.79 L123.50,903.30 L124.14,903.76 L124.78,904.19 L125.42,904.58 L126.06,904.94 L126.70,905.26 L127.34,905.56 L127.98,905.83 L128.62,906.06 L129.26,906.28 L129.90,906.47 L130.54,906.64 L131.18,906.80 L131.82,906.93 L132.46,907.05 L133.10,907.15 L133.74,907.25 L134.38,907.33 L135.03,907.40 L135.67,907.46 L136.31,907.51 L136.95,907.56 L137.59,907.59 L138.23,907.63 L138.87,907.66 L139.51,907.68 L140.15,907.70 L140.79,907.72 L141.43,907.74 L142.07,907.75 L142.71,907.76 L143.35,907.77 L143.99,907.77 L144.63,907.78 L145.27,907.79 L145.91,907.79 L146.55,907.79 L147.19,907.80 L147.84,907.80 L148.48,907.80 L149.12,907.80 L149.76,907.80 L150.40,907.80 L151.04,907.81 L151.68,907.81 L152.32,907.81 L152.96,907.81 L153.60,907.81" fill="none" stroke="#000" stroke-width="0.9" clip-path="url(#c60)"/>
<rect x="25.5" y="830.0000000000001" width="128.1" height="95.1" fill="none" stroke="#333" stroke-width="0.9"/>
<path d="M32.43,925.1000000000001 v-2.8 M32.43,830.0000000000001 v2.8 M39.57,925.1000000000001 v-1.4 M39.57,830.0000000000001 v1.4 M46.71,925.1000000000001 v-1.4 M46.71,830.0000000000001 v1.4 M53.85,925.1000000000001 v-1.4 M53.85,830.0000000000001 v1.4 M60.99,925.1000000000001 v-1.4 M60.99,830.0000000000001 v1.4 M68.13,925.1000000000001 v-2.8 M68.13,830.0000000000001 v2.8 M75.27,925.1000000000001 v-1.4 M75.27,830.0000000000001 v1.4 M82.41,925.1000000000001 v-1.4 M82.41,830.0000000000001 v1.4 M89.55,925.1000000000001 v-1.4 M89.55,830.0000000000001 v1.4 M96.69,925.1000000000001 v-1.4 M96.69,830.0000000000001 v1.4 M103.83,925.1000000000001 v-2.8 M103.83,830.0000000000001 v2.8 M110.97,925.1000000000001 v-1.4 M110.97,830.0000000000001 v1.4 M118.11,925.1000000000001 v-1.4 M118.11,830.0000000000001 v1.4 M125.25,925.1000000000001 v-1.4 M125.25,830.0000000000001 v1.4 M132.39,925.1000000000001 v-1.4 M132.39,830.0000000000001 v1.4 M139.53,925.1000000000001 v-2.8 M139.53,830.0000000000001 v2.8 M146.67,925.1000000000001 v-1.4 M146.67,830.0000000000001 v1.4 M25.5,925.10 h1.4 M153.6,925.10 h-1.4 M25.5,916.45 h1.4 M153.6,916.45 h-1.4 M25.5,907.81 h2.8 M153.6,907.81 h-2.8 M25.5,899.16 h1.4 M153.6,899.16 h-1.4 M25.5,890.52 h1.4 M153.6,890.52 h-1.4 M25.5,881.87 h1.4 M153.6,881.87 h-1.4 M25.5,873.23 h1.4 M153.6,873.23 h-1.4 M25.5,864.58 h2.8 M153.6,864.58 h-2.8 M25.5,855.94 h1.4 M153.6,855.94 h-1.4 M25.5,847.29 h1.4 M153.6,847.29 h-1.4 M25.5,838.65 h1.4 M153.6,838.65 h-1.4 M25.5,830.00 h1.4 M153.6,830.00 h-1.4" stroke="#333" stroke-width="0.95" fill="none"/>
<text transform="matrix(1,0.0005,0,1,0,-0.0097)" x="19.71 23.90 26.16 30.15 34.33 38.63" y="933.30" font-size="6.90">3.1×10</text>
<text transform="matrix(1,0.0005,0,1,0,-0.0214)" x="42.73" y="930.10" font-size="4.69">4</text>
<text transform="matrix(1,0.0005,0,1,0,-0.0265)" x="53.26 57.45 59.71 64.01 68.00 72.18 76.48" y="933.30" font-size="6.90">3.15×10</text>
<text transform="matrix(1,0.0005,0,1,0,-0.0403)" x="80.58" y="930.10" font-size="4.69">4</text>
<text transform="matrix(1,0.0005,0,1,0,-0.0454)" x="91.11 95.30 97.56 101.55 105.73 110.03" y="933.30" font-size="6.90">3.2×10</text>
<text transform="matrix(1,0.0005,0,1,0,-0.0571)" x="114.13" y="930.10" font-size="4.69">4</text>
<text transform="matrix(1,0.0005,0,1,0,-0.0622)" x="124.66 128.85 131.11 135.41 139.40 143.58 147.88" y="933.30" font-size="6.90">3.25×10</text>
<text transform="matrix(1,0.0005,0,1,0,-0.0760)" x="151.98" y="930.10" font-size="4.69">4</text>
<text transform="translate(20.70,909.96) rotate(-90) matrix(1,0.0005,0,1,0,0)" x="0.23" y="0" font-size="6.90">0</text>
<text transform="translate(20.70,866.73) rotate(-90) matrix(1,0.0005,0,1,0,0)" x="0.23" y="0" font-size="6.90">5</text>
<text transform="matrix(1,0.0005,0,1,0,-0.0344)" x="68.77" y="941.70" font-size="7.00">v</text>
<text transform="matrix(1,0.0005,0,1,0,-0.0360)" x="72.33 75.53 78.81" y="945.00" font-size="4.90">opt</text>
<text transform="matrix(1,0.0005,0,1,0,-0.0416)" x="83.54 86.29 90.17 97.06 99.83" y="941.70" font-size="7.00">(km s</text>
<line x1="103.30" y1="937.40" x2="107.50" y2="937.40" stroke="#333" stroke-width="0.7"/>
<text transform="matrix(1,0.0005,0,1,0,-0.0540)" x="108.01" y="938.50" font-size="5.00">1</text>
<text transform="matrix(1,0.0005,0,1,0,-0.0551)" x="110.44" y="941.70" font-size="7.00">)</text>
<text transform="translate(8.00,909.20) rotate(-90) matrix(1,0.0005,0,1,0,0)" x="-0.25 3.85 5.52 9.50 13.74 16.70 19.58 25.58 28.94 33.08 35.78 39.67 43.56 47.74" y="0" font-size="7.00">Flux (mJy beam</text>
<line x1="2.90" y1="854.90" x2="2.90" y2="851.10" stroke="#333" stroke-width="0.7"/>
<text transform="translate(4.20,850.80) rotate(-90) matrix(1,0.0005,0,1,0,0)" x="0.11" y="0" font-size="5.00">1</text>
<text transform="translate(8.00,848.00) rotate(-90) matrix(1,0.0005,0,1,0,0)" x="0.31" y="0" font-size="7.00">)</text>
<text transform="matrix(1,0.0005,0,1,0,-0.0147)" x="29.24 30.92 35.47 39.71 45.10 48.14 52.61 57.07 61.54 66.01 71.05 76.28 80.75 85.21 89.68 94.67 97.36 102.13 107.40 110.56 113.44 117.94 123.18 127.50 129.88 134.34 138.81 143.28 147.85" y="838.44" font-size="7.00">IRAS 11095−0238 NE (z=0.1066)</text>
<text transform="matrix(1,0.0005,0,1,0,-0.0545)" x="109.00 114.01 119.02 125.07 128.25 133.50 138.97" y="848.05" font-size="7.30">HCN 3−2</text>
<clipPath id="c61"><rect x="200.4" y="830.0000000000001" width="128.1" height="95.1"/></clipPath>
<line x1="200.4" y1="907.81" x2="328.5" y2="907.81" stroke="#999" stroke-width="0.6" stroke-dasharray="0.6 0.7"/>
<path d="M200.00,901.53 H201.52 V905.70 H203.41 V916.33 H205.31 V905.70 H207.20 V904.94 H209.10 V901.91 H210.42 V900.58 H212.32 V899.25 H214.21 V912.53 H216.11 V905.70 H218.00 V907.22 H219.90 V901.91 H221.79 V903.80 H224.26 V904.37 H226.53 V912.91 H228.43 V903.43 H229.94 V898.68 H232.59 V907.22 H234.49 V908.74 H236.95 V912.91 H238.85 V903.43 H240.74 V908.17 H242.64 V911.01 H244.53 V908.17 H247.00 V906.84 H248.89 V905.32 H250.79 V912.53 H252.68 V904.37 H254.96 V897.36 H256.85 V898.68 H259.69 V904.37 H261.02 V893.94 H262.92 V899.25 H264.43 V901.53 H266.33 V896.22 H268.60 V892.99 H270.50 V892.04 H272.96 V891.66 H274.85 V892.42 H278.08 V885.97 H279.97 V895.46 H281.87 V891.09 H283.76 V892.04 H285.66 V885.40 H287.55 V897.36 H290.01 V900.58 H292.86 V905.70 H294.75 V902.48 H297.03 V895.84 H298.54 V905.70 H300.44 V900.01 H302.33 V905.70 H304.61 V894.32 H308.40 V911.01 H309.91 V901.15 H311.81 V903.43 H313.70 V910.07 H315.98 V908.17 H317.87 V897.36 H319.77 V906.84 H322.80 V897.36 H325.07 V909.12 H327.35 V905.70 H330.76" fill="none" stroke="#222" stroke-width="0.85" clip-path="url(#c61)"/>
<path d="M200.40,907.81 L201.04,907.81 L201.68,907.81 L202.32,907.81 L202.96,907.81 L203.60,907.81 L204.24,907.81 L204.88,907.81 L205.52,907.81 L206.16,907.81 L206.81,907.81 L207.45,907.81 L208.09,907.81 L208.73,907.81 L209.37,907.81 L210.01,907.81 L210.65,907.81 L211.29,907.81 L211.93,907.81 L212.57,907.81 L213.21,907.81 L213.85,907.81 L214.49,907.81 L215.13,907.81 L215.77,907.81 L216.41,907.81 L217.05,907.81 L217.69,907.81 L218.33,907.81 L218.97,907.80 L219.62,907.80 L220.26,907.80 L220.90,907.80 L221.54,907.80 L222.18,907.80 L222.82,907.80 L223.46,907.79 L224.10,907.79 L224.74,907.79 L225.38,907.79 L226.02,907.78 L226.66,907.78 L227.30,907.77 L227.94,907.77 L228.58,907.76 L229.22,907.75 L229.86,907.74 L230.50,907.73 L231.14,907.72 L231.78,907.71 L232.43,907.69 L233.07,907.67 L233.71,907.65 L234.35,907.63 L234.99,907.61 L235.63,907.58 L236.27,907.55 L236.91,907.51 L237.55,907.47 L238.19,907.43 L238.83,907.38 L239.47,907.33 L240.11,907.27 L240.75,907.20 L241.39,907.13 L242.03,907.05 L242.67,906.96 L243.31,906.86 L243.95,906.76 L244.59,906.65 L245.24,906.52 L245.88,906.39 L246.52,906.24 L247.16,906.09 L247.80,905.92 L248.44,905.74 L249.08,905.54 L249.72,905.34 L250.36,905.11 L251.00,904.88 L251.64,904.63 L252.28,904.36 L252.92,904.08 L253.56,903.79 L254.20,903.47 L254.84,903.15 L255.48,902.81 L256.12,902.45 L256.76,902.08 L257.40,901.70 L258.05,901.30 L258.69,900.89 L259.33,900.47 L259.97,900.03 L260.61,899.59 L261.25,899.14 L261.89,898.68 L262.53,898.21 L263.17,897.74 L263.81,897.27 L264.45,896.79 L265.09,896.32 L265.73,895.84 L266.37,895.38 L267.01,894.91 L267.65,894.46 L268.29,894.02 L268.93,893.59 L269.57,893.17 L270.21,892.77 L270.86,892.39 L271.50,892.02 L272.14,891.68 L272.78,891.37 L273.42,891.08 L274.06,890.81 L274.70,890.58 L275.34,890.38 L275.98,890.20 L276.62,890.06 L277.26,889.95 L277.90,889.88 L278.54,889.84 L279.18,889.83 L279.82,889.85 L280.46,889.92 L281.10,890.01 L281.74,890.14 L282.38,890.30 L283.02,890.49 L283.67,890.71 L284.31,890.96 L284.95,891.24 L285.59,891.54 L286.23,891.87 L286.87,892.23 L287.51,892.60 L288.15,892.99 L288.79,893.40 L289.43,893.83 L290.07,894.27 L290.71,894.72 L291.35,895.17 L291.99,895.64 L292.63,896.11 L293.27,896.59 L293.91,897.06 L294.55,897.53 L295.19,898.01 L295.83,898.48 L296.48,898.94 L297.12,899.39 L297.76,899.84 L298.40,900.28 L299.04,900.71 L299.68,901.12 L300.32,901.53 L300.96,901.92 L301.60,902.29 L302.24,902.66 L302.88,903.00 L303.52,903.34 L304.16,903.65 L304.80,903.96 L305.44,904.24 L306.08,904.51 L306.72,904.77 L307.36,905.01 L308.00,905.24 L308.64,905.46 L309.29,905.66 L309.93,905.84 L310.57,906.02 L311.21,906.18 L311.85,906.33 L312.49,906.47 L313.13,906.59 L313.77,906.71 L314.41,906.82 L315.05,906.92 L315.69,907.01 L316.33,907.09 L316.97,907.17 L317.61,907.24 L318.25,907.30 L318.89,907.36 L319.53,907.41 L320.17,907.45 L320.81,907.49 L321.45,907.53 L322.10,907.56 L322.74,907.59 L323.38,907.62 L324.02,907.64 L324.66,907.66 L325.30,907.68 L325.94,907.70 L326.58,907.71 L327.22,907.73 L327.86,907.74 L328.50,907.75" fill="none" stroke="#000" stroke-width="0.9" clip-path="url(#c61)"/>
<rect x="200.4" y="830.0000000000001" width="128.1" height="95.1" fill="none" stroke="#333" stroke-width="0.9"/>
<path d="M207.33,925.1000000000001 v-2.8 M207.33,830.0000000000001 v2.8 M214.47,925.1000000000001 v-1.4 M214.47,830.0000000000001 v1.4 M221.61,925.1000000000001 v-1.4 M221.61,830.0000000000001 v1.4 M228.75,925.1000000000001 v-1.4 M228.75,830.0000000000001 v1.4 M235.89,925.1000000000001 v-1.4 M235.89,830.0000000000001 v1.4 M243.03,925.1000000000001 v-2.8 M243.03,830.0000000000001 v2.8 M250.17,925.1000000000001 v-1.4 M250.17,830.0000000000001 v1.4 M257.31,925.1000000000001 v-1.4 M257.31,830.0000000000001 v1.4 M264.45,925.1000000000001 v-1.4 M264.45,830.0000000000001 v1.4 M271.59,925.1000000000001 v-1.4 M271.59,830.0000000000001 v1.4 M278.73,925.1000000000001 v-2.8 M278.73,830.0000000000001 v2.8 M285.87,925.1000000000001 v-1.4 M285.87,830.0000000000001 v1.4 M293.01,925.1000000000001 v-1.4 M293.01,830.0000000000001 v1.4 M300.15,925.1000000000001 v-1.4 M300.15,830.0000000000001 v1.4 M307.29,925.1000000000001 v-1.4 M307.29,830.0000000000001 v1.4 M314.43,925.1000000000001 v-2.8 M314.43,830.0000000000001 v2.8 M321.57,925.1000000000001 v-1.4 M321.57,830.0000000000001 v1.4 M200.4,925.10 h1.4 M328.5,925.10 h-1.4 M200.4,916.45 h1.4 M328.5,916.45 h-1.4 M200.4,907.81 h2.8 M328.5,907.81 h-2.8 M200.4,899.16 h1.4 M328.5,899.16 h-1.4 M200.4,890.52 h1.4 M328.5,890.52 h-1.4 M200.4,881.87 h1.4 M328.5,881.87 h-1.4 M200.4,873.23 h1.4 M328.5,873.23 h-1.4 M200.4,864.58 h2.8 M328.5,864.58 h-2.8 M200.4,855.94 h1.4 M328.5,855.94 h-1.4 M200.4,847.29 h1.4 M328.5,847.29 h-1.4 M200.4,838.65 h1.4 M328.5,838.65 h-1.4 M200.4,830.00 h1.4 M328.5,830.00 h-1.4" stroke="#333" stroke-width="0.95" fill="none"/>
<text transform="matrix(1,0.0005,0,1,0,-0.0972)" x="194.61 198.80 201.06 205.05 209.23 213.53" y="933.30" font-size="6.90">3.1×10</text>
<text transform="matrix(1,0.0005,0,1,0,-0.1088)" x="217.63" y="930.10" font-size="4.69">4</text>
<text transform="matrix(1,0.0005,0,1,0,-0.1140)" x="228.16 232.35 234.61 238.91 242.90 247.08 251.38" y="933.30" font-size="6.90">3.15×10</text>
<text transform="matrix(1,0.0005,0,1,0,-0.1277)" x="255.48" y="930.10" font-size="4.69">4</text>
<text transform="matrix(1,0.0005,0,1,0,-0.1329)" x="266.01 270.20 272.46 276.45 280.63 284.93" y="933.30" font-size="6.90">3.2×10</text>
<text transform="matrix(1,0.0005,0,1,0,-0.1445)" x="289.03" y="930.10" font-size="4.69">4</text>
<text transform="matrix(1,0.0005,0,1,0,-0.1497)" x="299.56 303.75 306.01 310.31 314.30 318.48 322.78" y="933.30" font-size="6.90">3.25×10</text>
<text transform="matrix(1,0.0005,0,1,0,-0.1634)" x="326.88" y="930.10" font-size="4.69">4</text>
<text transform="translate(195.60,909.96) rotate(-90) matrix(1,0.0005,0,1,0,0)" x="0.23" y="0" font-size="6.90">0</text>
<text transform="translate(195.60,866.73) rotate(-90) matrix(1,0.0005,0,1,0,0)" x="0.23" y="0" font-size="6.90">5</text>
<text transform="matrix(1,0.0005,0,1,0,-0.1218)" x="243.67" y="941.70" font-size="7.00">v</text>
<text transform="matrix(1,0.0005,0,1,0,-0.1235)" x="247.23 250.43 253.71" y="945.00" font-size="4.90">opt</text>
<text transform="matrix(1,0.0005,0,1,0,-0.1291)" x="258.44 261.19 265.07 271.96 274.73" y="941.70" font-size="7.00">(km s</text>
<line x1="278.20" y1="937.40" x2="282.40" y2="937.40" stroke="#333" stroke-width="0.7"/>
<text transform="matrix(1,0.0005,0,1,0,-0.1414)" x="282.91" y="938.50" font-size="5.00">1</text>
<text transform="matrix(1,0.0005,0,1,0,-0.1425)" x="285.34" y="941.70" font-size="7.00">)</text>
<text transform="translate(182.90,909.20) rotate(-90) matrix(1,0.0005,0,1,0,0)" x="-0.25 3.85 5.52 9.50 13.74 16.70 19.58 25.58 28.94 33.08 35.78 39.67 43.56 47.74" y="0" font-size="7.00">Flux (mJy beam</text>
<line x1="177.80" y1="854.90" x2="177.80" y2="851.10" stroke="#333" stroke-width="0.7"/>
<text transform="translate(179.10,850.80) rotate(-90) matrix(1,0.0005,0,1,0,0)" x="0.11" y="0" font-size="5.00">1</text>
<text transform="translate(182.90,848.00) rotate(-90) matrix(1,0.0005,0,1,0,0)" x="0.31" y="0" font-size="7.00">)</text>
<text transform="matrix(1,0.0005,0,1,0,-0.1021)" x="204.14 205.82 210.37 214.61 220.00 223.04 227.51 231.97 236.44 240.91 245.95 251.18 255.65 260.11 264.58 269.57 272.26 277.03 282.30 285.46 288.34 292.84 298.08 302.40 304.78 309.24 313.71 318.18 322.75" y="838.44" font-size="7.00">IRAS 11095−0238 NE (z=0.1066)</text>
<text transform="matrix(1,0.0005,0,1,0,-0.1408)" x="281.62 286.63 291.44" y="848.05" font-size="7.30">HCO</text>
<text transform="matrix(1,0.0005,0,1,0,-0.1484)" x="297.08" y="845.35" font-size="5.60">+</text>
<text transform="matrix(1,0.0005,0,1,0,-0.1503)" x="301.45 304.63 309.88 315.34" y="848.05" font-size="7.30"> 3−2</text>
<clipPath id="c62"><rect x="374.6" y="830.0000000000001" width="128.1" height="95.1"/></clipPath>
<line x1="374.6" y1="891.38" x2="502.70000000000005" y2="891.38" stroke="#999" stroke-width="0.6" stroke-dasharray="0.6 0.7"/>
<path d="M374.00,879.71 H375.90 V887.30 H378.17 V878.76 H380.06 V889.20 H382.53 V885.40 H384.42 V910.07 H386.89 V891.09 H388.78 V885.97 H391.06 V885.40 H393.90 V895.84 H396.74 V903.05 H398.64 V896.79 H400.53 V887.30 H402.43 V873.45 H404.32 V901.53 H406.22 V898.68 H407.73 V876.49 H410.01 V895.84 H411.90 V881.61 H413.80 V880.66 H416.64 V887.30 H417.97 V879.71 H419.48 V891.09 H421.38 V893.94 H423.65 V905.32 H425.55 V894.89 H427.44 V892.04 H429.34 V862.64 H431.23 V880.66 H433.69 V874.97 H435.02 V874.02 H437.48 V856.00 H439.38 V867.38 H441.27 V875.92 H443.17 V860.74 H445.06 V864.54 H446.96 V872.12 H448.85 V871.18 H450.75 V869.28 H452.64 V871.18 H454.54 V884.46 H456.43 V870.23 H458.33 V858.28 H460.22 V879.71 H462.12 V875.92 H464.01 V881.61 H465.91 V874.97 H467.24 V887.30 H469.70 V882.56 H471.59 V874.97 H473.49 V883.51 H475.38 V887.87 H477.85 V879.71 H479.74 V878.38 H481.64 V907.22 H483.53 V878.38 H485.81 V884.46 H487.70 V883.51 H489.60 V909.12 H491.11 V895.84 H493.01 V891.09 H495.28 V890.15 H497.18 V882.56 H499.07 V920.50 H500.59 V901.53 H504.76" fill="none" stroke="#222" stroke-width="0.85" clip-path="url(#c62)"/>
<path d="M374.60,891.38 L375.24,891.38 L375.88,891.38 L376.52,891.37 L377.16,891.37 L377.80,891.37 L378.44,891.37 L379.08,891.37 L379.72,891.37 L380.36,891.37 L381.00,891.37 L381.65,891.37 L382.29,891.37 L382.93,891.37 L383.57,891.37 L384.21,891.37 L384.85,891.37 L385.49,891.37 L386.13,891.37 L386.77,891.37 L387.41,891.37 L388.05,891.36 L388.69,891.36 L389.33,891.36 L389.97,891.36 L390.61,891.36 L391.25,891.35 L391.89,891.35 L392.53,891.34 L393.17,891.34 L393.81,891.33 L394.46,891.33 L395.10,891.32 L395.74,891.31 L396.38,891.30 L397.02,891.29 L397.66,891.28 L398.30,891.26 L398.94,891.25 L399.58,891.23 L400.22,891.21 L400.86,891.19 L401.50,891.16 L402.14,891.13 L402.78,891.10 L403.42,891.07 L404.06,891.03 L404.70,890.98 L405.34,890.94 L405.98,890.88 L406.62,890.82 L407.27,890.76 L407.91,890.69 L408.55,890.61 L409.19,890.53 L409.83,890.44 L410.47,890.33 L411.11,890.22 L411.75,890.10 L412.39,889.98 L413.03,889.84 L413.67,889.68 L414.31,889.52 L414.95,889.35 L415.59,889.16 L416.23,888.96 L416.87,888.74 L417.51,888.51 L418.15,888.27 L418.79,888.00 L419.44,887.73 L420.08,887.44 L420.72,887.13 L421.36,886.80 L422.00,886.46 L422.64,886.10 L423.28,885.73 L423.92,885.34 L424.56,884.93 L425.20,884.51 L425.84,884.07 L426.48,883.61 L427.12,883.14 L427.76,882.66 L428.40,882.16 L429.04,881.65 L429.68,881.13 L430.32,880.60 L430.96,880.07 L431.60,879.52 L432.25,878.97 L432.89,878.42 L433.53,877.86 L434.17,877.30 L434.81,876.74 L435.45,876.19 L436.09,875.64 L436.73,875.10 L437.37,874.57 L438.01,874.05 L438.65,873.55 L439.29,873.06 L439.93,872.59 L440.57,872.13 L441.21,871.70 L441.85,871.30 L442.49,870.92 L443.13,870.56 L443.77,870.24 L444.41,869.95 L445.06,869.69 L445.70,869.46 L446.34,869.26 L446.98,869.11 L447.62,868.98 L448.26,868.90 L448.90,868.85 L449.54,868.84 L450.18,868.87 L450.82,868.93 L451.46,869.03 L452.10,869.17 L452.74,869.34 L453.38,869.55 L454.02,869.79 L454.66,870.07 L455.30,870.38 L455.94,870.71 L456.58,871.08 L457.22,871.47 L457.87,871.89 L458.51,872.33 L459.15,872.79 L459.79,873.27 L460.43,873.77 L461.07,874.28 L461.71,874.80 L462.35,875.34 L462.99,875.88 L463.63,876.43 L464.27,876.98 L464.91,877.54 L465.55,878.10 L466.19,878.66 L466.83,879.21 L467.47,879.76 L468.11,880.30 L468.75,880.83 L469.39,881.36 L470.03,881.87 L470.68,882.38 L471.32,882.87 L471.96,883.35 L472.60,883.81 L473.24,884.26 L473.88,884.69 L474.52,885.11 L475.16,885.51 L475.80,885.89 L476.44,886.26 L477.08,886.61 L477.72,886.95 L478.36,887.26 L479.00,887.57 L479.64,887.85 L480.28,888.12 L480.92,888.37 L481.56,888.61 L482.20,888.84 L482.84,889.04 L483.49,889.24 L484.13,889.42 L484.77,889.59 L485.41,889.75 L486.05,889.90 L486.69,890.03 L487.33,890.16 L487.97,890.27 L488.61,890.38 L489.25,890.48 L489.89,890.57 L490.53,890.65 L491.17,890.72 L491.81,890.79 L492.45,890.85 L493.09,890.91 L493.73,890.96 L494.37,891.00 L495.01,891.04 L495.65,891.08 L496.30,891.12 L496.94,891.15 L497.58,891.17 L498.22,891.20 L498.86,891.22 L499.50,891.24 L500.14,891.25 L500.78,891.27 L501.42,891.28 L502.06,891.29 L502.70,891.30" fill="none" stroke="#000" stroke-width="0.9" clip-path="url(#c62)"/>
<rect x="374.6" y="830.0000000000001" width="128.1" height="95.1" fill="none" stroke="#333" stroke-width="0.9"/>
<path d="M381.53,925.1000000000001 v-2.8 M381.53,830.0000000000001 v2.8 M388.67,925.1000000000001 v-1.4 M388.67,830.0000000000001 v1.4 M395.81,925.1000000000001 v-1.4 M395.81,830.0000000000001 v1.4 M402.95,925.1000000000001 v-1.4 M402.95,830.0000000000001 v1.4 M410.09,925.1000000000001 v-1.4 M410.09,830.0000000000001 v1.4 M417.23,925.1000000000001 v-2.8 M417.23,830.0000000000001 v2.8 M424.37,925.1000000000001 v-1.4 M424.37,830.0000000000001 v1.4 M431.51,925.1000000000001 v-1.4 M431.51,830.0000000000001 v1.4 M438.65,925.1000000000001 v-1.4 M438.65,830.0000000000001 v1.4 M445.79,925.1000000000001 v-1.4 M445.79,830.0000000000001 v1.4 M452.93,925.1000000000001 v-2.8 M452.93,830.0000000000001 v2.8 M460.07,925.1000000000001 v-1.4 M460.07,830.0000000000001 v1.4 M467.21,925.1000000000001 v-1.4 M467.21,830.0000000000001 v1.4 M474.35,925.1000000000001 v-1.4 M474.35,830.0000000000001 v1.4 M481.49,925.1000000000001 v-1.4 M481.49,830.0000000000001 v1.4 M488.63,925.1000000000001 v-2.8 M488.63,830.0000000000001 v2.8 M495.77,925.1000000000001 v-1.4 M495.77,830.0000000000001 v1.4 M374.6,923.34 h2.8 M502.70000000000005,923.34 h-2.8 M374.6,907.36 h1.4 M502.70000000000005,907.36 h-1.4 M374.6,891.38 h2.8 M502.70000000000005,891.38 h-2.8 M374.6,875.39 h1.4 M502.70000000000005,875.39 h-1.4 M374.6,859.41 h2.8 M502.70000000000005,859.41 h-2.8 M374.6,843.43 h1.4 M502.70000000000005,843.43 h-1.4" stroke="#333" stroke-width="0.95" fill="none"/>
<text transform="matrix(1,0.0005,0,1,0,-0.1843)" x="368.81 373.00 375.26 379.25 383.43 387.73" y="933.30" font-size="6.90">3.1×10</text>
<text transform="matrix(1,0.0005,0,1,0,-0.1959)" x="391.83" y="930.10" font-size="4.69">4</text>
<text transform="matrix(1,0.0005,0,1,0,-0.2011)" x="402.36 406.55 408.81 413.11 417.10 421.28 425.58" y="933.30" font-size="6.90">3.15×10</text>
<text transform="matrix(1,0.0005,0,1,0,-0.2148)" x="429.68" y="930.10" font-size="4.69">4</text>
<text transform="matrix(1,0.0005,0,1,0,-0.2200)" x="440.21 444.40 446.66 450.65 454.83 459.13" y="933.30" font-size="6.90">3.2×10</text>
<text transform="matrix(1,0.0005,0,1,0,-0.2316)" x="463.23" y="930.10" font-size="4.69">4</text>
<text transform="matrix(1,0.0005,0,1,0,-0.2368)" x="473.76 477.95 480.21 484.51 488.50 492.68 496.98" y="933.30" font-size="6.90">3.25×10</text>
<text transform="matrix(1,0.0005,0,1,0,-0.2505)" x="501.08" y="930.10" font-size="4.69">4</text>
<text transform="translate(369.80,930.44) rotate(-90) matrix(1,0.0005,0,1,0,0)" x="0.78 5.82 10.12" y="0" font-size="6.90">−20</text>
<text transform="translate(369.80,893.53) rotate(-90) matrix(1,0.0005,0,1,0,0)" x="0.23" y="0" font-size="6.90">0</text>
<text transform="translate(369.80,863.71) rotate(-90) matrix(1,0.0005,0,1,0,0)" x="0.23 4.53" y="0" font-size="6.90">20</text>
<text transform="matrix(1,0.0005,0,1,0,-0.2090)" x="417.87" y="941.70" font-size="7.00">v</text>
<text transform="matrix(1,0.0005,0,1,0,-0.2106)" x="421.43 424.63 427.91" y="945.00" font-size="4.90">opt</text>
<text transform="matrix(1,0.0005,0,1,0,-0.2162)" x="432.64 435.39 439.27 446.16 448.93" y="941.70" font-size="7.00">(km s</text>
<line x1="452.40" y1="937.40" x2="456.60" y2="937.40" stroke="#333" stroke-width="0.7"/>
<text transform="matrix(1,0.0005,0,1,0,-0.2285)" x="457.11" y="938.50" font-size="5.00">1</text>
<text transform="matrix(1,0.0005,0,1,0,-0.2296)" x="459.54" y="941.70" font-size="7.00">)</text>
<text transform="translate(357.10,895.21) rotate(-90) matrix(1,0.0005,0,1,0,0)" x="-0.25 3.85 5.52 9.50 13.74 16.70 19.58 25.58 28.94 32.68" y="0" font-size="7.00">Flux (mJy)</text>
<text transform="matrix(1,0.0005,0,1,0,-0.1912)" x="382.35 384.11 388.85 393.28 398.89 402.07 406.73 411.39 416.05 420.71 425.97 431.43 436.09 440.75 445.41 450.62 453.91 456.91 461.62 467.08 471.59 474.06 478.72 483.38 488.04 492.82" y="838.44" font-size="7.30">IRAS 11095−0238 (z=0.1066)</text>
<text transform="matrix(1,0.0005,0,1,0,-0.1911)" x="382.54 385.69 390.20 392.68 397.60 401.61 404.68 409.10 413.41 417.84 420.95 423.55 428.09 430.89 435.43" y="848.05" font-size="7.30">(1.5" aperture)</text>
<text transform="matrix(1,0.0005,0,1,0,-0.2291)" x="458.10 463.11 468.12 474.17 477.35 482.60 488.07" y="848.05" font-size="7.30">HCN 3−2</text>
<clipPath id="c63"><rect x="549.6" y="830.0000000000001" width="128.1" height="95.1"/></clipPath>
<line x1="549.6" y1="891.38" x2="677.7" y2="891.38" stroke="#999" stroke-width="0.6" stroke-dasharray="0.6 0.7"/>
<path d="M549.00,886.35 H550.90 V899.63 H552.41 V890.15 H554.31 V901.53 H556.58 V892.99 H558.10 V876.49 H560.75 V893.94 H562.27 V876.49 H564.54 V895.84 H566.06 V880.66 H567.95 V892.04 H569.47 V897.73 H571.36 V892.04 H573.26 V887.87 H575.53 V923.34 H577.05 V892.04 H578.94 V904.37 H580.27 V889.20 H581.59 V906.27 H583.49 V888.25 H585.38 V906.27 H586.90 V901.53 H588.80 V873.45 H591.07 V874.97 H592.97 V879.71 H594.48 V906.27 H596.38 V881.61 H598.65 V884.08 H600.55 V882.56 H602.44 V867.00 H604.34 V874.97 H605.85 V870.23 H607.75 V880.66 H609.64 V873.07 H611.54 V881.61 H613.81 V876.87 H615.71 V857.90 H618.17 V879.71 H620.06 V869.28 H621.96 V879.71 H624.42 V859.79 H626.32 V856.00 H628.21 V874.97 H630.11 V881.61 H632.00 V880.66 H633.90 V872.69 H636.17 V884.46 H638.07 V883.51 H639.58 V891.09 H641.86 V884.46 H643.75 V879.71 H646.03 V896.79 H647.92 V889.77 H650.38 V894.89 H653.23 V882.94 H657.02 V904.37 H658.91 V881.04 H661.19 V882.56 H663.65 V890.53 H665.55 V894.89 H667.44 V904.37 H669.34 V891.09 H671.23 V896.79 H673.13 V882.56 H675.02 V897.73 H679.76" fill="none" stroke="#222" stroke-width="0.85" clip-path="url(#c63)"/>
<path d="M549.60,891.38 L550.24,891.38 L550.88,891.38 L551.52,891.38 L552.16,891.38 L552.80,891.38 L553.44,891.38 L554.08,891.37 L554.72,891.37 L555.36,891.37 L556.00,891.37 L556.65,891.37 L557.29,891.37 L557.93,891.37 L558.57,891.37 L559.21,891.37 L559.85,891.37 L560.49,891.37 L561.13,891.37 L561.77,891.37 L562.41,891.37 L563.05,891.37 L563.69,891.37 L564.33,891.36 L564.97,891.36 L565.61,891.36 L566.25,891.36 L566.89,891.35 L567.53,891.35 L568.17,891.35 L568.82,891.34 L569.46,891.33 L570.10,891.33 L570.74,891.32 L571.38,891.31 L572.02,891.30 L572.66,891.29 L573.30,891.27 L573.94,891.26 L574.58,891.24 L575.22,891.22 L575.86,891.19 L576.50,891.17 L577.14,891.14 L577.78,891.10 L578.42,891.07 L579.06,891.02 L579.70,890.98 L580.34,890.92 L580.98,890.86 L581.62,890.80 L582.27,890.73 L582.91,890.65 L583.55,890.56 L584.19,890.46 L584.83,890.35 L585.47,890.23 L586.11,890.10 L586.75,889.96 L587.39,889.81 L588.03,889.64 L588.67,889.46 L589.31,889.26 L589.95,889.05 L590.59,888.82 L591.23,888.58 L591.87,888.31 L592.51,888.03 L593.15,887.73 L593.79,887.42 L594.44,887.08 L595.08,886.72 L595.72,886.34 L596.36,885.95 L597.00,885.53 L597.64,885.09 L598.28,884.63 L598.92,884.16 L599.56,883.66 L600.20,883.15 L600.84,882.62 L601.48,882.07 L602.12,881.51 L602.76,880.94 L603.40,880.36 L604.04,879.76 L604.68,879.16 L605.32,878.55 L605.96,877.93 L606.60,877.32 L607.25,876.70 L607.89,876.09 L608.53,875.48 L609.17,874.88 L609.81,874.29 L610.45,873.71 L611.09,873.16 L611.73,872.61 L612.37,872.10 L613.01,871.60 L613.65,871.13 L614.29,870.70 L614.93,870.29 L615.57,869.92 L616.21,869.58 L616.85,869.28 L617.49,869.02 L618.13,868.81 L618.77,868.63 L619.41,868.50 L620.06,868.41 L620.70,868.36 L621.34,868.37 L621.98,868.41 L622.62,868.50 L623.26,868.64 L623.90,868.81 L624.54,869.03 L625.18,869.30 L625.82,869.60 L626.46,869.93 L627.10,870.31 L627.74,870.72 L628.38,871.16 L629.02,871.63 L629.66,872.12 L630.30,872.64 L630.94,873.18 L631.58,873.74 L632.22,874.32 L632.87,874.91 L633.51,875.51 L634.15,876.12 L634.79,876.73 L635.43,877.35 L636.07,877.96 L636.71,878.58 L637.35,879.19 L637.99,879.79 L638.63,880.38 L639.27,880.97 L639.91,881.54 L640.55,882.10 L641.19,882.65 L641.83,883.18 L642.47,883.69 L643.11,884.18 L643.75,884.66 L644.39,885.11 L645.03,885.55 L645.68,885.97 L646.32,886.36 L646.96,886.74 L647.60,887.10 L648.24,887.43 L648.88,887.75 L649.52,888.05 L650.16,888.33 L650.80,888.59 L651.44,888.83 L652.08,889.06 L652.72,889.27 L653.36,889.47 L654.00,889.65 L654.64,889.82 L655.28,889.97 L655.92,890.11 L656.56,890.24 L657.20,890.36 L657.84,890.46 L658.49,890.56 L659.13,890.65 L659.77,890.73 L660.41,890.80 L661.05,890.87 L661.69,890.93 L662.33,890.98 L662.97,891.03 L663.61,891.07 L664.25,891.11 L664.89,891.14 L665.53,891.17 L666.17,891.20 L666.81,891.22 L667.45,891.24 L668.09,891.26 L668.73,891.27 L669.37,891.29 L670.01,891.30 L670.65,891.31 L671.30,891.32 L671.94,891.33 L672.58,891.33 L673.22,891.34 L673.86,891.35 L674.50,891.35 L675.14,891.35 L675.78,891.36 L676.42,891.36 L677.06,891.36 L677.70,891.36" fill="none" stroke="#000" stroke-width="0.9" clip-path="url(#c63)"/>
<rect x="549.6" y="830.0000000000001" width="128.1" height="95.1" fill="none" stroke="#333" stroke-width="0.9"/>
<path d="M556.53,925.1000000000001 v-2.8 M556.53,830.0000000000001 v2.8 M563.67,925.1000000000001 v-1.4 M563.67,830.0000000000001 v1.4 M570.81,925.1000000000001 v-1.4 M570.81,830.0000000000001 v1.4 M577.95,925.1000000000001 v-1.4 M577.95,830.0000000000001 v1.4 M585.09,925.1000000000001 v-1.4 M585.09,830.0000000000001 v1.4 M592.23,925.1000000000001 v-2.8 M592.23,830.0000000000001 v2.8 M599.37,925.1000000000001 v-1.4 M599.37,830.0000000000001 v1.4 M606.51,925.1000000000001 v-1.4 M606.51,830.0000000000001 v1.4 M613.65,925.1000000000001 v-1.4 M613.65,830.0000000000001 v1.4 M620.79,925.1000000000001 v-1.4 M620.79,830.0000000000001 v1.4 M627.93,925.1000000000001 v-2.8 M627.93,830.0000000000001 v2.8 M635.07,925.1000000000001 v-1.4 M635.07,830.0000000000001 v1.4 M642.21,925.1000000000001 v-1.4 M642.21,830.0000000000001 v1.4 M649.35,925.1000000000001 v-1.4 M649.35,830.0000000000001 v1.4 M656.49,925.1000000000001 v-1.4 M656.49,830.0000000000001 v1.4 M663.63,925.1000000000001 v-2.8 M663.63,830.0000000000001 v2.8 M670.77,925.1000000000001 v-1.4 M670.77,830.0000000000001 v1.4 M549.6,923.34 h2.8 M677.7,923.34 h-2.8 M549.6,907.36 h1.4 M677.7,907.36 h-1.4 M549.6,891.38 h2.8 M677.7,891.38 h-2.8 M549.6,875.39 h1.4 M677.7,875.39 h-1.4 M549.6,859.41 h2.8 M677.7,859.41 h-2.8 M549.6,843.43 h1.4 M677.7,843.43 h-1.4" stroke="#333" stroke-width="0.95" fill="none"/>
<text transform="matrix(1,0.0005,0,1,0,-0.2718)" x="543.81 548.00 550.26 554.25 558.43 562.73" y="933.30" font-size="6.90">3.1×10</text>
<text transform="matrix(1,0.0005,0,1,0,-0.2834)" x="566.83" y="930.10" font-size="4.69">4</text>
<text transform="matrix(1,0.0005,0,1,0,-0.2886)" x="577.36 581.55 583.81 588.11 592.10 596.28 600.58" y="933.30" font-size="6.90">3.15×10</text>
<text transform="matrix(1,0.0005,0,1,0,-0.3023)" x="604.68" y="930.10" font-size="4.69">4</text>
<text transform="matrix(1,0.0005,0,1,0,-0.3075)" x="615.21 619.40 621.66 625.65 629.83 634.13" y="933.30" font-size="6.90">3.2×10</text>
<text transform="matrix(1,0.0005,0,1,0,-0.3191)" x="638.23" y="930.10" font-size="4.69">4</text>
<text transform="matrix(1,0.0005,0,1,0,-0.3243)" x="648.76 652.95 655.21 659.51 663.50 667.68 671.98" y="933.30" font-size="6.90">3.25×10</text>
<text transform="matrix(1,0.0005,0,1,0,-0.3380)" x="676.08" y="930.10" font-size="4.69">4</text>
<text transform="translate(544.80,930.44) rotate(-90) matrix(1,0.0005,0,1,0,0)" x="0.78 5.82 10.12" y="0" font-size="6.90">−20</text>
<text transform="translate(544.80,893.53) rotate(-90) matrix(1,0.0005,0,1,0,0)" x="0.23" y="0" font-size="6.90">0</text>
<text transform="translate(544.80,863.71) rotate(-90) matrix(1,0.0005,0,1,0,0)" x="0.23 4.53" y="0" font-size="6.90">20</text>
<text transform="matrix(1,0.0005,0,1,0,-0.2964)" x="592.87" y="941.70" font-size="7.00">v</text>
<text transform="matrix(1,0.0005,0,1,0,-0.2981)" x="596.43 599.63 602.91" y="945.00" font-size="4.90">opt</text>
<text transform="matrix(1,0.0005,0,1,0,-0.3037)" x="607.64 610.39 614.27 621.16 623.93" y="941.70" font-size="7.00">(km s</text>
<line x1="627.40" y1="937.40" x2="631.60" y2="937.40" stroke="#333" stroke-width="0.7"/>
<text transform="matrix(1,0.0005,0,1,0,-0.3160)" x="632.11" y="938.50" font-size="5.00">1</text>
<text transform="matrix(1,0.0005,0,1,0,-0.3171)" x="634.54" y="941.70" font-size="7.00">)</text>
<text transform="translate(532.10,895.21) rotate(-90) matrix(1,0.0005,0,1,0,0)" x="-0.25 3.85 5.52 9.50 13.74 16.70 19.58 25.58 28.94 32.68" y="0" font-size="7.00">Flux (mJy)</text>
<text transform="matrix(1,0.0005,0,1,0,-0.2787)" x="557.35 559.11 563.85 568.28 573.89 577.07 581.73 586.39 591.05 595.71 600.97 606.43 611.09 615.75 620.41 625.62 628.91 631.91 636.62 642.08 646.59 649.06 653.72 658.38 663.04 667.82" y="838.44" font-size="7.30">IRAS 11095−0238 (z=0.1066)</text>
<text transform="matrix(1,0.0005,0,1,0,-0.2786)" x="557.54 560.69 565.20 567.68 572.60 576.61 579.68 584.10 588.41 592.84 595.95 598.55 603.09 605.89 610.43" y="848.05" font-size="7.30">(1.5" aperture)</text>
<text transform="matrix(1,0.0005,0,1,0,-0.3154)" x="630.82 635.83 640.64" y="848.05" font-size="7.30">HCO</text>
<text transform="matrix(1,0.0005,0,1,0,-0.3230)" x="646.28" y="845.35" font-size="5.60">+</text>
<text transform="matrix(1,0.0005,0,1,0,-0.3249)" x="650.65 653.83 659.08 664.54" y="848.05" font-size="7.30"> 3−2</text>
</svg></body></html>
